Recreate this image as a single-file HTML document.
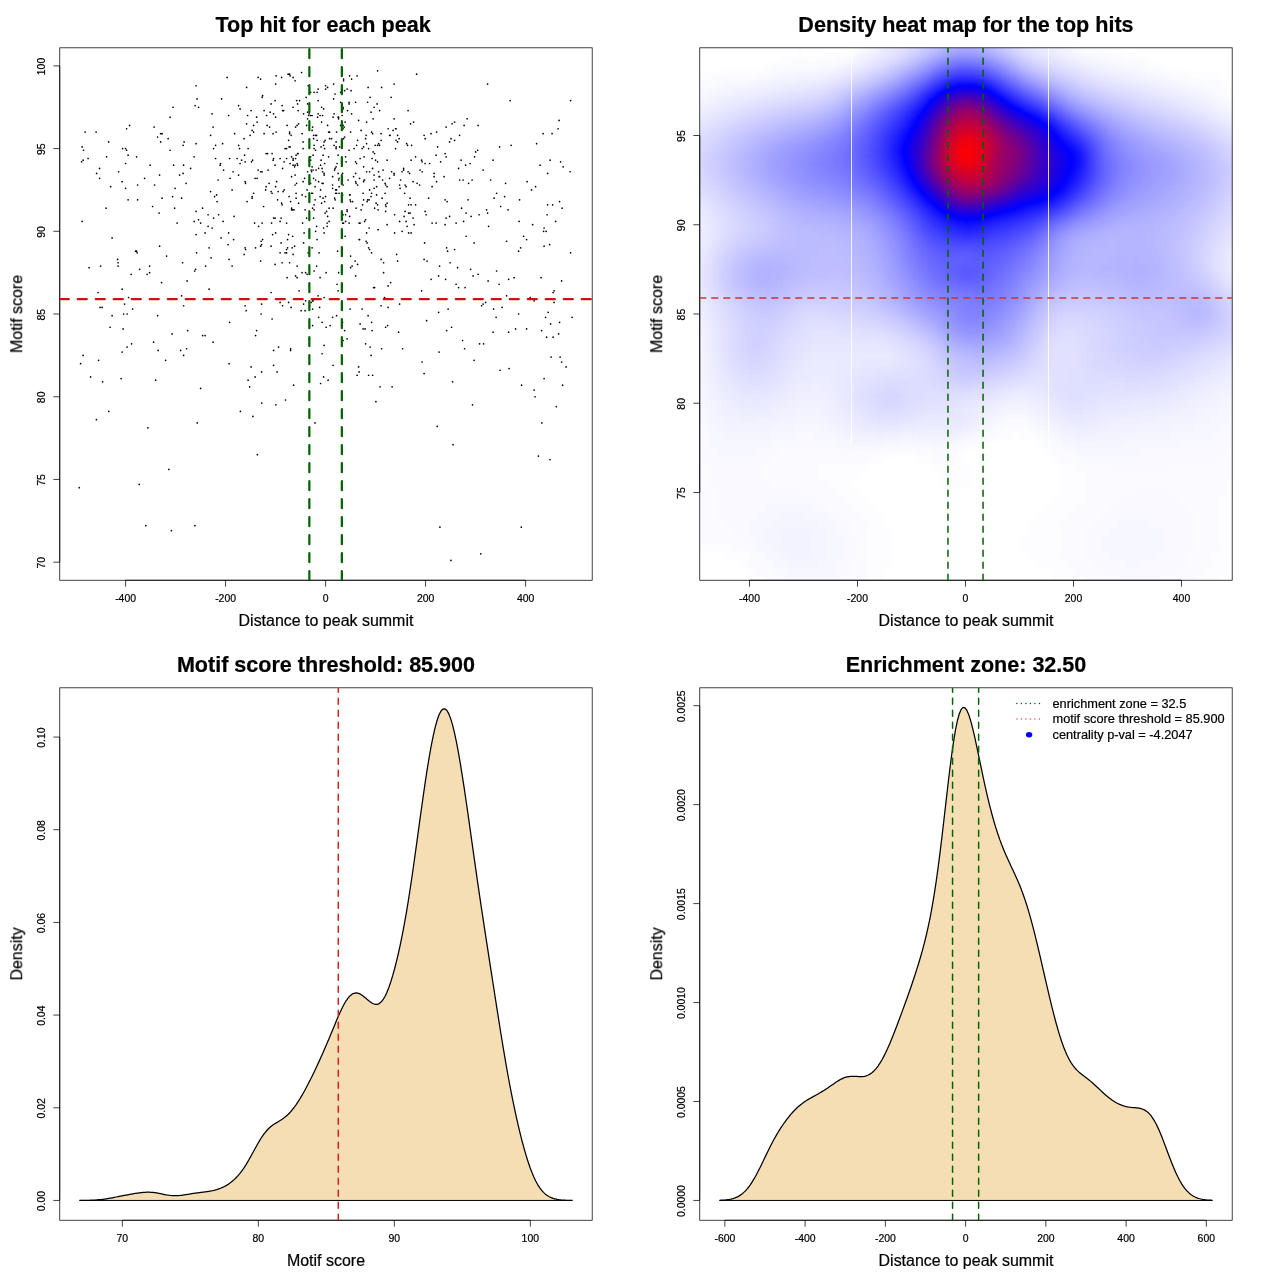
<!DOCTYPE html>
<html lang="en"><head><meta charset="utf-8"><title>Motif enrichment plots</title>
<style>
html,body{margin:0;padding:0;background:#fff;}
svg{display:block;font-family:'Liberation Sans', Arial, Helvetica, sans-serif;fill:#000;}
svg text{stroke:#000;stroke-width:0.22px;}
</style></head>
<body>
<svg width="1280" height="1280" viewBox="0 0 1280 1280">
<defs><clipPath id="c1"><rect x="59.76" y="47.81" width="532.43" height="532.43"/></clipPath><clipPath id="c2"><rect x="699.76" y="47.81" width="532.43" height="532.43"/></clipPath><clipPath id="c3"><rect x="59.76" y="687.81" width="532.43" height="532.43"/></clipPath><clipPath id="c4"><rect x="699.76" y="687.81" width="532.43" height="532.43"/></clipPath><filter id="hm" x="-5%" y="-5%" width="110%" height="110%" color-interpolation-filters="sRGB"><feGaussianBlur stdDeviation="4.8"/><feComponentTransfer><feFuncR type="table" tableValues="1 0 1"/><feFuncG type="table" tableValues="1 0 0"/><feFuncB type="table" tableValues="1 1 0"/><feFuncA type="linear" slope="0" intercept="1"/></feComponentTransfer></filter></defs>
<rect width="1280" height="1280" fill="#fff"/>
<g id="panel1" opacity="0.999">
<rect x="59.76" y="47.81" width="532.43" height="532.43" fill="none" stroke="#000" stroke-width="0.75"/>
<path d="M125.6 580.24H525.6M125.6 580.24v6.4M225.6 580.24v6.4M325.6 580.24v6.4M425.6 580.24v6.4M525.6 580.24v6.4M59.76 562.17V65.87M59.76 562.17h-6.4M59.76 479.46h-6.4M59.76 396.74h-6.4M59.76 314.02h-6.4M59.76 231.31h-6.4M59.76 148.59h-6.4M59.76 65.87h-6.4" fill="none" stroke="#000" stroke-width="0.75"/>
<text x="125.6" y="601.84" font-size="10.45" text-anchor="middle">-400</text>
<text x="225.6" y="601.84" font-size="10.45" text-anchor="middle">-200</text>
<text x="325.6" y="601.84" font-size="10.45" text-anchor="middle">0</text>
<text x="425.6" y="601.84" font-size="10.45" text-anchor="middle">200</text>
<text x="525.6" y="601.84" font-size="10.45" text-anchor="middle">400</text>
<text x="44.86" y="562.77" font-size="10.45" text-anchor="middle" transform="rotate(-90 44.86 562.77)">70</text>
<text x="44.86" y="480.06" font-size="10.45" text-anchor="middle" transform="rotate(-90 44.86 480.06)">75</text>
<text x="44.86" y="397.34" font-size="10.45" text-anchor="middle" transform="rotate(-90 44.86 397.34)">80</text>
<text x="44.86" y="314.62" font-size="10.45" text-anchor="middle" transform="rotate(-90 44.86 314.62)">85</text>
<text x="44.86" y="231.91" font-size="10.45" text-anchor="middle" transform="rotate(-90 44.86 231.91)">90</text>
<text x="44.86" y="149.19" font-size="10.45" text-anchor="middle" transform="rotate(-90 44.86 149.19)">95</text>
<text x="44.86" y="66.47" font-size="10.45" text-anchor="middle" transform="rotate(-90 44.86 66.47)">100</text>
<text x="323.1" y="31.8" font-size="21.55" text-anchor="middle" font-weight="bold">Top hit for each peak</text>
<text x="325.98" y="625.84" font-size="15.98" text-anchor="middle">Distance to peak summit</text>
<text x="22.26" y="314.02" font-size="15.98" text-anchor="middle" transform="rotate(-90 22.26 314.02)">Motif score</text>
<path d="M558.1 128.74h0M463.1 180.02h0M311.6 193.26h0M245.1 305.75h0M544.1 228h0M129.6 125.43h0M247.1 201.53h0M251.6 161.82h0M266.1 186.64h0M214.6 196.57h0M496.6 271.01h0M298.1 110.54h0M518.6 251.16h0M196.1 143.63h0M490.6 180.02h0M362.6 204.84h0M432.1 186.64h0M180.6 350.42h0M478.1 125.43h0M344.6 330.57h0M252.1 130.39h0M228.1 244.54h0M448.1 309.06h0M320.1 277.63h0M558.6 333.88h0M376.1 203.18h0M337.6 251.16h0M196.1 234.62h0M385.6 211.46h0M347.1 89.03h0M369.6 189.95h0M368.6 247.85h0M385.1 183.33h0M268.1 170.1h0M272.1 153.55h0M272.1 318.99h0M258.6 226.34h0M234.1 216.42h0M472.1 180.02h0M397.6 141.97h0M127.1 314.02h0M308.1 252.81h0M316.6 135.36h0M341.6 325.6h0M112.1 237.92h0M336.6 193.26h0M335.1 168.44h0M244.6 155.21h0M547.6 204.84h0M405.1 184.99h0M570.6 252.81h0M338.1 155.21h0M323.6 376.89h0M563.1 166.79h0M452.6 381.85h0M318.1 89.03h0M366.6 232.96h0M342.6 194.91h0M404.1 216.42h0M286.6 249.5h0M446.6 330.57h0M136.6 156.86h0M570.6 100.61h0M515.6 328.91h0M530.1 297.48h0M458.6 287.55h0M303.1 141.97h0M379.6 145.28h0M315.6 231.31h0M296.1 198.22h0M261.6 244.54h0M410.6 123.78h0M246.1 299.13h0M309.1 338.84h0M253.6 125.43h0M348.1 180.02h0M394.1 175.06h0M454.6 140.32h0M282.1 262.74h0M465.1 287.55h0M372.6 168.44h0M99.6 178.37h0M559.1 120.47h0M217.1 201.53h0M183.1 145.28h0M390.6 282.59h0M340.6 102.27h0M291.6 176.71h0M463.6 221.38h0M282.6 305.75h0M186.6 348.77h0M307.6 103.92h0M496.6 193.26h0M387.1 224.69h0M253.6 132.05h0M152.6 206.49h0M343.1 107.23h0M479.6 343.8h0M297.6 299.13h0M233.1 171.75h0M275.6 186.64h0M295.6 275.97h0M296.1 155.21h0M508.1 209.8h0M83.1 355.38h0M301.6 72.49h0M183.1 173.41h0M436.1 155.21h0M278.6 347.11h0M341.6 266.05h0M122.1 181.68h0M424.6 242.89h0M296.6 183.33h0M200.6 223.04h0M123.1 328.91h0M322.1 183.33h0M149.6 266.05h0M82.1 221.38h0M470.6 269.36h0M305.6 196.57h0M273.6 350.42h0M411.6 145.28h0M229.1 259.43h0M302.6 223.04h0M559.6 201.53h0M108.6 141.97h0M488.6 226.34h0M295.6 158.52h0M449.6 141.97h0M323.6 228h0M554.1 302.44h0M374.6 153.55h0M228.6 232.96h0M96.1 132.05h0M536.6 143.63h0M371.6 322.3h0M158.1 350.42h0M424.1 259.43h0M310.6 160.17h0M483.1 304.1h0M324.1 175.06h0M424.1 373.58h0M275.1 100.61h0M205.6 266.05h0M331.6 138.66h0M445.1 199.87h0M452.1 123.78h0M213.6 218.07h0M369.1 199.87h0M209.1 247.85h0M324.1 297.48h0M333.6 98.96h0M297.1 163.48h0M417.1 183.33h0M350.6 256.12h0M124.6 304.1h0M325.6 196.57h0M181.6 198.22h0M195.1 105.58h0M366.1 135.36h0M128.1 199.87h0M561.6 280.94h0M239.6 148.59h0M299.1 290.86h0M413.1 218.07h0M312.6 300.79h0M544.1 246.2h0M333.6 84.07h0M298.6 203.18h0M135.6 251.16h0M246.1 310.72h0M357.6 264.39h0M413.6 122.12h0M350.1 199.87h0M439.1 352.07h0M387.1 160.17h0M257.1 178.37h0M450.1 262.74h0M409.6 173.41h0M183.6 165.13h0M295.1 175.06h0M161.6 282.59h0M229.6 322.3h0M228.6 115.5h0M357.1 75.8h0M372.6 133.7h0M372.1 330.57h0M195.6 269.36h0M336.1 141.97h0M262.1 97.31h0M292.6 236.27h0M328.6 132.05h0M162.1 133.7h0M312.6 325.6h0M293.1 158.52h0M499.1 284.25h0M318.6 317.33h0M374.6 287.55h0M267.1 125.43h0M425.1 163.48h0M367.6 199.87h0M336.1 166.79h0M570.1 171.75h0M438.6 275.97h0M333.1 208.15h0M212.1 113.85h0M174.6 208.15h0M157.6 137.01h0M280.1 252.81h0M325.1 140.32h0M363.6 199.87h0M196.1 85.73h0M362.1 309.06h0M425.1 138.66h0M290.6 350.42h0M372.6 168.44h0M291.6 208.15h0M360.1 323.95h0M294.6 166.79h0M327.6 216.42h0M248.1 148.59h0M466.1 236.27h0M137.1 252.81h0M543.6 231.31h0M483.6 343.8h0M408.1 110.54h0M284.1 189.95h0M307.6 118.81h0M434.1 176.71h0M511.1 145.28h0M291.6 209.8h0M371.6 132.05h0M308.1 85.73h0M349.6 194.91h0M408.6 232.96h0M342.6 173.41h0M366.1 241.23h0M502.1 307.41h0M552.1 133.7h0M334.6 170.1h0M340.6 92.34h0M359.6 239.58h0M357.6 184.99h0M312.1 247.85h0M336.1 146.94h0M240.1 163.48h0M216.6 194.91h0M270.1 112.19h0M238.6 145.28h0M122.6 148.59h0M335.1 199.87h0M377.6 70.84h0M229.6 158.52h0M367.1 242.89h0M315.1 199.87h0M194.1 221.38h0M320.1 196.57h0M421.6 290.86h0M446.1 156.86h0M365.6 219.73h0M332.6 176.71h0M245.6 183.33h0M281.6 77.45h0M355.6 181.68h0M385.6 327.26h0M406.1 221.38h0M308.6 115.5h0M363.6 146.94h0M322.1 353.73h0M313.1 300.79h0M545.6 317.33h0M154.1 127.08h0M127.1 347.11h0M327.1 223.04h0M456.1 223.04h0M215.6 145.28h0M376.6 194.91h0M324.1 232.96h0M276.1 132.05h0M292.6 209.8h0M125.6 163.48h0M468.6 183.33h0M387.6 325.6h0M447.6 251.16h0M202.6 208.15h0M383.1 170.1h0M377.6 145.28h0M422.1 171.75h0M356.6 145.28h0M500.6 206.49h0M297.1 266.05h0M381.1 259.43h0M289.6 262.74h0M343.6 79.11h0M416.6 74.15h0M339.1 178.37h0M305.1 310.72h0M436.1 223.04h0M301.1 310.72h0M250.1 135.36h0M446.1 218.07h0M422.1 362h0M106.6 156.86h0M125.6 148.59h0M546.6 337.18h0M402.1 231.31h0M137.6 184.99h0M381.6 87.38h0M316.6 226.34h0M353.6 176.71h0M186.1 183.33h0M370.1 97.31h0M445.1 224.69h0M394.1 84.07h0M508.6 279.28h0M280.1 221.38h0M535.1 396.74h0M477.6 150.24h0M117.6 259.43h0M366.6 171.75h0M534.1 390.12h0M359.1 371.93h0M426.6 320.64h0M175.1 188.29h0M347.6 110.54h0M287.6 247.85h0M550.6 323.95h0M560.6 161.82h0M474.6 156.86h0M297.1 277.63h0M264.1 110.54h0M307.6 112.19h0M256.6 117.16h0M388.1 285.9h0M343.1 214.76h0M277.6 199.87h0M500.1 370.27h0M365.6 138.66h0M451.1 138.66h0M428.6 198.22h0M159.1 213.11h0M371.1 355.38h0M566.1 366.96h0M421.6 160.17h0M329.6 132.05h0M479.1 214.76h0M349.6 75.8h0M299.6 100.61h0M414.1 224.69h0M493.1 160.17h0M303.6 304.1h0M332.6 184.99h0M354.1 148.59h0M338.6 180.02h0M352.1 266.05h0M230.1 178.37h0M374.6 208.15h0M310.6 115.5h0M508.6 332.22h0M381.1 133.7h0M283.1 191.6h0M136.6 251.16h0M289.6 133.7h0M382.1 198.22h0M307.1 274.32h0M391.6 171.75h0M324.6 148.59h0M360.1 223.04h0M106.1 208.15h0M313.6 135.36h0M532.6 224.69h0M371.6 252.81h0M309.1 113.85h0M205.1 232.96h0M407.6 145.28h0M273.6 218.07h0M282.1 105.58h0M283.6 110.54h0M244.1 254.47h0M499.6 146.94h0M293.1 165.13h0M281.1 242.89h0M379.6 176.71h0M427.1 261.09h0M345.1 236.27h0M322.1 322.3h0M288.6 234.62h0M394.1 118.81h0M303.6 113.85h0M376.6 186.64h0M488.1 280.94h0M297.6 103.92h0M359.6 178.37h0M291.6 156.86h0M434.1 173.41h0M147.1 274.32h0M288.1 74.15h0M458.6 168.44h0M310.6 156.86h0M396.6 254.47h0M312.1 115.5h0M89.1 267.7h0M324.1 345.46h0M128.6 297.48h0M323.6 108.89h0M364.1 180.02h0M340.6 125.43h0M371.1 196.57h0M526.6 328.91h0M553.1 292.52h0M389.6 135.36h0M365.6 343.8h0M481.6 305.75h0M314.1 271.01h0M314.1 148.59h0M321.6 122.12h0M425.1 211.46h0M431.1 133.7h0M320.6 189.95h0M457.6 267.7h0M327.6 125.43h0M350.1 309.06h0M298.1 153.55h0M415.6 204.84h0M314.1 204.84h0M549.6 244.54h0M210.6 135.36h0M100.1 307.41h0M96.6 173.41h0M246.6 87.38h0M305.1 209.8h0M369.6 249.5h0M212.1 228h0M295.1 184.99h0M288.6 140.32h0M310.6 183.33h0M342.6 322.3h0M389.6 178.37h0M276.1 75.8h0M424.1 135.36h0M494.1 198.22h0M229.1 363.65h0M291.1 307.41h0M271.1 292.52h0M344.1 127.08h0M209.1 289.21h0M287.1 277.63h0M290.6 201.53h0M347.1 338.84h0M336.6 189.95h0M327.1 226.34h0M286.6 252.81h0M375.1 145.28h0M322.6 171.75h0M302.1 272.67h0M255.6 247.85h0M252.6 160.17h0M345.1 122.12h0M261.6 304.1h0M181.6 295.83h0M173.6 165.13h0M411.1 232.96h0M238.6 105.58h0M459.6 180.02h0M172.1 333.88h0M338.6 117.16h0M309.6 89.03h0M179.6 175.06h0M324.6 201.53h0M262.1 171.75h0M280.1 302.44h0M327.6 87.38h0M325.1 213.11h0M305.6 300.79h0M273.1 160.17h0M307.6 171.75h0M314.1 145.28h0M355.6 275.97h0M349.1 223.04h0M200.6 388.47h0M410.1 213.11h0M338.6 272.67h0M273.6 113.85h0M280.1 158.52h0M350.6 132.05h0M296.6 100.61h0M438.6 312.37h0M245.1 181.68h0M561.6 362h0M149.6 272.67h0M131.1 274.32h0M363.6 166.79h0M165.6 360.35h0M284.1 161.82h0M519.1 221.38h0M194.6 271.01h0M245.1 161.82h0M338.6 118.81h0M258.1 170.1h0M381.1 140.32h0M317.1 239.58h0M249.6 386.81h0M478.1 274.32h0M232.1 189.95h0M213.1 342.15h0M154.6 184.99h0M325.6 89.03h0M320.6 165.13h0M461.1 160.17h0M551.1 357.04h0M278.1 191.6h0M410.1 198.22h0M319.6 307.41h0M381.6 348.77h0M356.6 163.48h0M467.1 118.81h0M315.6 150.24h0M168.1 138.66h0M324.6 163.48h0M99.6 168.44h0M413.1 181.68h0M384.6 297.48h0M369.6 171.75h0M339.1 186.64h0M394.1 173.41h0M297.6 165.13h0M202.6 335.53h0M240.1 108.89h0M271.6 223.04h0M403.6 170.1h0M275.6 117.16h0M285.1 252.81h0M198.6 219.73h0M273.6 365.31h0M361.1 130.39h0M302.1 133.7h0M234.6 133.7h0M364.6 180.02h0M396.1 128.74h0M317.1 92.34h0M357.1 375.23h0M387.1 203.18h0M221.1 237.92h0M263.6 206.49h0M311.6 171.75h0M382.6 180.02h0M262.6 239.58h0M369.1 228h0M309.6 305.75h0M317.1 140.32h0M314.1 92.34h0M385.1 193.26h0M337.1 163.48h0M162.1 198.22h0M205.1 335.53h0M173.1 107.23h0M131.6 343.8h0M355.1 261.09h0M262.6 95.65h0M374.1 175.06h0M265.6 189.95h0M325.6 85.73h0M373.6 287.55h0M483.1 170.1h0M296.1 193.26h0M553.1 337.18h0M160.6 133.7h0M197.1 98.96h0M350.1 194.91h0M261.1 241.23h0M357.6 140.32h0M548.1 312.37h0M394.6 232.96h0M121.1 378.54h0M345.6 214.76h0M295.6 127.08h0M241.6 160.17h0M312.6 127.08h0M431.1 279.28h0M128.1 155.21h0M328.1 380.2h0M157.6 315.68h0M464.6 348.77h0M395.6 128.74h0M293.6 385.16h0M487.6 84.07h0M342.1 105.58h0M221.6 98.96h0M289.6 74.15h0M368.1 87.38h0M218.1 180.02h0M118.6 171.75h0M429.6 163.48h0M203.6 299.13h0M344.6 137.01h0M232.1 266.05h0M406.1 186.64h0M355.6 161.82h0M83.6 150.24h0M373.1 118.81h0M493.6 309.06h0M183.6 305.75h0M233.6 239.58h0M166.6 256.12h0M317.6 117.16h0M286.6 158.52h0M227.1 77.45h0M322.1 168.44h0M377.1 103.92h0M474.1 242.89h0M520.6 247.85h0M368.6 375.23h0M315.1 186.64h0M345.6 221.38h0M334.1 113.85h0M343.1 108.89h0M465.6 165.13h0M293.1 160.17h0M534.1 300.79h0M194.1 156.86h0M313.6 138.66h0M523.6 236.27h0M282.6 168.44h0M373.1 151.9h0M544.1 378.54h0M550.1 160.17h0M245.1 247.85h0M370.1 347.11h0M345.6 156.86h0M400.1 188.29h0M342.6 223.04h0M211.1 257.78h0M126.6 150.24h0M218.6 214.76h0M355.6 173.41h0M378.6 171.75h0M305.6 272.67h0M255.6 335.53h0M304.1 232.96h0M555.6 221.38h0M125.6 188.29h0M358.6 120.47h0M246.6 123.78h0M139.6 269.36h0M316.6 266.05h0M474.1 360.35h0M393.1 130.39h0M223.1 221.38h0M184.1 141.97h0M342.1 218.07h0M385.6 184.99h0M198.6 107.23h0M547.6 173.41h0M286.6 148.59h0M287.1 125.43h0M155.6 380.2h0M468.1 199.87h0M333.1 117.16h0M446.6 247.85h0M505.6 183.33h0M411.1 204.84h0M282.1 204.84h0M398.6 332.22h0M351.1 90.69h0M253.6 193.26h0M292.1 247.85h0M323.1 155.21h0M273.6 158.52h0M182.6 262.74h0M338.1 173.41h0M288.6 302.44h0M311.1 170.1h0M260.6 246.2h0M160.6 141.97h0M100.6 266.05h0M332.6 317.33h0M295.1 80.76h0M307.1 189.95h0M187.6 330.57h0M332.6 188.29h0M445.1 153.55h0M294.1 209.8h0M521.6 385.16h0M318.1 113.85h0M170.1 117.16h0M112.1 315.68h0M329.6 138.66h0M312.6 193.26h0M344.6 90.69h0M312.6 208.15h0M293.1 77.45h0M396.1 140.32h0M336.6 315.68h0M510.1 100.61h0M137.6 199.87h0M349.1 150.24h0M378.1 229.65h0M315.6 180.02h0M330.1 325.6h0M349.6 216.42h0M372.1 158.52h0M407.1 226.34h0M535.6 186.64h0M399.1 138.66h0M559.6 322.3h0M356.1 208.15h0M254.6 223.04h0M368.1 315.68h0M466.1 213.11h0M383.6 272.67h0M321.6 203.18h0M372.6 375.23h0M318.1 100.61h0M360.1 158.52h0M350.6 267.7h0M385.6 204.84h0M386.1 206.49h0M371.6 193.26h0M223.6 170.1h0M420.1 170.1h0M399.6 221.38h0M493.1 332.22h0M289.6 132.05h0M335.6 189.95h0M475.6 151.9h0M485.6 302.44h0M359.1 223.04h0M316.1 170.1h0M378.1 209.8h0M122.1 289.21h0M470.1 163.48h0M473.1 275.97h0M222.6 143.63h0M261.6 371.93h0M183.6 355.38h0M543.1 133.7h0M289.1 196.57h0M432.1 223.04h0M343.1 125.43h0M372.1 158.52h0M213.6 148.59h0M262.1 223.04h0M397.6 261.09h0M302.1 194.91h0M392.1 386.81h0M266.1 153.55h0M123.6 314.02h0M290.1 146.94h0M328.6 156.86h0M271.1 103.92h0M334.1 145.28h0M343.6 223.04h0M361.1 209.8h0M519.6 199.87h0M388.1 128.74h0M426.1 214.76h0M546.1 231.31h0M170.1 150.24h0M245.6 249.5h0M286.6 223.04h0M531.6 189.95h0M374.1 180.02h0M309.6 180.02h0M257.1 122.12h0M364.1 156.86h0M364.6 221.38h0M321.1 160.17h0M252.1 196.57h0M291.1 135.36h0M306.1 97.31h0M294.6 246.2h0M562.1 208.15h0M547.1 214.76h0M408.6 213.11h0M356.1 183.33h0M159.6 175.06h0M541.6 330.57h0M471.1 216.42h0M260.6 261.09h0M387.1 186.64h0M237.1 158.52h0M98.1 292.52h0M196.1 211.46h0M541.1 277.63h0M321.1 146.94h0M461.6 208.15h0M260.6 79.11h0M560.1 357.04h0M269.6 127.08h0M363.1 193.26h0M342.6 125.43h0M397.6 135.36h0M290.1 75.8h0M335.6 193.26h0M324.1 173.41h0M320.6 383.51h0M110.6 186.64h0M454.6 249.5h0M118.1 266.05h0M436.6 181.68h0M380.1 386.81h0M374.1 188.29h0M256.6 330.57h0M339.6 146.94h0M496.1 317.33h0M275.1 264.39h0M324.1 141.97h0M315.6 135.36h0M337.1 284.25h0M187.1 280.94h0M98.6 360.35h0M319.1 252.81h0M365.1 328.91h0M275.1 218.07h0M439.6 266.05h0M251.1 366.96h0M126.6 128.74h0M264.1 133.7h0M298.6 123.78h0M367.1 201.53h0M276.6 181.68h0M359.1 239.58h0M338.1 117.16h0M220.6 163.48h0M282.6 110.54h0M518.6 314.02h0M336.6 132.05h0M275.6 84.07h0M275.6 232.96h0M290.1 163.48h0M273.1 133.7h0M338.1 290.86h0M267.6 153.55h0M371.1 112.19h0M552.6 204.84h0M81.6 161.82h0M323.1 198.22h0M247.6 115.5h0M261.1 314.02h0M437.6 146.94h0M408.6 204.84h0M366.6 143.63h0M408.1 171.75h0M272.6 234.62h0M303.1 148.59h0M287.6 239.58h0M213.1 127.08h0M447.1 201.53h0M540.1 165.13h0M266.6 115.5h0M395.6 148.59h0M363.1 328.91h0M102.6 381.85h0M271.1 246.2h0M238.6 175.06h0M85.1 132.05h0M415.6 156.86h0M506.6 295.83h0M355.6 102.27h0M318.1 295.83h0M562.6 385.16h0M440.6 161.82h0M83.1 160.17h0M406.6 143.63h0M322.6 115.5h0M487.6 213.11h0M312.1 166.79h0M383.6 262.74h0M402.1 171.75h0M271.1 191.6h0M244.1 138.66h0M314.1 209.8h0M321.6 107.23h0M159.6 246.2h0M306.6 218.07h0M343.1 128.74h0M144.6 178.37h0M375.6 160.17h0M329.1 221.38h0M285.1 148.59h0M260.6 171.75h0M303.6 242.89h0M411.1 160.17h0M351.6 79.11h0M275.1 165.13h0M379.6 110.54h0M303.1 181.68h0M313.6 178.37h0M352.6 201.53h0M377.6 161.82h0M258.1 77.45h0M462.6 340.49h0M436.6 132.05h0M527.1 181.68h0M419.6 184.99h0M388.1 307.41h0M248.1 380.2h0M190.6 168.44h0M306.6 125.43h0M210.6 191.6h0M290.6 348.77h0M394.6 214.76h0M196.6 252.81h0M342.1 115.5h0M313.1 170.1h0M347.1 211.46h0M572.1 317.33h0M318.6 168.44h0M368.6 148.59h0M80.6 363.65h0M309.6 160.17h0M449.6 216.42h0M347.1 209.8h0M349.1 103.92h0M102.1 307.41h0M122.1 352.07h0M329.1 208.15h0M349.1 102.27h0M255.1 178.37h0M446.1 127.08h0M297.6 153.55h0M374.6 208.15h0M281.1 218.07h0M215.6 158.52h0M318.6 181.68h0M323.1 183.33h0M293.1 254.47h0M390.1 135.36h0M277.1 371.93h0M464.1 125.43h0M403.6 168.44h0M150.1 165.13h0M323.6 145.28h0M343.6 80.76h0M255.1 376.89h0M208.1 226.34h0M313.6 218.07h0M377.6 204.84h0M326.6 211.46h0M334.6 198.22h0M110.1 327.26h0M526.6 239.58h0M378.6 143.63h0M295.1 165.13h0M506.6 241.23h0M208.1 214.76h0M336.1 148.59h0M297.1 125.43h0M313.1 155.21h0M312.6 309.06h0M391.1 97.31h0M381.1 305.75h0M399.6 304.1h0M509.1 368.62h0M399.6 184.99h0M312.1 130.39h0M132.6 309.06h0M366.6 122.12h0M153.6 342.15h0M486.6 209.8h0M362.1 148.59h0M339.1 193.26h0M363.6 181.68h0M554.1 290.86h0M311.1 302.44h0M374.1 107.23h0M346.1 161.82h0M177.1 223.04h0M459.6 135.36h0M272.1 193.26h0M326.6 211.46h0M351.6 113.85h0M82.1 146.94h0M445.6 279.28h0M118.1 262.74h0M281.6 203.18h0M400.6 180.02h0M252.1 198.22h0M444.1 176.71h0M326.1 327.26h0M422.1 161.82h0M343.1 340.49h0M367.6 102.27h0M405.1 211.46h0M343.1 184.99h0M220.1 165.13h0M251.1 110.54h0M326.1 272.67h0M350.6 201.53h0M289.1 146.94h0M333.1 365.31h0M88.1 158.52h0M514.1 277.63h0M90.6 376.89h0M402.6 348.77h0M451.6 327.26h0M504.6 196.57h0M335.1 94h0M358.6 366.96h0M269.1 183.33h0M404.6 193.26h0M172.6 196.57h0M456.1 284.25h0M454.6 122.12h0M320.1 115.5h0M293.1 107.23h0M304.6 178.37h0M379.1 176.71h0M310.6 92.34h0M343.6 138.66h0M108.8 411.4h0M96.4 419.7h0M147.9 427.8h0M197.2 422.9h0M240.4 411.4h0M252.9 416.4h0M261.8 403.1h0M275.9 404.8h0M285.5 400h0M315 422.9h0M257.4 454.7h0M168.9 469.4h0M139.2 484.4h0M79.3 487.7h0M145.8 525.7h0M171.4 530.7h0M194.9 525.7h0M375.9 401.7h0M472.5 404.8h0M556.3 406.6h0M541.9 422.9h0M437.2 426.4h0M453 444.7h0M538.4 456.1h0M550 459.6h0M439.9 527.2h0M521.3 527.2h0M480.8 553.8h0M450.9 560.4h0" stroke="#000" stroke-width="1.7" stroke-linecap="round" fill="none"/>
<g clip-path="url(#c1)">
<path d="M309.35 580.24L309.35 47.81" stroke="#006400" stroke-width="2.25" stroke-dasharray="9 9" stroke-linecap="round" fill="none"/>
<path d="M341.85 580.24L341.85 47.81" stroke="#006400" stroke-width="2.25" stroke-dasharray="9 9" stroke-linecap="round" fill="none"/>
<path d="M59.76 299.13L592.19 299.13" stroke="#CD1111" stroke-width="2.25" stroke-dasharray="9 9" stroke-linecap="round" fill="none"/>
</g>
</g>
<g id="panel2" opacity="0.999">
<g clip-path="url(#c2)"><g filter="url(#hm)">
<path fill="#000000" d="M675.76 23.81h184.5v8.5h-184.5zM1091.76 23.81h168.5v8.5h-168.5zM675.76 31.81h184.5v8.5h-184.5zM1091.76 31.81h168.5v8.5h-168.5zM675.76 39.81h184.5v8.5h-184.5zM1091.76 39.81h168.5v8.5h-168.5zM675.76 47.81h120.5v8.5h-120.5zM803.76 47.81h48.5v8.5h-48.5zM1123.76 47.81h136.5v8.5h-136.5zM675.76 55.81h104.5v8.5h-104.5zM1147.76 55.81h112.5v8.5h-112.5zM675.76 63.81h88.5v8.5h-88.5zM1163.76 63.81h96.5v8.5h-96.5zM1219.76 71.81h40.5v8.5h-40.5zM1227.76 79.81h32.5v8.5h-32.5zM1011.76 431.81h8.5v8.5h-8.5zM987.76 439.81h48.5v8.5h-48.5zM963.76 447.81h80.5v8.5h-80.5zM883.76 455.81h32.5v8.5h-32.5zM963.76 455.81h88.5v8.5h-88.5zM867.76 463.81h64.5v8.5h-64.5zM971.76 463.81h88.5v8.5h-88.5zM859.76 471.81h80.5v8.5h-80.5zM971.76 471.81h88.5v8.5h-88.5zM851.76 479.81h88.5v8.5h-88.5zM971.76 479.81h88.5v8.5h-88.5zM859.76 487.81h200.5v8.5h-200.5zM867.76 495.81h184.5v8.5h-184.5zM875.76 503.81h168.5v8.5h-168.5zM883.76 511.81h152.5v8.5h-152.5zM883.76 519.81h144.5v8.5h-144.5zM891.76 527.81h136.5v8.5h-136.5zM891.76 535.81h128.5v8.5h-128.5zM891.76 543.81h128.5v8.5h-128.5zM675.76 551.81h48.5v8.5h-48.5zM891.76 551.81h136.5v8.5h-136.5zM675.76 559.81h64.5v8.5h-64.5zM891.76 559.81h144.5v8.5h-144.5zM1227.76 559.81h32.5v8.5h-32.5zM675.76 567.81h72.5v8.5h-72.5zM883.76 567.81h168.5v8.5h-168.5zM1227.76 567.81h32.5v8.5h-32.5zM675.76 575.81h72.5v8.5h-72.5zM883.76 575.81h168.5v8.5h-168.5zM1219.76 575.81h40.5v8.5h-40.5zM675.76 583.81h72.5v8.5h-72.5zM883.76 583.81h168.5v8.5h-168.5zM1219.76 583.81h40.5v8.5h-40.5zM675.76 591.81h72.5v8.5h-72.5zM883.76 591.81h168.5v8.5h-168.5zM1219.76 591.81h40.5v8.5h-40.5zM675.76 599.81h72.5v8.5h-72.5zM883.76 599.81h168.5v8.5h-168.5zM1219.76 599.81h40.5v8.5h-40.5z"/>
<path fill="#010101" d="M1083.76 23.81h8.5v8.5h-8.5zM1083.76 31.81h8.5v8.5h-8.5zM1083.76 39.81h8.5v8.5h-8.5zM795.76 47.81h8.5v8.5h-8.5zM1099.76 47.81h24.5v8.5h-24.5zM779.76 55.81h56.5v8.5h-56.5zM1131.76 55.81h16.5v8.5h-16.5zM763.76 63.81h8.5v8.5h-8.5zM1155.76 63.81h8.5v8.5h-8.5zM675.76 71.81h40.5v8.5h-40.5zM1187.76 71.81h32.5v8.5h-32.5zM1219.76 79.81h8.5v8.5h-8.5zM1227.76 87.81h32.5v8.5h-32.5zM995.76 431.81h16.5v8.5h-16.5zM1019.76 431.81h16.5v8.5h-16.5zM971.76 439.81h16.5v8.5h-16.5zM1035.76 439.81h8.5v8.5h-8.5zM891.76 447.81h24.5v8.5h-24.5zM955.76 447.81h8.5v8.5h-8.5zM1043.76 447.81h8.5v8.5h-8.5zM867.76 455.81h16.5v8.5h-16.5zM915.76 455.81h16.5v8.5h-16.5zM955.76 455.81h8.5v8.5h-8.5zM1051.76 455.81h8.5v8.5h-8.5zM819.76 463.81h48.5v8.5h-48.5zM931.76 463.81h24.5v8.5h-24.5zM963.76 463.81h8.5v8.5h-8.5zM1059.76 463.81h16.5v8.5h-16.5zM819.76 471.81h40.5v8.5h-40.5zM939.76 471.81h32.5v8.5h-32.5zM1059.76 471.81h24.5v8.5h-24.5zM827.76 479.81h24.5v8.5h-24.5zM939.76 479.81h32.5v8.5h-32.5zM1059.76 479.81h24.5v8.5h-24.5zM1227.76 479.81h32.5v8.5h-32.5zM835.76 487.81h24.5v8.5h-24.5zM1059.76 487.81h24.5v8.5h-24.5zM1227.76 487.81h32.5v8.5h-32.5zM843.76 495.81h24.5v8.5h-24.5zM1051.76 495.81h32.5v8.5h-32.5zM1219.76 495.81h40.5v8.5h-40.5zM851.76 503.81h24.5v8.5h-24.5zM1043.76 503.81h32.5v8.5h-32.5zM1219.76 503.81h40.5v8.5h-40.5zM859.76 511.81h24.5v8.5h-24.5zM1035.76 511.81h32.5v8.5h-32.5zM1219.76 511.81h40.5v8.5h-40.5zM867.76 519.81h16.5v8.5h-16.5zM1027.76 519.81h32.5v8.5h-32.5zM1219.76 519.81h40.5v8.5h-40.5zM867.76 527.81h24.5v8.5h-24.5zM1027.76 527.81h32.5v8.5h-32.5zM1219.76 527.81h40.5v8.5h-40.5zM867.76 535.81h24.5v8.5h-24.5zM1019.76 535.81h40.5v8.5h-40.5zM1219.76 535.81h40.5v8.5h-40.5zM675.76 543.81h56.5v8.5h-56.5zM867.76 543.81h24.5v8.5h-24.5zM1019.76 543.81h40.5v8.5h-40.5zM1219.76 543.81h40.5v8.5h-40.5zM723.76 551.81h24.5v8.5h-24.5zM867.76 551.81h24.5v8.5h-24.5zM1027.76 551.81h32.5v8.5h-32.5zM1211.76 551.81h48.5v8.5h-48.5zM739.76 559.81h8.5v8.5h-8.5zM867.76 559.81h24.5v8.5h-24.5zM1035.76 559.81h32.5v8.5h-32.5zM1211.76 559.81h16.5v8.5h-16.5zM747.76 567.81h8.5v8.5h-8.5zM867.76 567.81h16.5v8.5h-16.5zM1051.76 567.81h24.5v8.5h-24.5zM1203.76 567.81h24.5v8.5h-24.5zM747.76 575.81h16.5v8.5h-16.5zM867.76 575.81h16.5v8.5h-16.5zM1051.76 575.81h32.5v8.5h-32.5zM1195.76 575.81h24.5v8.5h-24.5zM747.76 583.81h16.5v8.5h-16.5zM867.76 583.81h16.5v8.5h-16.5zM1051.76 583.81h32.5v8.5h-32.5zM1195.76 583.81h24.5v8.5h-24.5zM747.76 591.81h16.5v8.5h-16.5zM867.76 591.81h16.5v8.5h-16.5zM1051.76 591.81h32.5v8.5h-32.5zM1195.76 591.81h24.5v8.5h-24.5zM747.76 599.81h16.5v8.5h-16.5zM867.76 599.81h16.5v8.5h-16.5zM1051.76 599.81h32.5v8.5h-32.5zM1195.76 599.81h24.5v8.5h-24.5z"/>
<path fill="#020202" d="M1075.76 23.81h8.5v8.5h-8.5zM1075.76 31.81h8.5v8.5h-8.5zM1075.76 39.81h8.5v8.5h-8.5zM851.76 47.81h8.5v8.5h-8.5zM1083.76 47.81h16.5v8.5h-16.5zM835.76 55.81h8.5v8.5h-8.5zM1123.76 55.81h8.5v8.5h-8.5zM771.76 63.81h16.5v8.5h-16.5zM1147.76 63.81h8.5v8.5h-8.5zM715.76 71.81h40.5v8.5h-40.5zM1171.76 71.81h16.5v8.5h-16.5zM675.76 79.81h32.5v8.5h-32.5zM1203.76 79.81h16.5v8.5h-16.5zM1219.76 87.81h8.5v8.5h-8.5zM1227.76 95.81h32.5v8.5h-32.5zM1003.76 423.81h24.5v8.5h-24.5zM987.76 431.81h8.5v8.5h-8.5zM1035.76 431.81h8.5v8.5h-8.5zM963.76 439.81h8.5v8.5h-8.5zM1043.76 439.81h8.5v8.5h-8.5zM779.76 447.81h56.5v8.5h-56.5zM875.76 447.81h16.5v8.5h-16.5zM915.76 447.81h16.5v8.5h-16.5zM947.76 447.81h8.5v8.5h-8.5zM1051.76 447.81h8.5v8.5h-8.5zM1227.76 447.81h32.5v8.5h-32.5zM675.76 455.81h24.5v8.5h-24.5zM771.76 455.81h96.5v8.5h-96.5zM931.76 455.81h24.5v8.5h-24.5zM1059.76 455.81h16.5v8.5h-16.5zM1219.76 455.81h40.5v8.5h-40.5zM675.76 463.81h32.5v8.5h-32.5zM763.76 463.81h56.5v8.5h-56.5zM955.76 463.81h8.5v8.5h-8.5zM1075.76 463.81h32.5v8.5h-32.5zM1171.76 463.81h88.5v8.5h-88.5zM675.76 471.81h32.5v8.5h-32.5zM763.76 471.81h56.5v8.5h-56.5zM1083.76 471.81h176.5v8.5h-176.5zM675.76 479.81h32.5v8.5h-32.5zM771.76 479.81h56.5v8.5h-56.5zM1083.76 479.81h144.5v8.5h-144.5zM675.76 487.81h40.5v8.5h-40.5zM803.76 487.81h32.5v8.5h-32.5zM1083.76 487.81h48.5v8.5h-48.5zM1171.76 487.81h56.5v8.5h-56.5zM675.76 495.81h40.5v8.5h-40.5zM819.76 495.81h24.5v8.5h-24.5zM1083.76 495.81h32.5v8.5h-32.5zM1179.76 495.81h40.5v8.5h-40.5zM675.76 503.81h40.5v8.5h-40.5zM827.76 503.81h24.5v8.5h-24.5zM1075.76 503.81h32.5v8.5h-32.5zM1187.76 503.81h32.5v8.5h-32.5zM675.76 511.81h40.5v8.5h-40.5zM843.76 511.81h16.5v8.5h-16.5zM1067.76 511.81h32.5v8.5h-32.5zM1195.76 511.81h24.5v8.5h-24.5zM675.76 519.81h48.5v8.5h-48.5zM851.76 519.81h16.5v8.5h-16.5zM1059.76 519.81h32.5v8.5h-32.5zM1195.76 519.81h24.5v8.5h-24.5zM675.76 527.81h56.5v8.5h-56.5zM851.76 527.81h16.5v8.5h-16.5zM1059.76 527.81h24.5v8.5h-24.5zM1195.76 527.81h24.5v8.5h-24.5zM675.76 535.81h64.5v8.5h-64.5zM859.76 535.81h8.5v8.5h-8.5zM1059.76 535.81h24.5v8.5h-24.5zM1195.76 535.81h24.5v8.5h-24.5zM731.76 543.81h16.5v8.5h-16.5zM859.76 543.81h8.5v8.5h-8.5zM1059.76 543.81h24.5v8.5h-24.5zM1195.76 543.81h24.5v8.5h-24.5zM747.76 551.81h8.5v8.5h-8.5zM859.76 551.81h8.5v8.5h-8.5zM1059.76 551.81h24.5v8.5h-24.5zM1187.76 551.81h24.5v8.5h-24.5zM747.76 559.81h16.5v8.5h-16.5zM851.76 559.81h16.5v8.5h-16.5zM1067.76 559.81h24.5v8.5h-24.5zM1187.76 559.81h24.5v8.5h-24.5zM755.76 567.81h16.5v8.5h-16.5zM851.76 567.81h16.5v8.5h-16.5zM1075.76 567.81h24.5v8.5h-24.5zM1179.76 567.81h24.5v8.5h-24.5zM763.76 575.81h16.5v8.5h-16.5zM843.76 575.81h24.5v8.5h-24.5zM1083.76 575.81h32.5v8.5h-32.5zM1163.76 575.81h32.5v8.5h-32.5zM763.76 583.81h16.5v8.5h-16.5zM843.76 583.81h24.5v8.5h-24.5zM1083.76 583.81h32.5v8.5h-32.5zM1163.76 583.81h32.5v8.5h-32.5zM763.76 591.81h16.5v8.5h-16.5zM843.76 591.81h24.5v8.5h-24.5zM1083.76 591.81h32.5v8.5h-32.5zM1163.76 591.81h32.5v8.5h-32.5zM763.76 599.81h16.5v8.5h-16.5zM843.76 599.81h24.5v8.5h-24.5zM1083.76 599.81h32.5v8.5h-32.5zM1163.76 599.81h32.5v8.5h-32.5z"/>
<path fill="#030303" d="M859.76 23.81h8.5v8.5h-8.5zM1067.76 23.81h8.5v8.5h-8.5zM859.76 31.81h8.5v8.5h-8.5zM1067.76 31.81h8.5v8.5h-8.5zM859.76 39.81h8.5v8.5h-8.5zM1067.76 39.81h8.5v8.5h-8.5zM1075.76 47.81h8.5v8.5h-8.5zM843.76 55.81h8.5v8.5h-8.5zM1107.76 55.81h16.5v8.5h-16.5zM787.76 63.81h32.5v8.5h-32.5zM1139.76 63.81h8.5v8.5h-8.5zM755.76 71.81h16.5v8.5h-16.5zM1163.76 71.81h8.5v8.5h-8.5zM707.76 79.81h16.5v8.5h-16.5zM1187.76 79.81h16.5v8.5h-16.5zM675.76 87.81h24.5v8.5h-24.5zM1211.76 87.81h8.5v8.5h-8.5zM1219.76 95.81h8.5v8.5h-8.5zM675.76 407.81h24.5v8.5h-24.5zM675.76 415.81h24.5v8.5h-24.5zM1003.76 415.81h24.5v8.5h-24.5zM1227.76 415.81h32.5v8.5h-32.5zM675.76 423.81h32.5v8.5h-32.5zM995.76 423.81h8.5v8.5h-8.5zM1027.76 423.81h8.5v8.5h-8.5zM1219.76 423.81h40.5v8.5h-40.5zM675.76 431.81h32.5v8.5h-32.5zM795.76 431.81h16.5v8.5h-16.5zM979.76 431.81h8.5v8.5h-8.5zM1043.76 431.81h8.5v8.5h-8.5zM1211.76 431.81h48.5v8.5h-48.5zM675.76 439.81h32.5v8.5h-32.5zM771.76 439.81h64.5v8.5h-64.5zM899.76 439.81h8.5v8.5h-8.5zM955.76 439.81h8.5v8.5h-8.5zM1051.76 439.81h8.5v8.5h-8.5zM1179.76 439.81h80.5v8.5h-80.5zM675.76 447.81h40.5v8.5h-40.5zM755.76 447.81h24.5v8.5h-24.5zM835.76 447.81h40.5v8.5h-40.5zM931.76 447.81h16.5v8.5h-16.5zM1059.76 447.81h16.5v8.5h-16.5zM1139.76 447.81h88.5v8.5h-88.5zM699.76 455.81h72.5v8.5h-72.5zM1075.76 455.81h144.5v8.5h-144.5zM707.76 463.81h56.5v8.5h-56.5zM1107.76 463.81h64.5v8.5h-64.5zM707.76 471.81h56.5v8.5h-56.5zM707.76 479.81h64.5v8.5h-64.5zM715.76 487.81h88.5v8.5h-88.5zM1131.76 487.81h40.5v8.5h-40.5zM715.76 495.81h104.5v8.5h-104.5zM1115.76 495.81h64.5v8.5h-64.5zM715.76 503.81h48.5v8.5h-48.5zM811.76 503.81h16.5v8.5h-16.5zM1107.76 503.81h80.5v8.5h-80.5zM715.76 511.81h40.5v8.5h-40.5zM827.76 511.81h16.5v8.5h-16.5zM1099.76 511.81h96.5v8.5h-96.5zM723.76 519.81h24.5v8.5h-24.5zM835.76 519.81h16.5v8.5h-16.5zM1091.76 519.81h24.5v8.5h-24.5zM1147.76 519.81h48.5v8.5h-48.5zM731.76 527.81h16.5v8.5h-16.5zM835.76 527.81h16.5v8.5h-16.5zM1083.76 527.81h24.5v8.5h-24.5zM1163.76 527.81h32.5v8.5h-32.5zM739.76 535.81h16.5v8.5h-16.5zM843.76 535.81h16.5v8.5h-16.5zM1083.76 535.81h16.5v8.5h-16.5zM1163.76 535.81h32.5v8.5h-32.5zM747.76 543.81h8.5v8.5h-8.5zM843.76 543.81h16.5v8.5h-16.5zM1083.76 543.81h16.5v8.5h-16.5zM1163.76 543.81h32.5v8.5h-32.5zM755.76 551.81h8.5v8.5h-8.5zM843.76 551.81h16.5v8.5h-16.5zM1083.76 551.81h24.5v8.5h-24.5zM1155.76 551.81h32.5v8.5h-32.5zM763.76 559.81h8.5v8.5h-8.5zM835.76 559.81h16.5v8.5h-16.5zM1091.76 559.81h32.5v8.5h-32.5zM1139.76 559.81h48.5v8.5h-48.5zM771.76 567.81h16.5v8.5h-16.5zM835.76 567.81h16.5v8.5h-16.5zM1099.76 567.81h80.5v8.5h-80.5zM779.76 575.81h64.5v8.5h-64.5zM1115.76 575.81h48.5v8.5h-48.5zM779.76 583.81h64.5v8.5h-64.5zM1115.76 583.81h48.5v8.5h-48.5zM779.76 591.81h64.5v8.5h-64.5zM1115.76 591.81h48.5v8.5h-48.5zM779.76 599.81h64.5v8.5h-64.5zM1115.76 599.81h48.5v8.5h-48.5z"/>
<path fill="#040404" d="M859.76 47.81h8.5v8.5h-8.5zM1091.76 55.81h16.5v8.5h-16.5zM819.76 63.81h16.5v8.5h-16.5zM1123.76 63.81h16.5v8.5h-16.5zM771.76 71.81h8.5v8.5h-8.5zM1147.76 71.81h16.5v8.5h-16.5zM723.76 79.81h24.5v8.5h-24.5zM1179.76 79.81h8.5v8.5h-8.5zM699.76 87.81h16.5v8.5h-16.5zM1203.76 87.81h8.5v8.5h-8.5zM1227.76 103.81h32.5v8.5h-32.5zM675.76 383.81h24.5v8.5h-24.5zM675.76 391.81h24.5v8.5h-24.5zM675.76 399.81h32.5v8.5h-32.5zM1227.76 399.81h32.5v8.5h-32.5zM699.76 407.81h8.5v8.5h-8.5zM1219.76 407.81h40.5v8.5h-40.5zM699.76 415.81h8.5v8.5h-8.5zM995.76 415.81h8.5v8.5h-8.5zM1027.76 415.81h8.5v8.5h-8.5zM1211.76 415.81h16.5v8.5h-16.5zM707.76 423.81h8.5v8.5h-8.5zM795.76 423.81h24.5v8.5h-24.5zM987.76 423.81h8.5v8.5h-8.5zM1035.76 423.81h8.5v8.5h-8.5zM1195.76 423.81h24.5v8.5h-24.5zM707.76 431.81h16.5v8.5h-16.5zM771.76 431.81h24.5v8.5h-24.5zM811.76 431.81h24.5v8.5h-24.5zM971.76 431.81h8.5v8.5h-8.5zM1171.76 431.81h40.5v8.5h-40.5zM707.76 439.81h64.5v8.5h-64.5zM835.76 439.81h16.5v8.5h-16.5zM883.76 439.81h16.5v8.5h-16.5zM907.76 439.81h24.5v8.5h-24.5zM939.76 439.81h16.5v8.5h-16.5zM1059.76 439.81h8.5v8.5h-8.5zM1123.76 439.81h56.5v8.5h-56.5zM715.76 447.81h40.5v8.5h-40.5zM1075.76 447.81h64.5v8.5h-64.5zM763.76 503.81h48.5v8.5h-48.5zM755.76 511.81h24.5v8.5h-24.5zM803.76 511.81h24.5v8.5h-24.5zM747.76 519.81h24.5v8.5h-24.5zM819.76 519.81h16.5v8.5h-16.5zM1115.76 519.81h32.5v8.5h-32.5zM747.76 527.81h16.5v8.5h-16.5zM827.76 527.81h8.5v8.5h-8.5zM1107.76 527.81h56.5v8.5h-56.5zM755.76 535.81h8.5v8.5h-8.5zM827.76 535.81h16.5v8.5h-16.5zM1099.76 535.81h64.5v8.5h-64.5zM755.76 543.81h16.5v8.5h-16.5zM827.76 543.81h16.5v8.5h-16.5zM1099.76 543.81h64.5v8.5h-64.5zM763.76 551.81h16.5v8.5h-16.5zM827.76 551.81h16.5v8.5h-16.5zM1107.76 551.81h48.5v8.5h-48.5zM771.76 559.81h16.5v8.5h-16.5zM819.76 559.81h16.5v8.5h-16.5zM1123.76 559.81h16.5v8.5h-16.5zM787.76 567.81h48.5v8.5h-48.5z"/>
<path fill="#050505" d="M867.76 23.81h8.5v8.5h-8.5zM1059.76 23.81h8.5v8.5h-8.5zM867.76 31.81h8.5v8.5h-8.5zM1059.76 31.81h8.5v8.5h-8.5zM867.76 39.81h8.5v8.5h-8.5zM1059.76 39.81h8.5v8.5h-8.5zM1067.76 47.81h8.5v8.5h-8.5zM851.76 55.81h8.5v8.5h-8.5zM1083.76 55.81h8.5v8.5h-8.5zM1115.76 63.81h8.5v8.5h-8.5zM779.76 71.81h16.5v8.5h-16.5zM1139.76 71.81h8.5v8.5h-8.5zM747.76 79.81h8.5v8.5h-8.5zM1171.76 79.81h8.5v8.5h-8.5zM715.76 87.81h8.5v8.5h-8.5zM1195.76 87.81h8.5v8.5h-8.5zM675.76 95.81h32.5v8.5h-32.5zM1211.76 95.81h8.5v8.5h-8.5zM1219.76 103.81h8.5v8.5h-8.5zM675.76 335.81h24.5v8.5h-24.5zM675.76 343.81h24.5v8.5h-24.5zM675.76 351.81h24.5v8.5h-24.5zM675.76 359.81h24.5v8.5h-24.5zM675.76 367.81h24.5v8.5h-24.5zM675.76 375.81h24.5v8.5h-24.5zM699.76 383.81h8.5v8.5h-8.5zM699.76 391.81h8.5v8.5h-8.5zM1227.76 391.81h32.5v8.5h-32.5zM1219.76 399.81h8.5v8.5h-8.5zM707.76 407.81h8.5v8.5h-8.5zM1003.76 407.81h24.5v8.5h-24.5zM1203.76 407.81h16.5v8.5h-16.5zM707.76 415.81h8.5v8.5h-8.5zM795.76 415.81h24.5v8.5h-24.5zM987.76 415.81h8.5v8.5h-8.5zM1195.76 415.81h16.5v8.5h-16.5zM715.76 423.81h8.5v8.5h-8.5zM771.76 423.81h24.5v8.5h-24.5zM819.76 423.81h8.5v8.5h-8.5zM979.76 423.81h8.5v8.5h-8.5zM1043.76 423.81h8.5v8.5h-8.5zM1171.76 423.81h24.5v8.5h-24.5zM723.76 431.81h48.5v8.5h-48.5zM835.76 431.81h8.5v8.5h-8.5zM963.76 431.81h8.5v8.5h-8.5zM1051.76 431.81h8.5v8.5h-8.5zM1131.76 431.81h40.5v8.5h-40.5zM851.76 439.81h32.5v8.5h-32.5zM931.76 439.81h8.5v8.5h-8.5zM1067.76 439.81h56.5v8.5h-56.5zM779.76 511.81h24.5v8.5h-24.5zM771.76 519.81h48.5v8.5h-48.5zM763.76 527.81h16.5v8.5h-16.5zM811.76 527.81h16.5v8.5h-16.5zM763.76 535.81h16.5v8.5h-16.5zM811.76 535.81h16.5v8.5h-16.5zM771.76 543.81h8.5v8.5h-8.5zM811.76 543.81h16.5v8.5h-16.5zM779.76 551.81h8.5v8.5h-8.5zM811.76 551.81h16.5v8.5h-16.5zM787.76 559.81h32.5v8.5h-32.5z"/>
<path fill="#060606" d="M835.76 63.81h8.5v8.5h-8.5zM1107.76 63.81h8.5v8.5h-8.5zM795.76 71.81h24.5v8.5h-24.5zM1131.76 71.81h8.5v8.5h-8.5zM755.76 79.81h16.5v8.5h-16.5zM1163.76 79.81h8.5v8.5h-8.5zM723.76 87.81h8.5v8.5h-8.5zM1187.76 87.81h8.5v8.5h-8.5zM707.76 95.81h8.5v8.5h-8.5zM1203.76 95.81h8.5v8.5h-8.5zM675.76 319.81h24.5v8.5h-24.5zM675.76 327.81h24.5v8.5h-24.5zM699.76 351.81h8.5v8.5h-8.5zM699.76 359.81h8.5v8.5h-8.5zM699.76 367.81h8.5v8.5h-8.5zM699.76 375.81h8.5v8.5h-8.5zM1235.76 383.81h24.5v8.5h-24.5zM1219.76 391.81h8.5v8.5h-8.5zM707.76 399.81h8.5v8.5h-8.5zM1203.76 399.81h16.5v8.5h-16.5zM795.76 407.81h24.5v8.5h-24.5zM995.76 407.81h8.5v8.5h-8.5zM1027.76 407.81h8.5v8.5h-8.5zM1195.76 407.81h8.5v8.5h-8.5zM715.76 415.81h8.5v8.5h-8.5zM779.76 415.81h16.5v8.5h-16.5zM819.76 415.81h8.5v8.5h-8.5zM1035.76 415.81h8.5v8.5h-8.5zM1171.76 415.81h24.5v8.5h-24.5zM723.76 423.81h48.5v8.5h-48.5zM827.76 423.81h8.5v8.5h-8.5zM1051.76 423.81h8.5v8.5h-8.5zM1139.76 423.81h32.5v8.5h-32.5zM843.76 431.81h8.5v8.5h-8.5zM907.76 431.81h8.5v8.5h-8.5zM955.76 431.81h8.5v8.5h-8.5zM1059.76 431.81h16.5v8.5h-16.5zM1099.76 431.81h32.5v8.5h-32.5zM779.76 527.81h32.5v8.5h-32.5zM779.76 535.81h32.5v8.5h-32.5zM779.76 543.81h32.5v8.5h-32.5zM787.76 551.81h24.5v8.5h-24.5z"/>
<path fill="#070707" d="M1051.76 23.81h8.5v8.5h-8.5zM1051.76 31.81h8.5v8.5h-8.5zM1051.76 39.81h8.5v8.5h-8.5zM867.76 47.81h8.5v8.5h-8.5zM1059.76 47.81h8.5v8.5h-8.5zM1075.76 55.81h8.5v8.5h-8.5zM843.76 63.81h8.5v8.5h-8.5zM1099.76 63.81h8.5v8.5h-8.5zM819.76 71.81h8.5v8.5h-8.5zM1123.76 71.81h8.5v8.5h-8.5zM771.76 79.81h8.5v8.5h-8.5zM1155.76 79.81h8.5v8.5h-8.5zM731.76 87.81h16.5v8.5h-16.5zM1179.76 87.81h8.5v8.5h-8.5zM1195.76 95.81h8.5v8.5h-8.5zM675.76 103.81h24.5v8.5h-24.5zM1211.76 103.81h8.5v8.5h-8.5zM1227.76 111.81h32.5v8.5h-32.5zM675.76 311.81h24.5v8.5h-24.5zM699.76 327.81h8.5v8.5h-8.5zM699.76 335.81h8.5v8.5h-8.5zM699.76 343.81h8.5v8.5h-8.5zM707.76 383.81h8.5v8.5h-8.5zM1219.76 383.81h16.5v8.5h-16.5zM707.76 391.81h8.5v8.5h-8.5zM1211.76 391.81h8.5v8.5h-8.5zM715.76 399.81h8.5v8.5h-8.5zM795.76 399.81h32.5v8.5h-32.5zM1003.76 399.81h24.5v8.5h-24.5zM1195.76 399.81h8.5v8.5h-8.5zM715.76 407.81h8.5v8.5h-8.5zM779.76 407.81h16.5v8.5h-16.5zM819.76 407.81h8.5v8.5h-8.5zM987.76 407.81h8.5v8.5h-8.5zM1035.76 407.81h8.5v8.5h-8.5zM1179.76 407.81h16.5v8.5h-16.5zM723.76 415.81h16.5v8.5h-16.5zM755.76 415.81h24.5v8.5h-24.5zM827.76 415.81h8.5v8.5h-8.5zM979.76 415.81h8.5v8.5h-8.5zM1043.76 415.81h8.5v8.5h-8.5zM1155.76 415.81h16.5v8.5h-16.5zM835.76 423.81h8.5v8.5h-8.5zM971.76 423.81h8.5v8.5h-8.5zM1107.76 423.81h32.5v8.5h-32.5zM851.76 431.81h24.5v8.5h-24.5zM883.76 431.81h24.5v8.5h-24.5zM915.76 431.81h40.5v8.5h-40.5zM1075.76 431.81h24.5v8.5h-24.5z"/>
<path fill="#080808" d="M875.76 23.81h8.5v8.5h-8.5zM1043.76 23.81h8.5v8.5h-8.5zM875.76 31.81h8.5v8.5h-8.5zM1043.76 31.81h8.5v8.5h-8.5zM875.76 39.81h8.5v8.5h-8.5zM1043.76 39.81h8.5v8.5h-8.5zM1051.76 47.81h8.5v8.5h-8.5zM859.76 55.81h8.5v8.5h-8.5zM1067.76 55.81h8.5v8.5h-8.5zM1091.76 63.81h8.5v8.5h-8.5zM1115.76 71.81h8.5v8.5h-8.5zM779.76 79.81h16.5v8.5h-16.5zM1147.76 79.81h8.5v8.5h-8.5zM747.76 87.81h8.5v8.5h-8.5zM1171.76 87.81h8.5v8.5h-8.5zM715.76 95.81h8.5v8.5h-8.5zM699.76 103.81h8.5v8.5h-8.5zM1219.76 111.81h8.5v8.5h-8.5zM675.76 223.81h24.5v8.5h-24.5zM675.76 231.81h24.5v8.5h-24.5zM675.76 303.81h24.5v8.5h-24.5zM699.76 311.81h8.5v8.5h-8.5zM699.76 319.81h8.5v8.5h-8.5zM707.76 375.81h8.5v8.5h-8.5zM1227.76 375.81h32.5v8.5h-32.5zM811.76 383.81h8.5v8.5h-8.5zM1211.76 383.81h8.5v8.5h-8.5zM715.76 391.81h8.5v8.5h-8.5zM795.76 391.81h32.5v8.5h-32.5zM1195.76 391.81h16.5v8.5h-16.5zM787.76 399.81h8.5v8.5h-8.5zM827.76 399.81h8.5v8.5h-8.5zM995.76 399.81h8.5v8.5h-8.5zM1027.76 399.81h8.5v8.5h-8.5zM1187.76 399.81h8.5v8.5h-8.5zM723.76 407.81h16.5v8.5h-16.5zM771.76 407.81h8.5v8.5h-8.5zM827.76 407.81h8.5v8.5h-8.5zM1163.76 407.81h16.5v8.5h-16.5zM739.76 415.81h16.5v8.5h-16.5zM835.76 415.81h8.5v8.5h-8.5zM1115.76 415.81h40.5v8.5h-40.5zM843.76 423.81h8.5v8.5h-8.5zM1059.76 423.81h16.5v8.5h-16.5zM1091.76 423.81h16.5v8.5h-16.5zM875.76 431.81h8.5v8.5h-8.5z"/>
<path fill="#090909" d="M883.76 23.81h8.5v8.5h-8.5zM1035.76 23.81h8.5v8.5h-8.5zM883.76 31.81h8.5v8.5h-8.5zM1035.76 31.81h8.5v8.5h-8.5zM883.76 39.81h8.5v8.5h-8.5zM1035.76 39.81h8.5v8.5h-8.5zM875.76 47.81h8.5v8.5h-8.5zM851.76 63.81h8.5v8.5h-8.5zM1083.76 63.81h8.5v8.5h-8.5zM827.76 71.81h8.5v8.5h-8.5zM1107.76 71.81h8.5v8.5h-8.5zM795.76 79.81h8.5v8.5h-8.5zM1139.76 79.81h8.5v8.5h-8.5zM755.76 87.81h8.5v8.5h-8.5zM1163.76 87.81h8.5v8.5h-8.5zM723.76 95.81h8.5v8.5h-8.5zM1187.76 95.81h8.5v8.5h-8.5zM707.76 103.81h8.5v8.5h-8.5zM1203.76 103.81h8.5v8.5h-8.5zM675.76 111.81h24.5v8.5h-24.5zM675.76 215.81h24.5v8.5h-24.5zM699.76 223.81h8.5v8.5h-8.5zM699.76 231.81h8.5v8.5h-8.5zM675.76 239.81h24.5v8.5h-24.5zM675.76 295.81h24.5v8.5h-24.5zM699.76 303.81h8.5v8.5h-8.5zM707.76 351.81h8.5v8.5h-8.5zM707.76 359.81h8.5v8.5h-8.5zM707.76 367.81h8.5v8.5h-8.5zM1227.76 367.81h32.5v8.5h-32.5zM811.76 375.81h16.5v8.5h-16.5zM1219.76 375.81h8.5v8.5h-8.5zM715.76 383.81h8.5v8.5h-8.5zM795.76 383.81h16.5v8.5h-16.5zM819.76 383.81h16.5v8.5h-16.5zM1203.76 383.81h8.5v8.5h-8.5zM787.76 391.81h8.5v8.5h-8.5zM827.76 391.81h8.5v8.5h-8.5zM1011.76 391.81h16.5v8.5h-16.5zM1187.76 391.81h8.5v8.5h-8.5zM723.76 399.81h8.5v8.5h-8.5zM771.76 399.81h16.5v8.5h-16.5zM1035.76 399.81h8.5v8.5h-8.5zM1171.76 399.81h16.5v8.5h-16.5zM739.76 407.81h32.5v8.5h-32.5zM835.76 407.81h8.5v8.5h-8.5zM979.76 407.81h8.5v8.5h-8.5zM1043.76 407.81h8.5v8.5h-8.5zM1139.76 407.81h24.5v8.5h-24.5zM843.76 415.81h8.5v8.5h-8.5zM971.76 415.81h8.5v8.5h-8.5zM1051.76 415.81h8.5v8.5h-8.5zM1099.76 415.81h16.5v8.5h-16.5zM851.76 423.81h8.5v8.5h-8.5zM915.76 423.81h32.5v8.5h-32.5zM963.76 423.81h8.5v8.5h-8.5zM1075.76 423.81h16.5v8.5h-16.5z"/>
<path fill="#0a0a0a" d="M1027.76 23.81h8.5v8.5h-8.5zM1027.76 31.81h8.5v8.5h-8.5zM1027.76 39.81h8.5v8.5h-8.5zM1043.76 47.81h8.5v8.5h-8.5zM867.76 55.81h8.5v8.5h-8.5zM835.76 71.81h8.5v8.5h-8.5zM803.76 79.81h8.5v8.5h-8.5zM1131.76 79.81h8.5v8.5h-8.5zM763.76 87.81h8.5v8.5h-8.5zM1155.76 87.81h8.5v8.5h-8.5zM731.76 95.81h8.5v8.5h-8.5zM1179.76 95.81h8.5v8.5h-8.5zM715.76 103.81h8.5v8.5h-8.5zM699.76 111.81h8.5v8.5h-8.5zM1211.76 111.81h8.5v8.5h-8.5zM1227.76 119.81h32.5v8.5h-32.5zM675.76 207.81h24.5v8.5h-24.5zM699.76 215.81h8.5v8.5h-8.5zM699.76 239.81h8.5v8.5h-8.5zM675.76 247.81h24.5v8.5h-24.5zM1227.76 247.81h32.5v8.5h-32.5zM1227.76 255.81h32.5v8.5h-32.5zM1227.76 263.81h32.5v8.5h-32.5zM675.76 287.81h24.5v8.5h-24.5zM707.76 327.81h8.5v8.5h-8.5zM707.76 335.81h8.5v8.5h-8.5zM707.76 343.81h8.5v8.5h-8.5zM811.76 359.81h24.5v8.5h-24.5zM803.76 367.81h32.5v8.5h-32.5zM715.76 375.81h8.5v8.5h-8.5zM795.76 375.81h16.5v8.5h-16.5zM827.76 375.81h8.5v8.5h-8.5zM1211.76 375.81h8.5v8.5h-8.5zM787.76 383.81h8.5v8.5h-8.5zM1195.76 383.81h8.5v8.5h-8.5zM723.76 391.81h8.5v8.5h-8.5zM779.76 391.81h8.5v8.5h-8.5zM835.76 391.81h8.5v8.5h-8.5zM1003.76 391.81h8.5v8.5h-8.5zM1027.76 391.81h8.5v8.5h-8.5zM1179.76 391.81h8.5v8.5h-8.5zM731.76 399.81h16.5v8.5h-16.5zM763.76 399.81h8.5v8.5h-8.5zM835.76 399.81h8.5v8.5h-8.5zM987.76 399.81h8.5v8.5h-8.5zM1155.76 399.81h16.5v8.5h-16.5zM971.76 407.81h8.5v8.5h-8.5zM1107.76 407.81h32.5v8.5h-32.5zM1059.76 415.81h8.5v8.5h-8.5zM1083.76 415.81h16.5v8.5h-16.5zM859.76 423.81h16.5v8.5h-16.5zM899.76 423.81h16.5v8.5h-16.5zM947.76 423.81h16.5v8.5h-16.5z"/>
<path fill="#0b0b0b" d="M891.76 23.81h8.5v8.5h-8.5zM891.76 31.81h8.5v8.5h-8.5zM891.76 39.81h8.5v8.5h-8.5zM883.76 47.81h8.5v8.5h-8.5zM1035.76 47.81h8.5v8.5h-8.5zM1059.76 55.81h8.5v8.5h-8.5zM1075.76 63.81h8.5v8.5h-8.5zM1099.76 71.81h8.5v8.5h-8.5zM811.76 79.81h8.5v8.5h-8.5zM1123.76 79.81h8.5v8.5h-8.5zM771.76 87.81h8.5v8.5h-8.5zM1147.76 87.81h8.5v8.5h-8.5zM739.76 95.81h8.5v8.5h-8.5zM1171.76 95.81h8.5v8.5h-8.5zM1195.76 103.81h8.5v8.5h-8.5zM699.76 207.81h8.5v8.5h-8.5zM699.76 247.81h8.5v8.5h-8.5zM675.76 255.81h24.5v8.5h-24.5zM675.76 263.81h24.5v8.5h-24.5zM675.76 271.81h24.5v8.5h-24.5zM1227.76 271.81h32.5v8.5h-32.5zM675.76 279.81h24.5v8.5h-24.5zM699.76 295.81h8.5v8.5h-8.5zM707.76 319.81h8.5v8.5h-8.5zM811.76 351.81h80.5v8.5h-80.5zM803.76 359.81h8.5v8.5h-8.5zM835.76 359.81h24.5v8.5h-24.5zM1227.76 359.81h32.5v8.5h-32.5zM715.76 367.81h8.5v8.5h-8.5zM795.76 367.81h8.5v8.5h-8.5zM835.76 367.81h16.5v8.5h-16.5zM1219.76 367.81h8.5v8.5h-8.5zM787.76 375.81h8.5v8.5h-8.5zM835.76 375.81h8.5v8.5h-8.5zM1203.76 375.81h8.5v8.5h-8.5zM723.76 383.81h8.5v8.5h-8.5zM779.76 383.81h8.5v8.5h-8.5zM835.76 383.81h8.5v8.5h-8.5zM1187.76 383.81h8.5v8.5h-8.5zM731.76 391.81h8.5v8.5h-8.5zM771.76 391.81h8.5v8.5h-8.5zM1035.76 391.81h8.5v8.5h-8.5zM1171.76 391.81h8.5v8.5h-8.5zM747.76 399.81h16.5v8.5h-16.5zM971.76 399.81h16.5v8.5h-16.5zM1043.76 399.81h8.5v8.5h-8.5zM1131.76 399.81h24.5v8.5h-24.5zM843.76 407.81h8.5v8.5h-8.5zM963.76 407.81h8.5v8.5h-8.5zM1051.76 407.81h8.5v8.5h-8.5zM1099.76 407.81h8.5v8.5h-8.5zM851.76 415.81h8.5v8.5h-8.5zM923.76 415.81h24.5v8.5h-24.5zM963.76 415.81h8.5v8.5h-8.5zM1067.76 415.81h16.5v8.5h-16.5zM875.76 423.81h24.5v8.5h-24.5z"/>
<path fill="#0c0c0c" d="M859.76 63.81h8.5v8.5h-8.5zM1091.76 71.81h8.5v8.5h-8.5zM819.76 79.81h8.5v8.5h-8.5zM1115.76 79.81h8.5v8.5h-8.5zM779.76 87.81h8.5v8.5h-8.5zM747.76 95.81h8.5v8.5h-8.5zM723.76 103.81h8.5v8.5h-8.5zM1187.76 103.81h8.5v8.5h-8.5zM707.76 111.81h8.5v8.5h-8.5zM1203.76 111.81h8.5v8.5h-8.5zM675.76 119.81h24.5v8.5h-24.5zM1219.76 119.81h8.5v8.5h-8.5zM675.76 199.81h24.5v8.5h-24.5zM707.76 223.81h8.5v8.5h-8.5zM707.76 231.81h8.5v8.5h-8.5zM1227.76 239.81h32.5v8.5h-32.5zM699.76 255.81h8.5v8.5h-8.5zM699.76 287.81h8.5v8.5h-8.5zM707.76 311.81h8.5v8.5h-8.5zM811.76 343.81h80.5v8.5h-80.5zM715.76 351.81h8.5v8.5h-8.5zM803.76 351.81h8.5v8.5h-8.5zM715.76 359.81h8.5v8.5h-8.5zM795.76 359.81h8.5v8.5h-8.5zM859.76 359.81h32.5v8.5h-32.5zM1219.76 359.81h8.5v8.5h-8.5zM851.76 367.81h8.5v8.5h-8.5zM1211.76 367.81h8.5v8.5h-8.5zM723.76 375.81h8.5v8.5h-8.5zM843.76 375.81h8.5v8.5h-8.5zM1195.76 375.81h8.5v8.5h-8.5zM843.76 383.81h8.5v8.5h-8.5zM1019.76 383.81h16.5v8.5h-16.5zM1179.76 383.81h8.5v8.5h-8.5zM739.76 391.81h32.5v8.5h-32.5zM843.76 391.81h8.5v8.5h-8.5zM995.76 391.81h8.5v8.5h-8.5zM1043.76 391.81h8.5v8.5h-8.5zM1155.76 391.81h16.5v8.5h-16.5zM843.76 399.81h8.5v8.5h-8.5zM963.76 399.81h8.5v8.5h-8.5zM1099.76 399.81h32.5v8.5h-32.5zM955.76 407.81h8.5v8.5h-8.5zM1059.76 407.81h8.5v8.5h-8.5zM1083.76 407.81h16.5v8.5h-16.5zM859.76 415.81h8.5v8.5h-8.5zM915.76 415.81h8.5v8.5h-8.5zM947.76 415.81h16.5v8.5h-16.5z"/>
<path fill="#0d0d0d" d="M899.76 23.81h8.5v8.5h-8.5zM1019.76 23.81h8.5v8.5h-8.5zM899.76 31.81h8.5v8.5h-8.5zM1019.76 31.81h8.5v8.5h-8.5zM899.76 39.81h8.5v8.5h-8.5zM1019.76 39.81h8.5v8.5h-8.5zM891.76 47.81h8.5v8.5h-8.5zM1027.76 47.81h8.5v8.5h-8.5zM875.76 55.81h8.5v8.5h-8.5zM1051.76 55.81h8.5v8.5h-8.5zM1067.76 63.81h8.5v8.5h-8.5zM843.76 71.81h8.5v8.5h-8.5zM787.76 87.81h16.5v8.5h-16.5zM1139.76 87.81h8.5v8.5h-8.5zM755.76 95.81h8.5v8.5h-8.5zM1163.76 95.81h8.5v8.5h-8.5zM731.76 103.81h8.5v8.5h-8.5zM699.76 119.81h8.5v8.5h-8.5zM1227.76 127.81h32.5v8.5h-32.5zM699.76 199.81h8.5v8.5h-8.5zM707.76 215.81h8.5v8.5h-8.5zM1227.76 231.81h32.5v8.5h-32.5zM707.76 239.81h8.5v8.5h-8.5zM1219.76 247.81h8.5v8.5h-8.5zM1219.76 255.81h8.5v8.5h-8.5zM699.76 263.81h8.5v8.5h-8.5zM1219.76 263.81h8.5v8.5h-8.5zM699.76 271.81h8.5v8.5h-8.5zM699.76 279.81h8.5v8.5h-8.5zM1227.76 279.81h32.5v8.5h-32.5zM707.76 303.81h8.5v8.5h-8.5zM715.76 327.81h8.5v8.5h-8.5zM715.76 335.81h8.5v8.5h-8.5zM811.76 335.81h64.5v8.5h-64.5zM715.76 343.81h8.5v8.5h-8.5zM803.76 343.81h8.5v8.5h-8.5zM795.76 351.81h8.5v8.5h-8.5zM891.76 351.81h8.5v8.5h-8.5zM1227.76 351.81h32.5v8.5h-32.5zM787.76 359.81h8.5v8.5h-8.5zM891.76 359.81h8.5v8.5h-8.5zM723.76 367.81h8.5v8.5h-8.5zM787.76 367.81h8.5v8.5h-8.5zM859.76 367.81h16.5v8.5h-16.5zM1203.76 367.81h8.5v8.5h-8.5zM779.76 375.81h8.5v8.5h-8.5zM851.76 375.81h8.5v8.5h-8.5zM1187.76 375.81h8.5v8.5h-8.5zM731.76 383.81h8.5v8.5h-8.5zM771.76 383.81h8.5v8.5h-8.5zM1011.76 383.81h8.5v8.5h-8.5zM1035.76 383.81h8.5v8.5h-8.5zM1171.76 383.81h8.5v8.5h-8.5zM987.76 391.81h8.5v8.5h-8.5zM1115.76 391.81h40.5v8.5h-40.5zM955.76 399.81h8.5v8.5h-8.5zM1051.76 399.81h8.5v8.5h-8.5zM1091.76 399.81h8.5v8.5h-8.5zM851.76 407.81h8.5v8.5h-8.5zM923.76 407.81h32.5v8.5h-32.5zM1067.76 407.81h16.5v8.5h-16.5zM867.76 415.81h8.5v8.5h-8.5zM899.76 415.81h16.5v8.5h-16.5z"/>
<path fill="#0e0e0e" d="M1043.76 55.81h8.5v8.5h-8.5zM1083.76 71.81h8.5v8.5h-8.5zM827.76 79.81h8.5v8.5h-8.5zM1107.76 79.81h8.5v8.5h-8.5zM803.76 87.81h8.5v8.5h-8.5zM1131.76 87.81h8.5v8.5h-8.5zM763.76 95.81h8.5v8.5h-8.5zM1155.76 95.81h8.5v8.5h-8.5zM1179.76 103.81h8.5v8.5h-8.5zM715.76 111.81h8.5v8.5h-8.5zM1195.76 111.81h8.5v8.5h-8.5zM1211.76 119.81h8.5v8.5h-8.5zM675.76 191.81h24.5v8.5h-24.5zM707.76 207.81h8.5v8.5h-8.5zM1219.76 239.81h8.5v8.5h-8.5zM1219.76 271.81h8.5v8.5h-8.5zM707.76 295.81h8.5v8.5h-8.5zM715.76 319.81h8.5v8.5h-8.5zM811.76 327.81h24.5v8.5h-24.5zM803.76 335.81h8.5v8.5h-8.5zM875.76 335.81h8.5v8.5h-8.5zM795.76 343.81h8.5v8.5h-8.5zM891.76 343.81h8.5v8.5h-8.5zM787.76 351.81h8.5v8.5h-8.5zM899.76 351.81h8.5v8.5h-8.5zM899.76 359.81h8.5v8.5h-8.5zM1211.76 359.81h8.5v8.5h-8.5zM779.76 367.81h8.5v8.5h-8.5zM875.76 367.81h16.5v8.5h-16.5zM1195.76 367.81h8.5v8.5h-8.5zM731.76 375.81h8.5v8.5h-8.5zM771.76 375.81h8.5v8.5h-8.5zM859.76 375.81h8.5v8.5h-8.5zM1035.76 375.81h16.5v8.5h-16.5zM1179.76 375.81h8.5v8.5h-8.5zM739.76 383.81h32.5v8.5h-32.5zM851.76 383.81h8.5v8.5h-8.5zM1003.76 383.81h8.5v8.5h-8.5zM1043.76 383.81h8.5v8.5h-8.5zM1163.76 383.81h8.5v8.5h-8.5zM851.76 391.81h8.5v8.5h-8.5zM971.76 391.81h16.5v8.5h-16.5zM1051.76 391.81h8.5v8.5h-8.5zM1099.76 391.81h16.5v8.5h-16.5zM851.76 399.81h8.5v8.5h-8.5zM939.76 399.81h16.5v8.5h-16.5zM1059.76 399.81h8.5v8.5h-8.5zM1083.76 399.81h8.5v8.5h-8.5zM859.76 407.81h8.5v8.5h-8.5zM915.76 407.81h8.5v8.5h-8.5zM875.76 415.81h24.5v8.5h-24.5z"/>
<path fill="#0f0f0f" d="M883.76 55.81h8.5v8.5h-8.5zM867.76 63.81h8.5v8.5h-8.5zM1059.76 63.81h8.5v8.5h-8.5zM1099.76 79.81h8.5v8.5h-8.5zM811.76 87.81h8.5v8.5h-8.5zM771.76 95.81h8.5v8.5h-8.5zM739.76 103.81h8.5v8.5h-8.5zM723.76 111.81h8.5v8.5h-8.5zM707.76 119.81h8.5v8.5h-8.5zM675.76 127.81h24.5v8.5h-24.5zM715.76 215.81h8.5v8.5h-8.5zM715.76 223.81h8.5v8.5h-8.5zM1227.76 223.81h32.5v8.5h-32.5zM715.76 231.81h8.5v8.5h-8.5zM707.76 247.81h8.5v8.5h-8.5zM715.76 311.81h8.5v8.5h-8.5zM803.76 327.81h8.5v8.5h-8.5zM835.76 327.81h24.5v8.5h-24.5zM795.76 335.81h8.5v8.5h-8.5zM883.76 335.81h8.5v8.5h-8.5zM787.76 343.81h8.5v8.5h-8.5zM1051.76 343.81h24.5v8.5h-24.5zM1227.76 343.81h32.5v8.5h-32.5zM723.76 351.81h8.5v8.5h-8.5zM1051.76 351.81h24.5v8.5h-24.5zM1219.76 351.81h8.5v8.5h-8.5zM723.76 359.81h8.5v8.5h-8.5zM779.76 359.81h8.5v8.5h-8.5zM907.76 359.81h8.5v8.5h-8.5zM1051.76 359.81h24.5v8.5h-24.5zM1203.76 359.81h8.5v8.5h-8.5zM891.76 367.81h16.5v8.5h-16.5zM1043.76 367.81h24.5v8.5h-24.5zM1187.76 367.81h8.5v8.5h-8.5zM739.76 375.81h8.5v8.5h-8.5zM763.76 375.81h8.5v8.5h-8.5zM867.76 375.81h8.5v8.5h-8.5zM1027.76 375.81h8.5v8.5h-8.5zM1051.76 375.81h16.5v8.5h-16.5zM1171.76 375.81h8.5v8.5h-8.5zM859.76 383.81h8.5v8.5h-8.5zM995.76 383.81h8.5v8.5h-8.5zM1051.76 383.81h8.5v8.5h-8.5zM1107.76 383.81h16.5v8.5h-16.5zM1139.76 383.81h24.5v8.5h-24.5zM963.76 391.81h8.5v8.5h-8.5zM1059.76 391.81h8.5v8.5h-8.5zM1083.76 391.81h16.5v8.5h-16.5zM923.76 399.81h16.5v8.5h-16.5zM1067.76 399.81h16.5v8.5h-16.5zM907.76 407.81h8.5v8.5h-8.5z"/>
<path fill="#101010" d="M907.76 23.81h8.5v8.5h-8.5zM1011.76 23.81h8.5v8.5h-8.5zM907.76 31.81h8.5v8.5h-8.5zM1011.76 31.81h8.5v8.5h-8.5zM907.76 39.81h8.5v8.5h-8.5zM1011.76 39.81h8.5v8.5h-8.5zM899.76 47.81h8.5v8.5h-8.5zM1019.76 47.81h8.5v8.5h-8.5zM1035.76 55.81h8.5v8.5h-8.5zM851.76 71.81h8.5v8.5h-8.5zM1075.76 71.81h8.5v8.5h-8.5zM835.76 79.81h8.5v8.5h-8.5zM1123.76 87.81h8.5v8.5h-8.5zM779.76 95.81h8.5v8.5h-8.5zM1147.76 95.81h8.5v8.5h-8.5zM747.76 103.81h8.5v8.5h-8.5zM1171.76 103.81h8.5v8.5h-8.5zM1187.76 111.81h8.5v8.5h-8.5zM1203.76 119.81h8.5v8.5h-8.5zM699.76 127.81h8.5v8.5h-8.5zM1219.76 127.81h8.5v8.5h-8.5zM675.76 183.81h24.5v8.5h-24.5zM699.76 191.81h8.5v8.5h-8.5zM707.76 199.81h8.5v8.5h-8.5zM1219.76 231.81h8.5v8.5h-8.5zM1211.76 247.81h8.5v8.5h-8.5zM707.76 255.81h8.5v8.5h-8.5zM1211.76 255.81h8.5v8.5h-8.5zM1211.76 263.81h8.5v8.5h-8.5zM707.76 287.81h8.5v8.5h-8.5zM1227.76 287.81h32.5v8.5h-32.5zM715.76 303.81h8.5v8.5h-8.5zM803.76 319.81h32.5v8.5h-32.5zM723.76 327.81h8.5v8.5h-8.5zM795.76 327.81h8.5v8.5h-8.5zM859.76 327.81h16.5v8.5h-16.5zM723.76 335.81h8.5v8.5h-8.5zM787.76 335.81h8.5v8.5h-8.5zM1059.76 335.81h16.5v8.5h-16.5zM723.76 343.81h8.5v8.5h-8.5zM899.76 343.81h8.5v8.5h-8.5zM779.76 351.81h8.5v8.5h-8.5zM907.76 351.81h8.5v8.5h-8.5zM1043.76 351.81h8.5v8.5h-8.5zM1075.76 351.81h8.5v8.5h-8.5zM1211.76 351.81h8.5v8.5h-8.5zM1043.76 359.81h8.5v8.5h-8.5zM1075.76 359.81h8.5v8.5h-8.5zM1195.76 359.81h8.5v8.5h-8.5zM731.76 367.81h8.5v8.5h-8.5zM771.76 367.81h8.5v8.5h-8.5zM907.76 367.81h8.5v8.5h-8.5zM1035.76 367.81h8.5v8.5h-8.5zM1067.76 367.81h16.5v8.5h-16.5zM1179.76 367.81h8.5v8.5h-8.5zM747.76 375.81h16.5v8.5h-16.5zM875.76 375.81h8.5v8.5h-8.5zM1019.76 375.81h8.5v8.5h-8.5zM1067.76 375.81h16.5v8.5h-16.5zM1163.76 375.81h8.5v8.5h-8.5zM1059.76 383.81h48.5v8.5h-48.5zM1123.76 383.81h16.5v8.5h-16.5zM859.76 391.81h8.5v8.5h-8.5zM923.76 391.81h40.5v8.5h-40.5zM1067.76 391.81h16.5v8.5h-16.5zM859.76 399.81h8.5v8.5h-8.5zM915.76 399.81h8.5v8.5h-8.5zM867.76 407.81h8.5v8.5h-8.5zM899.76 407.81h8.5v8.5h-8.5z"/>
<path fill="#111111" d="M1091.76 79.81h8.5v8.5h-8.5zM819.76 87.81h8.5v8.5h-8.5zM1115.76 87.81h8.5v8.5h-8.5zM787.76 95.81h8.5v8.5h-8.5zM1139.76 95.81h8.5v8.5h-8.5zM1163.76 103.81h8.5v8.5h-8.5zM731.76 111.81h8.5v8.5h-8.5zM715.76 119.81h8.5v8.5h-8.5zM675.76 135.81h24.5v8.5h-24.5zM1227.76 135.81h32.5v8.5h-32.5zM715.76 207.81h8.5v8.5h-8.5zM1227.76 215.81h32.5v8.5h-32.5zM715.76 239.81h8.5v8.5h-8.5zM1211.76 239.81h8.5v8.5h-8.5zM707.76 263.81h8.5v8.5h-8.5zM707.76 279.81h8.5v8.5h-8.5zM1219.76 279.81h8.5v8.5h-8.5zM723.76 319.81h8.5v8.5h-8.5zM835.76 319.81h8.5v8.5h-8.5zM875.76 327.81h8.5v8.5h-8.5zM1059.76 327.81h16.5v8.5h-16.5zM891.76 335.81h8.5v8.5h-8.5zM1051.76 335.81h8.5v8.5h-8.5zM1075.76 335.81h8.5v8.5h-8.5zM779.76 343.81h8.5v8.5h-8.5zM1043.76 343.81h8.5v8.5h-8.5zM1075.76 343.81h8.5v8.5h-8.5zM1219.76 343.81h8.5v8.5h-8.5zM1203.76 351.81h8.5v8.5h-8.5zM731.76 359.81h8.5v8.5h-8.5zM771.76 359.81h8.5v8.5h-8.5zM915.76 359.81h8.5v8.5h-8.5zM1187.76 359.81h8.5v8.5h-8.5zM739.76 367.81h8.5v8.5h-8.5zM763.76 367.81h8.5v8.5h-8.5zM915.76 367.81h8.5v8.5h-8.5zM1027.76 367.81h8.5v8.5h-8.5zM1083.76 367.81h8.5v8.5h-8.5zM1171.76 367.81h8.5v8.5h-8.5zM883.76 375.81h40.5v8.5h-40.5zM1011.76 375.81h8.5v8.5h-8.5zM1083.76 375.81h40.5v8.5h-40.5zM1147.76 375.81h16.5v8.5h-16.5zM867.76 383.81h8.5v8.5h-8.5zM907.76 383.81h24.5v8.5h-24.5zM987.76 383.81h8.5v8.5h-8.5zM915.76 391.81h8.5v8.5h-8.5zM867.76 399.81h8.5v8.5h-8.5zM907.76 399.81h8.5v8.5h-8.5zM875.76 407.81h8.5v8.5h-8.5zM891.76 407.81h8.5v8.5h-8.5z"/>
<path fill="#121212" d="M875.76 63.81h8.5v8.5h-8.5zM1051.76 63.81h8.5v8.5h-8.5zM795.76 95.81h8.5v8.5h-8.5zM755.76 103.81h8.5v8.5h-8.5zM1179.76 111.81h8.5v8.5h-8.5zM707.76 127.81h8.5v8.5h-8.5zM1211.76 127.81h8.5v8.5h-8.5zM699.76 135.81h8.5v8.5h-8.5zM675.76 175.81h24.5v8.5h-24.5zM699.76 183.81h8.5v8.5h-8.5zM707.76 191.81h8.5v8.5h-8.5zM723.76 215.81h8.5v8.5h-8.5zM723.76 223.81h8.5v8.5h-8.5zM1219.76 223.81h8.5v8.5h-8.5zM723.76 231.81h8.5v8.5h-8.5zM707.76 271.81h8.5v8.5h-8.5zM1211.76 271.81h8.5v8.5h-8.5zM715.76 295.81h8.5v8.5h-8.5zM723.76 311.81h8.5v8.5h-8.5zM803.76 311.81h24.5v8.5h-24.5zM795.76 319.81h8.5v8.5h-8.5zM843.76 319.81h16.5v8.5h-16.5zM787.76 327.81h8.5v8.5h-8.5zM1075.76 327.81h8.5v8.5h-8.5zM779.76 335.81h8.5v8.5h-8.5zM1083.76 335.81h8.5v8.5h-8.5zM1227.76 335.81h32.5v8.5h-32.5zM907.76 343.81h8.5v8.5h-8.5zM1083.76 343.81h8.5v8.5h-8.5zM731.76 351.81h8.5v8.5h-8.5zM771.76 351.81h8.5v8.5h-8.5zM915.76 351.81h8.5v8.5h-8.5zM1083.76 351.81h8.5v8.5h-8.5zM1195.76 351.81h8.5v8.5h-8.5zM1035.76 359.81h8.5v8.5h-8.5zM1083.76 359.81h8.5v8.5h-8.5zM747.76 367.81h16.5v8.5h-16.5zM923.76 367.81h8.5v8.5h-8.5zM1091.76 367.81h16.5v8.5h-16.5zM1163.76 367.81h8.5v8.5h-8.5zM923.76 375.81h8.5v8.5h-8.5zM1003.76 375.81h8.5v8.5h-8.5zM1123.76 375.81h24.5v8.5h-24.5zM875.76 383.81h8.5v8.5h-8.5zM899.76 383.81h8.5v8.5h-8.5zM931.76 383.81h8.5v8.5h-8.5zM979.76 383.81h8.5v8.5h-8.5zM867.76 391.81h8.5v8.5h-8.5zM907.76 391.81h8.5v8.5h-8.5zM899.76 399.81h8.5v8.5h-8.5zM883.76 407.81h8.5v8.5h-8.5z"/>
<path fill="#131313" d="M891.76 55.81h8.5v8.5h-8.5zM1027.76 55.81h8.5v8.5h-8.5zM859.76 71.81h8.5v8.5h-8.5zM1067.76 71.81h8.5v8.5h-8.5zM1083.76 79.81h8.5v8.5h-8.5zM1107.76 87.81h8.5v8.5h-8.5zM1131.76 95.81h8.5v8.5h-8.5zM763.76 103.81h8.5v8.5h-8.5zM1155.76 103.81h8.5v8.5h-8.5zM739.76 111.81h8.5v8.5h-8.5zM723.76 119.81h8.5v8.5h-8.5zM1195.76 119.81h8.5v8.5h-8.5zM1219.76 135.81h8.5v8.5h-8.5zM675.76 143.81h24.5v8.5h-24.5zM715.76 199.81h8.5v8.5h-8.5zM723.76 207.81h8.5v8.5h-8.5zM1227.76 207.81h32.5v8.5h-32.5zM1219.76 215.81h8.5v8.5h-8.5zM1211.76 231.81h8.5v8.5h-8.5zM715.76 247.81h8.5v8.5h-8.5zM1203.76 255.81h8.5v8.5h-8.5zM1227.76 295.81h32.5v8.5h-32.5zM723.76 303.81h8.5v8.5h-8.5zM795.76 311.81h8.5v8.5h-8.5zM827.76 311.81h8.5v8.5h-8.5zM731.76 319.81h8.5v8.5h-8.5zM787.76 319.81h8.5v8.5h-8.5zM859.76 319.81h8.5v8.5h-8.5zM1059.76 319.81h24.5v8.5h-24.5zM731.76 327.81h8.5v8.5h-8.5zM883.76 327.81h8.5v8.5h-8.5zM1051.76 327.81h8.5v8.5h-8.5zM1083.76 327.81h8.5v8.5h-8.5zM731.76 335.81h8.5v8.5h-8.5zM899.76 335.81h8.5v8.5h-8.5zM1043.76 335.81h8.5v8.5h-8.5zM731.76 343.81h8.5v8.5h-8.5zM771.76 343.81h8.5v8.5h-8.5zM1211.76 343.81h8.5v8.5h-8.5zM1035.76 351.81h8.5v8.5h-8.5zM1091.76 351.81h8.5v8.5h-8.5zM739.76 359.81h8.5v8.5h-8.5zM763.76 359.81h8.5v8.5h-8.5zM923.76 359.81h8.5v8.5h-8.5zM1091.76 359.81h8.5v8.5h-8.5zM1179.76 359.81h8.5v8.5h-8.5zM1019.76 367.81h8.5v8.5h-8.5zM1107.76 367.81h16.5v8.5h-16.5zM1155.76 367.81h8.5v8.5h-8.5zM931.76 375.81h8.5v8.5h-8.5zM883.76 383.81h16.5v8.5h-16.5zM939.76 383.81h8.5v8.5h-8.5zM971.76 383.81h8.5v8.5h-8.5zM875.76 391.81h8.5v8.5h-8.5zM899.76 391.81h8.5v8.5h-8.5zM875.76 399.81h8.5v8.5h-8.5z"/>
<path fill="#141414" d="M915.76 23.81h8.5v8.5h-8.5zM915.76 31.81h8.5v8.5h-8.5zM915.76 39.81h8.5v8.5h-8.5zM907.76 47.81h8.5v8.5h-8.5zM1011.76 47.81h8.5v8.5h-8.5zM843.76 79.81h8.5v8.5h-8.5zM827.76 87.81h8.5v8.5h-8.5zM803.76 95.81h8.5v8.5h-8.5zM771.76 103.81h8.5v8.5h-8.5zM1147.76 103.81h8.5v8.5h-8.5zM1171.76 111.81h8.5v8.5h-8.5zM715.76 127.81h8.5v8.5h-8.5zM699.76 143.81h8.5v8.5h-8.5zM1227.76 143.81h32.5v8.5h-32.5zM675.76 151.81h24.5v8.5h-24.5zM675.76 159.81h24.5v8.5h-24.5zM675.76 167.81h24.5v8.5h-24.5zM699.76 175.81h8.5v8.5h-8.5zM707.76 183.81h8.5v8.5h-8.5zM1227.76 199.81h32.5v8.5h-32.5zM731.76 215.81h8.5v8.5h-8.5zM731.76 223.81h8.5v8.5h-8.5zM1211.76 223.81h8.5v8.5h-8.5zM723.76 239.81h8.5v8.5h-8.5zM1203.76 239.81h8.5v8.5h-8.5zM1203.76 247.81h8.5v8.5h-8.5zM1203.76 263.81h8.5v8.5h-8.5zM715.76 287.81h8.5v8.5h-8.5zM1219.76 287.81h8.5v8.5h-8.5zM731.76 311.81h8.5v8.5h-8.5zM835.76 311.81h16.5v8.5h-16.5zM867.76 319.81h8.5v8.5h-8.5zM1083.76 319.81h8.5v8.5h-8.5zM779.76 327.81h8.5v8.5h-8.5zM1091.76 327.81h8.5v8.5h-8.5zM1227.76 327.81h32.5v8.5h-32.5zM771.76 335.81h8.5v8.5h-8.5zM1091.76 335.81h8.5v8.5h-8.5zM1219.76 335.81h8.5v8.5h-8.5zM915.76 343.81h8.5v8.5h-8.5zM1091.76 343.81h8.5v8.5h-8.5zM1203.76 343.81h8.5v8.5h-8.5zM739.76 351.81h8.5v8.5h-8.5zM763.76 351.81h8.5v8.5h-8.5zM923.76 351.81h8.5v8.5h-8.5zM1099.76 351.81h8.5v8.5h-8.5zM1187.76 351.81h8.5v8.5h-8.5zM747.76 359.81h16.5v8.5h-16.5zM1027.76 359.81h8.5v8.5h-8.5zM1099.76 359.81h16.5v8.5h-16.5zM1171.76 359.81h8.5v8.5h-8.5zM931.76 367.81h8.5v8.5h-8.5zM1123.76 367.81h32.5v8.5h-32.5zM995.76 375.81h8.5v8.5h-8.5zM947.76 383.81h24.5v8.5h-24.5zM883.76 391.81h16.5v8.5h-16.5zM883.76 399.81h16.5v8.5h-16.5z"/>
<path fill="#151515" d="M1003.76 23.81h8.5v8.5h-8.5zM1003.76 31.81h8.5v8.5h-8.5zM1003.76 39.81h8.5v8.5h-8.5zM1043.76 63.81h8.5v8.5h-8.5zM1099.76 87.81h8.5v8.5h-8.5zM811.76 95.81h8.5v8.5h-8.5zM1123.76 95.81h8.5v8.5h-8.5zM747.76 111.81h8.5v8.5h-8.5zM731.76 119.81h8.5v8.5h-8.5zM1187.76 119.81h8.5v8.5h-8.5zM1203.76 127.81h8.5v8.5h-8.5zM707.76 135.81h8.5v8.5h-8.5zM699.76 151.81h8.5v8.5h-8.5zM699.76 167.81h8.5v8.5h-8.5zM715.76 191.81h8.5v8.5h-8.5zM723.76 199.81h8.5v8.5h-8.5zM1219.76 207.81h8.5v8.5h-8.5zM731.76 231.81h8.5v8.5h-8.5zM715.76 255.81h8.5v8.5h-8.5zM1211.76 279.81h8.5v8.5h-8.5zM723.76 295.81h8.5v8.5h-8.5zM803.76 303.81h24.5v8.5h-24.5zM1227.76 303.81h32.5v8.5h-32.5zM787.76 311.81h8.5v8.5h-8.5zM851.76 311.81h8.5v8.5h-8.5zM1059.76 311.81h24.5v8.5h-24.5zM779.76 319.81h8.5v8.5h-8.5zM875.76 319.81h8.5v8.5h-8.5zM1051.76 319.81h8.5v8.5h-8.5zM1091.76 319.81h8.5v8.5h-8.5zM1227.76 319.81h32.5v8.5h-32.5zM739.76 327.81h8.5v8.5h-8.5zM891.76 327.81h8.5v8.5h-8.5zM1043.76 327.81h8.5v8.5h-8.5zM1099.76 327.81h8.5v8.5h-8.5zM739.76 335.81h8.5v8.5h-8.5zM1099.76 335.81h8.5v8.5h-8.5zM739.76 343.81h8.5v8.5h-8.5zM763.76 343.81h8.5v8.5h-8.5zM1035.76 343.81h8.5v8.5h-8.5zM1099.76 343.81h8.5v8.5h-8.5zM1195.76 343.81h8.5v8.5h-8.5zM1107.76 351.81h8.5v8.5h-8.5zM1179.76 351.81h8.5v8.5h-8.5zM1115.76 359.81h16.5v8.5h-16.5zM1163.76 359.81h8.5v8.5h-8.5zM1011.76 367.81h8.5v8.5h-8.5zM939.76 375.81h8.5v8.5h-8.5zM987.76 375.81h8.5v8.5h-8.5z"/>
<path fill="#161616" d="M883.76 63.81h8.5v8.5h-8.5zM1059.76 71.81h8.5v8.5h-8.5zM1075.76 79.81h8.5v8.5h-8.5zM779.76 103.81h8.5v8.5h-8.5zM1139.76 103.81h8.5v8.5h-8.5zM755.76 111.81h8.5v8.5h-8.5zM1163.76 111.81h8.5v8.5h-8.5zM1211.76 135.81h8.5v8.5h-8.5zM1227.76 151.81h32.5v8.5h-32.5zM699.76 159.81h8.5v8.5h-8.5zM707.76 175.81h8.5v8.5h-8.5zM1227.76 191.81h32.5v8.5h-32.5zM731.76 207.81h8.5v8.5h-8.5zM739.76 215.81h8.5v8.5h-8.5zM1211.76 215.81h8.5v8.5h-8.5zM739.76 223.81h8.5v8.5h-8.5zM1203.76 231.81h8.5v8.5h-8.5zM723.76 247.81h8.5v8.5h-8.5zM715.76 263.81h8.5v8.5h-8.5zM715.76 271.81h8.5v8.5h-8.5zM1203.76 271.81h8.5v8.5h-8.5zM715.76 279.81h8.5v8.5h-8.5zM731.76 303.81h8.5v8.5h-8.5zM795.76 303.81h8.5v8.5h-8.5zM827.76 303.81h16.5v8.5h-16.5zM739.76 311.81h8.5v8.5h-8.5zM859.76 311.81h8.5v8.5h-8.5zM1083.76 311.81h16.5v8.5h-16.5zM1227.76 311.81h32.5v8.5h-32.5zM739.76 319.81h8.5v8.5h-8.5zM1099.76 319.81h8.5v8.5h-8.5zM771.76 327.81h8.5v8.5h-8.5zM1107.76 327.81h8.5v8.5h-8.5zM763.76 335.81h8.5v8.5h-8.5zM907.76 335.81h8.5v8.5h-8.5zM1107.76 335.81h8.5v8.5h-8.5zM1211.76 335.81h8.5v8.5h-8.5zM1107.76 343.81h8.5v8.5h-8.5zM747.76 351.81h16.5v8.5h-16.5zM1027.76 351.81h8.5v8.5h-8.5zM1115.76 351.81h8.5v8.5h-8.5zM1171.76 351.81h8.5v8.5h-8.5zM931.76 359.81h8.5v8.5h-8.5zM1131.76 359.81h32.5v8.5h-32.5z"/>
<path fill="#171717" d="M899.76 55.81h8.5v8.5h-8.5zM1035.76 63.81h8.5v8.5h-8.5zM867.76 71.81h8.5v8.5h-8.5zM851.76 79.81h8.5v8.5h-8.5zM835.76 87.81h8.5v8.5h-8.5zM1091.76 87.81h8.5v8.5h-8.5zM819.76 95.81h8.5v8.5h-8.5zM1115.76 95.81h8.5v8.5h-8.5zM787.76 103.81h8.5v8.5h-8.5zM739.76 119.81h8.5v8.5h-8.5zM1179.76 119.81h8.5v8.5h-8.5zM723.76 127.81h8.5v8.5h-8.5zM1195.76 127.81h8.5v8.5h-8.5zM715.76 135.81h8.5v8.5h-8.5zM707.76 143.81h8.5v8.5h-8.5zM1219.76 143.81h8.5v8.5h-8.5zM715.76 183.81h8.5v8.5h-8.5zM1227.76 183.81h32.5v8.5h-32.5zM1219.76 199.81h8.5v8.5h-8.5zM1203.76 223.81h8.5v8.5h-8.5zM739.76 231.81h8.5v8.5h-8.5zM731.76 239.81h8.5v8.5h-8.5zM1195.76 247.81h8.5v8.5h-8.5zM1195.76 255.81h8.5v8.5h-8.5zM1219.76 295.81h8.5v8.5h-8.5zM843.76 303.81h8.5v8.5h-8.5zM779.76 311.81h8.5v8.5h-8.5zM867.76 311.81h8.5v8.5h-8.5zM1051.76 311.81h8.5v8.5h-8.5zM1099.76 311.81h8.5v8.5h-8.5zM747.76 319.81h8.5v8.5h-8.5zM771.76 319.81h8.5v8.5h-8.5zM883.76 319.81h8.5v8.5h-8.5zM1107.76 319.81h8.5v8.5h-8.5zM747.76 327.81h8.5v8.5h-8.5zM763.76 327.81h8.5v8.5h-8.5zM899.76 327.81h8.5v8.5h-8.5zM1219.76 327.81h8.5v8.5h-8.5zM747.76 335.81h16.5v8.5h-16.5zM1035.76 335.81h8.5v8.5h-8.5zM1115.76 335.81h8.5v8.5h-8.5zM747.76 343.81h16.5v8.5h-16.5zM923.76 343.81h8.5v8.5h-8.5zM1115.76 343.81h8.5v8.5h-8.5zM1187.76 343.81h8.5v8.5h-8.5zM1123.76 351.81h16.5v8.5h-16.5zM1163.76 351.81h8.5v8.5h-8.5zM1019.76 359.81h8.5v8.5h-8.5zM939.76 367.81h8.5v8.5h-8.5zM1003.76 367.81h8.5v8.5h-8.5zM947.76 375.81h8.5v8.5h-8.5zM979.76 375.81h8.5v8.5h-8.5z"/>
<path fill="#181818" d="M923.76 23.81h8.5v8.5h-8.5zM923.76 31.81h8.5v8.5h-8.5zM923.76 39.81h8.5v8.5h-8.5zM915.76 47.81h8.5v8.5h-8.5zM1019.76 55.81h8.5v8.5h-8.5zM795.76 103.81h8.5v8.5h-8.5zM1131.76 103.81h8.5v8.5h-8.5zM763.76 111.81h8.5v8.5h-8.5zM1155.76 111.81h8.5v8.5h-8.5zM707.76 151.81h8.5v8.5h-8.5zM707.76 159.81h8.5v8.5h-8.5zM1227.76 159.81h32.5v8.5h-32.5zM707.76 167.81h8.5v8.5h-8.5zM1227.76 167.81h32.5v8.5h-32.5zM1227.76 175.81h32.5v8.5h-32.5zM723.76 191.81h8.5v8.5h-8.5zM731.76 199.81h8.5v8.5h-8.5zM739.76 207.81h8.5v8.5h-8.5zM1211.76 207.81h8.5v8.5h-8.5zM747.76 215.81h8.5v8.5h-8.5zM747.76 223.81h8.5v8.5h-8.5zM1195.76 239.81h8.5v8.5h-8.5zM1195.76 263.81h8.5v8.5h-8.5zM723.76 287.81h8.5v8.5h-8.5zM1211.76 287.81h8.5v8.5h-8.5zM731.76 295.81h8.5v8.5h-8.5zM803.76 295.81h32.5v8.5h-32.5zM739.76 303.81h8.5v8.5h-8.5zM787.76 303.81h8.5v8.5h-8.5zM851.76 303.81h8.5v8.5h-8.5zM1059.76 303.81h32.5v8.5h-32.5zM747.76 311.81h8.5v8.5h-8.5zM1107.76 311.81h8.5v8.5h-8.5zM755.76 319.81h16.5v8.5h-16.5zM1043.76 319.81h8.5v8.5h-8.5zM1115.76 319.81h8.5v8.5h-8.5zM755.76 327.81h8.5v8.5h-8.5zM1115.76 327.81h8.5v8.5h-8.5zM915.76 335.81h8.5v8.5h-8.5zM1123.76 335.81h8.5v8.5h-8.5zM1203.76 335.81h8.5v8.5h-8.5zM1123.76 343.81h8.5v8.5h-8.5zM1171.76 343.81h16.5v8.5h-16.5zM931.76 351.81h8.5v8.5h-8.5zM1139.76 351.81h24.5v8.5h-24.5zM971.76 375.81h8.5v8.5h-8.5z"/>
<path fill="#191919" d="M1051.76 71.81h8.5v8.5h-8.5zM1107.76 95.81h8.5v8.5h-8.5zM803.76 103.81h8.5v8.5h-8.5zM747.76 119.81h8.5v8.5h-8.5zM1171.76 119.81h8.5v8.5h-8.5zM731.76 127.81h8.5v8.5h-8.5zM1203.76 135.81h8.5v8.5h-8.5zM715.76 143.81h8.5v8.5h-8.5zM1219.76 151.81h8.5v8.5h-8.5zM715.76 175.81h8.5v8.5h-8.5zM1219.76 191.81h8.5v8.5h-8.5zM1203.76 215.81h8.5v8.5h-8.5zM755.76 223.81h8.5v8.5h-8.5zM747.76 231.81h8.5v8.5h-8.5zM1195.76 231.81h8.5v8.5h-8.5zM739.76 239.81h8.5v8.5h-8.5zM723.76 255.81h8.5v8.5h-8.5zM1195.76 271.81h8.5v8.5h-8.5zM1203.76 279.81h8.5v8.5h-8.5zM795.76 295.81h8.5v8.5h-8.5zM835.76 295.81h8.5v8.5h-8.5zM859.76 303.81h8.5v8.5h-8.5zM1091.76 303.81h16.5v8.5h-16.5zM1219.76 303.81h8.5v8.5h-8.5zM771.76 311.81h8.5v8.5h-8.5zM875.76 311.81h8.5v8.5h-8.5zM1115.76 311.81h8.5v8.5h-8.5zM891.76 319.81h8.5v8.5h-8.5zM1123.76 319.81h8.5v8.5h-8.5zM1219.76 319.81h8.5v8.5h-8.5zM1035.76 327.81h8.5v8.5h-8.5zM1123.76 327.81h8.5v8.5h-8.5zM1211.76 327.81h8.5v8.5h-8.5zM1131.76 335.81h8.5v8.5h-8.5zM1195.76 335.81h8.5v8.5h-8.5zM1027.76 343.81h8.5v8.5h-8.5zM1131.76 343.81h16.5v8.5h-16.5zM1163.76 343.81h8.5v8.5h-8.5zM939.76 359.81h8.5v8.5h-8.5zM1011.76 359.81h8.5v8.5h-8.5zM947.76 367.81h8.5v8.5h-8.5zM995.76 367.81h8.5v8.5h-8.5zM955.76 375.81h16.5v8.5h-16.5z"/>
<path fill="#1a1a1a" d="M995.76 23.81h8.5v8.5h-8.5zM995.76 31.81h8.5v8.5h-8.5zM995.76 39.81h8.5v8.5h-8.5zM1003.76 47.81h8.5v8.5h-8.5zM1067.76 79.81h8.5v8.5h-8.5zM1083.76 87.81h8.5v8.5h-8.5zM827.76 95.81h8.5v8.5h-8.5zM771.76 111.81h8.5v8.5h-8.5zM1147.76 111.81h8.5v8.5h-8.5zM1187.76 127.81h8.5v8.5h-8.5zM723.76 135.81h8.5v8.5h-8.5zM1211.76 143.81h8.5v8.5h-8.5zM723.76 183.81h8.5v8.5h-8.5zM1219.76 183.81h8.5v8.5h-8.5zM731.76 191.81h8.5v8.5h-8.5zM739.76 199.81h8.5v8.5h-8.5zM1211.76 199.81h8.5v8.5h-8.5zM747.76 207.81h8.5v8.5h-8.5zM755.76 215.81h8.5v8.5h-8.5zM1195.76 223.81h8.5v8.5h-8.5zM755.76 231.81h8.5v8.5h-8.5zM1187.76 239.81h8.5v8.5h-8.5zM731.76 247.81h8.5v8.5h-8.5zM1187.76 247.81h8.5v8.5h-8.5zM1187.76 255.81h8.5v8.5h-8.5zM723.76 263.81h8.5v8.5h-8.5zM723.76 279.81h8.5v8.5h-8.5zM843.76 295.81h8.5v8.5h-8.5zM747.76 303.81h8.5v8.5h-8.5zM779.76 303.81h8.5v8.5h-8.5zM1051.76 303.81h8.5v8.5h-8.5zM1107.76 303.81h8.5v8.5h-8.5zM755.76 311.81h16.5v8.5h-16.5zM1043.76 311.81h8.5v8.5h-8.5zM1123.76 311.81h8.5v8.5h-8.5zM1219.76 311.81h8.5v8.5h-8.5zM1131.76 319.81h8.5v8.5h-8.5zM907.76 327.81h8.5v8.5h-8.5zM1131.76 327.81h8.5v8.5h-8.5zM1139.76 335.81h8.5v8.5h-8.5zM1179.76 335.81h16.5v8.5h-16.5zM1147.76 343.81h16.5v8.5h-16.5zM1019.76 351.81h8.5v8.5h-8.5zM987.76 367.81h8.5v8.5h-8.5z"/>
<path fill="#1b1b1b" d="M891.76 63.81h8.5v8.5h-8.5zM1027.76 63.81h8.5v8.5h-8.5zM875.76 71.81h8.5v8.5h-8.5zM859.76 79.81h8.5v8.5h-8.5zM843.76 87.81h8.5v8.5h-8.5zM811.76 103.81h8.5v8.5h-8.5zM1123.76 103.81h8.5v8.5h-8.5zM779.76 111.81h8.5v8.5h-8.5zM755.76 119.81h8.5v8.5h-8.5zM1163.76 119.81h8.5v8.5h-8.5zM739.76 127.81h8.5v8.5h-8.5zM715.76 151.81h8.5v8.5h-8.5zM715.76 159.81h8.5v8.5h-8.5zM1219.76 159.81h8.5v8.5h-8.5zM715.76 167.81h8.5v8.5h-8.5zM1219.76 175.81h8.5v8.5h-8.5zM1203.76 207.81h8.5v8.5h-8.5zM763.76 223.81h8.5v8.5h-8.5zM1187.76 231.81h8.5v8.5h-8.5zM747.76 239.81h8.5v8.5h-8.5zM1187.76 263.81h8.5v8.5h-8.5zM723.76 271.81h8.5v8.5h-8.5zM731.76 287.81h8.5v8.5h-8.5zM811.76 287.81h24.5v8.5h-24.5zM739.76 295.81h8.5v8.5h-8.5zM787.76 295.81h8.5v8.5h-8.5zM851.76 295.81h8.5v8.5h-8.5zM1067.76 295.81h32.5v8.5h-32.5zM1211.76 295.81h8.5v8.5h-8.5zM771.76 303.81h8.5v8.5h-8.5zM867.76 303.81h8.5v8.5h-8.5zM1115.76 303.81h8.5v8.5h-8.5zM883.76 311.81h8.5v8.5h-8.5zM1139.76 319.81h8.5v8.5h-8.5zM1139.76 327.81h16.5v8.5h-16.5zM1203.76 327.81h8.5v8.5h-8.5zM1147.76 335.81h32.5v8.5h-32.5zM931.76 343.81h8.5v8.5h-8.5zM979.76 367.81h8.5v8.5h-8.5z"/>
<path fill="#1c1c1c" d="M907.76 55.81h8.5v8.5h-8.5zM1099.76 95.81h8.5v8.5h-8.5zM1139.76 111.81h8.5v8.5h-8.5zM1179.76 127.81h8.5v8.5h-8.5zM731.76 135.81h8.5v8.5h-8.5zM1195.76 135.81h8.5v8.5h-8.5zM723.76 143.81h8.5v8.5h-8.5zM1219.76 167.81h8.5v8.5h-8.5zM723.76 175.81h8.5v8.5h-8.5zM1211.76 191.81h8.5v8.5h-8.5zM755.76 207.81h8.5v8.5h-8.5zM763.76 215.81h8.5v8.5h-8.5zM1195.76 215.81h8.5v8.5h-8.5zM763.76 231.81h8.5v8.5h-8.5zM739.76 247.81h8.5v8.5h-8.5zM731.76 255.81h8.5v8.5h-8.5zM1187.76 271.81h8.5v8.5h-8.5zM1195.76 279.81h8.5v8.5h-8.5zM803.76 287.81h8.5v8.5h-8.5zM835.76 287.81h16.5v8.5h-16.5zM1203.76 287.81h8.5v8.5h-8.5zM859.76 295.81h8.5v8.5h-8.5zM1059.76 295.81h8.5v8.5h-8.5zM1099.76 295.81h8.5v8.5h-8.5zM755.76 303.81h16.5v8.5h-16.5zM1123.76 303.81h8.5v8.5h-8.5zM1131.76 311.81h8.5v8.5h-8.5zM899.76 319.81h8.5v8.5h-8.5zM1035.76 319.81h8.5v8.5h-8.5zM1147.76 319.81h8.5v8.5h-8.5zM1211.76 319.81h8.5v8.5h-8.5zM1155.76 327.81h16.5v8.5h-16.5zM923.76 335.81h8.5v8.5h-8.5zM1027.76 335.81h8.5v8.5h-8.5zM939.76 351.81h8.5v8.5h-8.5zM947.76 359.81h8.5v8.5h-8.5zM1003.76 359.81h8.5v8.5h-8.5zM955.76 367.81h8.5v8.5h-8.5zM971.76 367.81h8.5v8.5h-8.5z"/>
<path fill="#1d1d1d" d="M931.76 23.81h8.5v8.5h-8.5zM931.76 31.81h8.5v8.5h-8.5zM931.76 39.81h8.5v8.5h-8.5zM923.76 47.81h8.5v8.5h-8.5zM1043.76 71.81h8.5v8.5h-8.5zM1115.76 103.81h8.5v8.5h-8.5zM787.76 111.81h8.5v8.5h-8.5zM763.76 119.81h8.5v8.5h-8.5zM1155.76 119.81h8.5v8.5h-8.5zM1203.76 143.81h8.5v8.5h-8.5zM1211.76 151.81h8.5v8.5h-8.5zM731.76 183.81h8.5v8.5h-8.5zM739.76 191.81h8.5v8.5h-8.5zM747.76 199.81h8.5v8.5h-8.5zM1203.76 199.81h8.5v8.5h-8.5zM1187.76 223.81h8.5v8.5h-8.5zM755.76 239.81h8.5v8.5h-8.5zM1179.76 239.81h8.5v8.5h-8.5zM1179.76 247.81h8.5v8.5h-8.5zM1179.76 255.81h8.5v8.5h-8.5zM795.76 287.81h8.5v8.5h-8.5zM851.76 287.81h8.5v8.5h-8.5zM747.76 295.81h8.5v8.5h-8.5zM779.76 295.81h8.5v8.5h-8.5zM1107.76 295.81h16.5v8.5h-16.5zM875.76 303.81h8.5v8.5h-8.5zM1043.76 303.81h8.5v8.5h-8.5zM1131.76 303.81h8.5v8.5h-8.5zM1211.76 303.81h8.5v8.5h-8.5zM1139.76 311.81h24.5v8.5h-24.5zM1155.76 319.81h16.5v8.5h-16.5zM1171.76 327.81h32.5v8.5h-32.5zM1019.76 343.81h8.5v8.5h-8.5zM1011.76 351.81h8.5v8.5h-8.5zM995.76 359.81h8.5v8.5h-8.5zM963.76 367.81h8.5v8.5h-8.5z"/>
<path fill="#1e1e1e" d="M987.76 23.81h8.5v8.5h-8.5zM987.76 31.81h8.5v8.5h-8.5zM987.76 39.81h8.5v8.5h-8.5zM1011.76 55.81h8.5v8.5h-8.5zM1059.76 79.81h8.5v8.5h-8.5zM1075.76 87.81h8.5v8.5h-8.5zM835.76 95.81h8.5v8.5h-8.5zM819.76 103.81h8.5v8.5h-8.5zM795.76 111.81h8.5v8.5h-8.5zM1131.76 111.81h8.5v8.5h-8.5zM747.76 127.81h8.5v8.5h-8.5zM1171.76 127.81h8.5v8.5h-8.5zM1187.76 135.81h8.5v8.5h-8.5zM723.76 151.81h8.5v8.5h-8.5zM723.76 159.81h8.5v8.5h-8.5zM1211.76 159.81h8.5v8.5h-8.5zM723.76 167.81h8.5v8.5h-8.5zM1211.76 183.81h8.5v8.5h-8.5zM763.76 207.81h8.5v8.5h-8.5zM1195.76 207.81h8.5v8.5h-8.5zM1187.76 215.81h8.5v8.5h-8.5zM771.76 223.81h8.5v8.5h-8.5zM771.76 231.81h8.5v8.5h-8.5zM1179.76 231.81h8.5v8.5h-8.5zM763.76 239.81h8.5v8.5h-8.5zM731.76 263.81h8.5v8.5h-8.5zM1179.76 263.81h8.5v8.5h-8.5zM731.76 279.81h8.5v8.5h-8.5zM803.76 279.81h48.5v8.5h-48.5zM1187.76 279.81h8.5v8.5h-8.5zM739.76 287.81h8.5v8.5h-8.5zM787.76 287.81h8.5v8.5h-8.5zM1075.76 287.81h24.5v8.5h-24.5zM867.76 295.81h8.5v8.5h-8.5zM1051.76 295.81h8.5v8.5h-8.5zM1139.76 303.81h16.5v8.5h-16.5zM891.76 311.81h8.5v8.5h-8.5zM1163.76 311.81h8.5v8.5h-8.5zM1211.76 311.81h8.5v8.5h-8.5zM1171.76 319.81h8.5v8.5h-8.5zM915.76 327.81h8.5v8.5h-8.5zM1027.76 327.81h8.5v8.5h-8.5zM955.76 359.81h8.5v8.5h-8.5z"/>
<path fill="#1f1f1f" d="M995.76 47.81h8.5v8.5h-8.5zM883.76 71.81h8.5v8.5h-8.5zM1091.76 95.81h8.5v8.5h-8.5zM771.76 119.81h8.5v8.5h-8.5zM1147.76 119.81h8.5v8.5h-8.5zM739.76 135.81h8.5v8.5h-8.5zM731.76 143.81h8.5v8.5h-8.5zM1211.76 167.81h8.5v8.5h-8.5zM731.76 175.81h8.5v8.5h-8.5zM1211.76 175.81h8.5v8.5h-8.5zM747.76 191.81h8.5v8.5h-8.5zM1203.76 191.81h8.5v8.5h-8.5zM755.76 199.81h8.5v8.5h-8.5zM771.76 215.81h8.5v8.5h-8.5zM1179.76 223.81h8.5v8.5h-8.5zM1171.76 239.81h8.5v8.5h-8.5zM747.76 247.81h8.5v8.5h-8.5zM1171.76 247.81h8.5v8.5h-8.5zM739.76 255.81h8.5v8.5h-8.5zM731.76 271.81h8.5v8.5h-8.5zM827.76 271.81h16.5v8.5h-16.5zM1179.76 271.81h8.5v8.5h-8.5zM851.76 279.81h8.5v8.5h-8.5zM859.76 287.81h8.5v8.5h-8.5zM1067.76 287.81h8.5v8.5h-8.5zM1099.76 287.81h8.5v8.5h-8.5zM1195.76 287.81h8.5v8.5h-8.5zM755.76 295.81h24.5v8.5h-24.5zM1123.76 295.81h8.5v8.5h-8.5zM1203.76 295.81h8.5v8.5h-8.5zM1155.76 303.81h16.5v8.5h-16.5zM1035.76 311.81h8.5v8.5h-8.5zM1171.76 311.81h8.5v8.5h-8.5zM1179.76 319.81h8.5v8.5h-8.5zM1203.76 319.81h8.5v8.5h-8.5zM947.76 351.81h8.5v8.5h-8.5zM963.76 359.81h8.5v8.5h-8.5zM987.76 359.81h8.5v8.5h-8.5z"/>
<path fill="#202020" d="M899.76 63.81h8.5v8.5h-8.5zM867.76 79.81h8.5v8.5h-8.5zM851.76 87.81h8.5v8.5h-8.5zM1107.76 103.81h8.5v8.5h-8.5zM803.76 111.81h8.5v8.5h-8.5zM755.76 127.81h8.5v8.5h-8.5zM1163.76 127.81h8.5v8.5h-8.5zM1179.76 135.81h8.5v8.5h-8.5zM1195.76 143.81h8.5v8.5h-8.5zM1203.76 151.81h8.5v8.5h-8.5zM739.76 183.81h8.5v8.5h-8.5zM1195.76 199.81h8.5v8.5h-8.5zM1187.76 207.81h8.5v8.5h-8.5zM1179.76 215.81h8.5v8.5h-8.5zM779.76 223.81h8.5v8.5h-8.5zM779.76 231.81h8.5v8.5h-8.5zM1171.76 231.81h8.5v8.5h-8.5zM771.76 239.81h8.5v8.5h-8.5zM755.76 247.81h8.5v8.5h-8.5zM1171.76 255.81h8.5v8.5h-8.5zM1171.76 263.81h8.5v8.5h-8.5zM803.76 271.81h24.5v8.5h-24.5zM843.76 271.81h8.5v8.5h-8.5zM795.76 279.81h8.5v8.5h-8.5zM1179.76 279.81h8.5v8.5h-8.5zM779.76 287.81h8.5v8.5h-8.5zM1059.76 287.81h8.5v8.5h-8.5zM1107.76 287.81h8.5v8.5h-8.5zM1187.76 287.81h8.5v8.5h-8.5zM1131.76 295.81h40.5v8.5h-40.5zM883.76 303.81h8.5v8.5h-8.5zM1171.76 303.81h8.5v8.5h-8.5zM907.76 319.81h8.5v8.5h-8.5zM1187.76 319.81h16.5v8.5h-16.5zM931.76 335.81h8.5v8.5h-8.5zM1019.76 335.81h8.5v8.5h-8.5zM939.76 343.81h8.5v8.5h-8.5zM1003.76 351.81h8.5v8.5h-8.5zM971.76 359.81h16.5v8.5h-16.5z"/>
<path fill="#212121" d="M939.76 23.81h8.5v8.5h-8.5zM939.76 31.81h8.5v8.5h-8.5zM939.76 39.81h8.5v8.5h-8.5zM827.76 103.81h8.5v8.5h-8.5zM1123.76 111.81h8.5v8.5h-8.5zM779.76 119.81h8.5v8.5h-8.5zM1139.76 119.81h8.5v8.5h-8.5zM747.76 135.81h8.5v8.5h-8.5zM731.76 151.81h8.5v8.5h-8.5zM731.76 159.81h8.5v8.5h-8.5zM1203.76 159.81h8.5v8.5h-8.5zM731.76 167.81h8.5v8.5h-8.5zM1203.76 183.81h8.5v8.5h-8.5zM763.76 199.81h8.5v8.5h-8.5zM771.76 207.81h8.5v8.5h-8.5zM779.76 215.81h8.5v8.5h-8.5zM787.76 223.81h8.5v8.5h-8.5zM1171.76 223.81h8.5v8.5h-8.5zM787.76 231.81h8.5v8.5h-8.5zM779.76 239.81h16.5v8.5h-16.5zM1163.76 239.81h8.5v8.5h-8.5zM763.76 247.81h8.5v8.5h-8.5zM819.76 247.81h16.5v8.5h-16.5zM1163.76 247.81h8.5v8.5h-8.5zM811.76 255.81h32.5v8.5h-32.5zM739.76 263.81h8.5v8.5h-8.5zM811.76 263.81h40.5v8.5h-40.5zM851.76 271.81h8.5v8.5h-8.5zM1171.76 271.81h8.5v8.5h-8.5zM739.76 279.81h8.5v8.5h-8.5zM787.76 279.81h8.5v8.5h-8.5zM859.76 279.81h8.5v8.5h-8.5zM1075.76 279.81h24.5v8.5h-24.5zM1171.76 279.81h8.5v8.5h-8.5zM747.76 287.81h8.5v8.5h-8.5zM867.76 287.81h8.5v8.5h-8.5zM1115.76 287.81h8.5v8.5h-8.5zM1163.76 287.81h24.5v8.5h-24.5zM875.76 295.81h8.5v8.5h-8.5zM1171.76 295.81h8.5v8.5h-8.5zM1203.76 303.81h8.5v8.5h-8.5zM1179.76 311.81h8.5v8.5h-8.5zM1203.76 311.81h8.5v8.5h-8.5zM1027.76 319.81h8.5v8.5h-8.5zM923.76 327.81h8.5v8.5h-8.5zM1011.76 343.81h8.5v8.5h-8.5zM955.76 351.81h8.5v8.5h-8.5z"/>
<path fill="#222222" d="M979.76 23.81h8.5v8.5h-8.5zM979.76 31.81h8.5v8.5h-8.5zM979.76 39.81h8.5v8.5h-8.5zM931.76 47.81h8.5v8.5h-8.5zM915.76 55.81h8.5v8.5h-8.5zM1019.76 63.81h8.5v8.5h-8.5zM1035.76 71.81h8.5v8.5h-8.5zM1067.76 87.81h8.5v8.5h-8.5zM1083.76 95.81h8.5v8.5h-8.5zM811.76 111.81h8.5v8.5h-8.5zM763.76 127.81h8.5v8.5h-8.5zM1155.76 127.81h8.5v8.5h-8.5zM739.76 143.81h8.5v8.5h-8.5zM1187.76 143.81h8.5v8.5h-8.5zM1203.76 167.81h8.5v8.5h-8.5zM739.76 175.81h8.5v8.5h-8.5zM1203.76 175.81h8.5v8.5h-8.5zM747.76 183.81h8.5v8.5h-8.5zM755.76 191.81h8.5v8.5h-8.5zM1195.76 191.81h8.5v8.5h-8.5zM1187.76 199.81h8.5v8.5h-8.5zM1179.76 207.81h8.5v8.5h-8.5zM1171.76 215.81h8.5v8.5h-8.5zM1163.76 223.81h8.5v8.5h-8.5zM795.76 231.81h24.5v8.5h-24.5zM1163.76 231.81h8.5v8.5h-8.5zM795.76 239.81h48.5v8.5h-48.5zM771.76 247.81h48.5v8.5h-48.5zM835.76 247.81h16.5v8.5h-16.5zM747.76 255.81h8.5v8.5h-8.5zM795.76 255.81h16.5v8.5h-16.5zM843.76 255.81h8.5v8.5h-8.5zM1163.76 255.81h8.5v8.5h-8.5zM795.76 263.81h16.5v8.5h-16.5zM851.76 263.81h8.5v8.5h-8.5zM1163.76 263.81h8.5v8.5h-8.5zM739.76 271.81h8.5v8.5h-8.5zM795.76 271.81h8.5v8.5h-8.5zM1163.76 271.81h8.5v8.5h-8.5zM1067.76 279.81h8.5v8.5h-8.5zM1099.76 279.81h16.5v8.5h-16.5zM1163.76 279.81h8.5v8.5h-8.5zM755.76 287.81h8.5v8.5h-8.5zM771.76 287.81h8.5v8.5h-8.5zM1123.76 287.81h8.5v8.5h-8.5zM1155.76 287.81h8.5v8.5h-8.5zM1043.76 295.81h8.5v8.5h-8.5zM1179.76 295.81h24.5v8.5h-24.5zM1035.76 303.81h8.5v8.5h-8.5zM1179.76 303.81h8.5v8.5h-8.5zM899.76 311.81h8.5v8.5h-8.5zM995.76 351.81h8.5v8.5h-8.5z"/>
<path fill="#232323" d="M1051.76 79.81h8.5v8.5h-8.5zM843.76 95.81h8.5v8.5h-8.5zM1099.76 103.81h8.5v8.5h-8.5zM787.76 119.81h8.5v8.5h-8.5zM1171.76 135.81h8.5v8.5h-8.5zM1195.76 151.81h8.5v8.5h-8.5zM1195.76 183.81h8.5v8.5h-8.5zM779.76 207.81h8.5v8.5h-8.5zM787.76 215.81h8.5v8.5h-8.5zM795.76 223.81h16.5v8.5h-16.5zM819.76 231.81h16.5v8.5h-16.5zM1155.76 231.81h8.5v8.5h-8.5zM843.76 239.81h8.5v8.5h-8.5zM1155.76 239.81h8.5v8.5h-8.5zM1155.76 247.81h8.5v8.5h-8.5zM787.76 255.81h8.5v8.5h-8.5zM851.76 255.81h8.5v8.5h-8.5zM787.76 271.81h8.5v8.5h-8.5zM859.76 271.81h8.5v8.5h-8.5zM1075.76 271.81h16.5v8.5h-16.5zM779.76 279.81h8.5v8.5h-8.5zM867.76 279.81h8.5v8.5h-8.5zM1115.76 279.81h8.5v8.5h-8.5zM1155.76 279.81h8.5v8.5h-8.5zM763.76 287.81h8.5v8.5h-8.5zM1051.76 287.81h8.5v8.5h-8.5zM1131.76 287.81h24.5v8.5h-24.5zM891.76 303.81h8.5v8.5h-8.5zM1187.76 303.81h8.5v8.5h-8.5zM1187.76 311.81h16.5v8.5h-16.5zM915.76 319.81h8.5v8.5h-8.5zM1019.76 327.81h8.5v8.5h-8.5zM963.76 351.81h8.5v8.5h-8.5z"/>
<path fill="#242424" d="M947.76 23.81h8.5v8.5h-8.5zM947.76 31.81h8.5v8.5h-8.5zM947.76 39.81h8.5v8.5h-8.5zM987.76 47.81h8.5v8.5h-8.5zM1115.76 111.81h8.5v8.5h-8.5zM795.76 119.81h8.5v8.5h-8.5zM1131.76 119.81h8.5v8.5h-8.5zM771.76 127.81h8.5v8.5h-8.5zM1147.76 127.81h8.5v8.5h-8.5zM755.76 135.81h8.5v8.5h-8.5zM1179.76 143.81h8.5v8.5h-8.5zM739.76 151.81h8.5v8.5h-8.5zM739.76 159.81h8.5v8.5h-8.5zM1195.76 159.81h8.5v8.5h-8.5zM739.76 167.81h8.5v8.5h-8.5zM1195.76 175.81h8.5v8.5h-8.5zM1187.76 191.81h8.5v8.5h-8.5zM771.76 199.81h8.5v8.5h-8.5zM1179.76 199.81h8.5v8.5h-8.5zM1171.76 207.81h8.5v8.5h-8.5zM795.76 215.81h8.5v8.5h-8.5zM1163.76 215.81h8.5v8.5h-8.5zM811.76 223.81h16.5v8.5h-16.5zM1155.76 223.81h8.5v8.5h-8.5zM835.76 231.81h8.5v8.5h-8.5zM1147.76 231.81h8.5v8.5h-8.5zM1107.76 239.81h8.5v8.5h-8.5zM1147.76 239.81h8.5v8.5h-8.5zM851.76 247.81h8.5v8.5h-8.5zM1091.76 247.81h24.5v8.5h-24.5zM755.76 255.81h32.5v8.5h-32.5zM1083.76 255.81h24.5v8.5h-24.5zM1155.76 255.81h8.5v8.5h-8.5zM747.76 263.81h8.5v8.5h-8.5zM787.76 263.81h8.5v8.5h-8.5zM859.76 263.81h8.5v8.5h-8.5zM1083.76 263.81h16.5v8.5h-16.5zM1155.76 263.81h8.5v8.5h-8.5zM779.76 271.81h8.5v8.5h-8.5zM1067.76 271.81h8.5v8.5h-8.5zM1091.76 271.81h24.5v8.5h-24.5zM1155.76 271.81h8.5v8.5h-8.5zM747.76 279.81h8.5v8.5h-8.5zM1059.76 279.81h8.5v8.5h-8.5zM1147.76 279.81h8.5v8.5h-8.5zM875.76 287.81h8.5v8.5h-8.5zM883.76 295.81h8.5v8.5h-8.5zM1195.76 303.81h8.5v8.5h-8.5zM1027.76 311.81h8.5v8.5h-8.5zM947.76 343.81h8.5v8.5h-8.5zM971.76 351.81h24.5v8.5h-24.5z"/>
<path fill="#252525" d="M971.76 23.81h8.5v8.5h-8.5zM971.76 31.81h8.5v8.5h-8.5zM971.76 39.81h8.5v8.5h-8.5zM1003.76 55.81h8.5v8.5h-8.5zM891.76 71.81h8.5v8.5h-8.5zM875.76 79.81h8.5v8.5h-8.5zM859.76 87.81h8.5v8.5h-8.5zM819.76 111.81h8.5v8.5h-8.5zM1163.76 135.81h8.5v8.5h-8.5zM747.76 143.81h8.5v8.5h-8.5zM1187.76 151.81h8.5v8.5h-8.5zM1195.76 167.81h8.5v8.5h-8.5zM747.76 175.81h8.5v8.5h-8.5zM755.76 183.81h8.5v8.5h-8.5zM763.76 191.81h8.5v8.5h-8.5zM787.76 207.81h8.5v8.5h-8.5zM1155.76 215.81h8.5v8.5h-8.5zM827.76 223.81h8.5v8.5h-8.5zM1147.76 223.81h8.5v8.5h-8.5zM843.76 231.81h8.5v8.5h-8.5zM1107.76 231.81h40.5v8.5h-40.5zM851.76 239.81h8.5v8.5h-8.5zM1091.76 239.81h16.5v8.5h-16.5zM1115.76 239.81h32.5v8.5h-32.5zM1083.76 247.81h8.5v8.5h-8.5zM1115.76 247.81h16.5v8.5h-16.5zM1139.76 247.81h16.5v8.5h-16.5zM859.76 255.81h8.5v8.5h-8.5zM1075.76 255.81h8.5v8.5h-8.5zM1107.76 255.81h8.5v8.5h-8.5zM1147.76 255.81h8.5v8.5h-8.5zM779.76 263.81h8.5v8.5h-8.5zM1075.76 263.81h8.5v8.5h-8.5zM1099.76 263.81h16.5v8.5h-16.5zM747.76 271.81h8.5v8.5h-8.5zM867.76 271.81h8.5v8.5h-8.5zM1115.76 271.81h8.5v8.5h-8.5zM755.76 279.81h8.5v8.5h-8.5zM771.76 279.81h8.5v8.5h-8.5zM1123.76 279.81h24.5v8.5h-24.5zM907.76 311.81h8.5v8.5h-8.5zM939.76 335.81h8.5v8.5h-8.5zM1011.76 335.81h8.5v8.5h-8.5zM1003.76 343.81h8.5v8.5h-8.5z"/>
<path fill="#262626" d="M955.76 23.81h16.5v8.5h-16.5zM955.76 31.81h16.5v8.5h-16.5zM955.76 39.81h16.5v8.5h-16.5zM907.76 63.81h8.5v8.5h-8.5zM1075.76 95.81h8.5v8.5h-8.5zM835.76 103.81h8.5v8.5h-8.5zM803.76 119.81h8.5v8.5h-8.5zM779.76 127.81h8.5v8.5h-8.5zM1187.76 183.81h8.5v8.5h-8.5zM1179.76 191.81h8.5v8.5h-8.5zM779.76 199.81h8.5v8.5h-8.5zM1171.76 199.81h8.5v8.5h-8.5zM1163.76 207.81h8.5v8.5h-8.5zM803.76 215.81h16.5v8.5h-16.5zM1147.76 215.81h8.5v8.5h-8.5zM835.76 223.81h8.5v8.5h-8.5zM1123.76 223.81h24.5v8.5h-24.5zM851.76 231.81h8.5v8.5h-8.5zM1099.76 231.81h8.5v8.5h-8.5zM1083.76 239.81h8.5v8.5h-8.5zM859.76 247.81h8.5v8.5h-8.5zM1075.76 247.81h8.5v8.5h-8.5zM1131.76 247.81h8.5v8.5h-8.5zM1115.76 255.81h16.5v8.5h-16.5zM1139.76 255.81h8.5v8.5h-8.5zM755.76 263.81h8.5v8.5h-8.5zM771.76 263.81h8.5v8.5h-8.5zM867.76 263.81h8.5v8.5h-8.5zM1067.76 263.81h8.5v8.5h-8.5zM1115.76 263.81h8.5v8.5h-8.5zM1147.76 263.81h8.5v8.5h-8.5zM771.76 271.81h8.5v8.5h-8.5zM1123.76 271.81h8.5v8.5h-8.5zM1147.76 271.81h8.5v8.5h-8.5zM763.76 279.81h8.5v8.5h-8.5zM875.76 279.81h8.5v8.5h-8.5zM1043.76 287.81h8.5v8.5h-8.5zM1035.76 295.81h8.5v8.5h-8.5zM1019.76 319.81h8.5v8.5h-8.5zM931.76 327.81h8.5v8.5h-8.5z"/>
<path fill="#272727" d="M939.76 47.81h8.5v8.5h-8.5zM1027.76 71.81h8.5v8.5h-8.5zM1091.76 103.81h8.5v8.5h-8.5zM1107.76 111.81h8.5v8.5h-8.5zM1123.76 119.81h8.5v8.5h-8.5zM1139.76 127.81h8.5v8.5h-8.5zM763.76 135.81h8.5v8.5h-8.5zM1155.76 135.81h8.5v8.5h-8.5zM755.76 143.81h8.5v8.5h-8.5zM1171.76 143.81h8.5v8.5h-8.5zM747.76 151.81h8.5v8.5h-8.5zM747.76 159.81h8.5v8.5h-8.5zM1187.76 159.81h8.5v8.5h-8.5zM747.76 167.81h8.5v8.5h-8.5zM1187.76 175.81h8.5v8.5h-8.5zM771.76 191.81h8.5v8.5h-8.5zM795.76 207.81h8.5v8.5h-8.5zM1155.76 207.81h8.5v8.5h-8.5zM819.76 215.81h8.5v8.5h-8.5zM1139.76 215.81h8.5v8.5h-8.5zM843.76 223.81h8.5v8.5h-8.5zM1115.76 223.81h8.5v8.5h-8.5zM1091.76 231.81h8.5v8.5h-8.5zM859.76 239.81h8.5v8.5h-8.5zM1075.76 239.81h8.5v8.5h-8.5zM867.76 255.81h8.5v8.5h-8.5zM1067.76 255.81h8.5v8.5h-8.5zM1131.76 255.81h8.5v8.5h-8.5zM763.76 263.81h8.5v8.5h-8.5zM1123.76 263.81h8.5v8.5h-8.5zM1139.76 263.81h8.5v8.5h-8.5zM755.76 271.81h16.5v8.5h-16.5zM1059.76 271.81h8.5v8.5h-8.5zM1131.76 271.81h16.5v8.5h-16.5zM1051.76 279.81h8.5v8.5h-8.5zM883.76 287.81h8.5v8.5h-8.5zM891.76 295.81h8.5v8.5h-8.5zM899.76 303.81h8.5v8.5h-8.5zM1027.76 303.81h8.5v8.5h-8.5zM923.76 319.81h8.5v8.5h-8.5zM955.76 343.81h8.5v8.5h-8.5zM995.76 343.81h8.5v8.5h-8.5z"/>
<path fill="#282828" d="M923.76 55.81h8.5v8.5h-8.5zM1043.76 79.81h8.5v8.5h-8.5zM1059.76 87.81h8.5v8.5h-8.5zM827.76 111.81h8.5v8.5h-8.5zM787.76 127.81h8.5v8.5h-8.5zM1179.76 151.81h8.5v8.5h-8.5zM1187.76 167.81h8.5v8.5h-8.5zM755.76 175.81h8.5v8.5h-8.5zM763.76 183.81h8.5v8.5h-8.5zM1179.76 183.81h8.5v8.5h-8.5zM1171.76 191.81h8.5v8.5h-8.5zM1163.76 199.81h8.5v8.5h-8.5zM827.76 215.81h8.5v8.5h-8.5zM1131.76 215.81h8.5v8.5h-8.5zM1107.76 223.81h8.5v8.5h-8.5zM859.76 231.81h8.5v8.5h-8.5zM1067.76 247.81h8.5v8.5h-8.5zM1131.76 263.81h8.5v8.5h-8.5zM875.76 271.81h8.5v8.5h-8.5zM1011.76 327.81h8.5v8.5h-8.5zM963.76 343.81h8.5v8.5h-8.5z"/>
<path fill="#292929" d="M979.76 47.81h8.5v8.5h-8.5zM1011.76 63.81h8.5v8.5h-8.5zM851.76 95.81h8.5v8.5h-8.5zM811.76 119.81h8.5v8.5h-8.5zM771.76 135.81h8.5v8.5h-8.5zM1147.76 135.81h8.5v8.5h-8.5zM1163.76 143.81h8.5v8.5h-8.5zM1179.76 159.81h8.5v8.5h-8.5zM1179.76 175.81h8.5v8.5h-8.5zM787.76 199.81h8.5v8.5h-8.5zM803.76 207.81h8.5v8.5h-8.5zM1147.76 207.81h8.5v8.5h-8.5zM835.76 215.81h8.5v8.5h-8.5zM1123.76 215.81h8.5v8.5h-8.5zM851.76 223.81h8.5v8.5h-8.5zM1083.76 231.81h8.5v8.5h-8.5zM867.76 247.81h8.5v8.5h-8.5zM1059.76 263.81h8.5v8.5h-8.5zM915.76 311.81h8.5v8.5h-8.5zM1003.76 335.81h8.5v8.5h-8.5zM987.76 343.81h8.5v8.5h-8.5z"/>
<path fill="#2a2a2a" d="M883.76 79.81h8.5v8.5h-8.5zM867.76 87.81h8.5v8.5h-8.5zM795.76 127.81h8.5v8.5h-8.5zM1131.76 127.81h8.5v8.5h-8.5zM763.76 143.81h8.5v8.5h-8.5zM755.76 151.81h8.5v8.5h-8.5zM1171.76 151.81h8.5v8.5h-8.5zM755.76 159.81h8.5v8.5h-8.5zM755.76 167.81h8.5v8.5h-8.5zM1179.76 167.81h8.5v8.5h-8.5zM1171.76 183.81h8.5v8.5h-8.5zM779.76 191.81h8.5v8.5h-8.5zM1163.76 191.81h8.5v8.5h-8.5zM1155.76 199.81h8.5v8.5h-8.5zM811.76 207.81h8.5v8.5h-8.5zM1139.76 207.81h8.5v8.5h-8.5zM1115.76 215.81h8.5v8.5h-8.5zM1099.76 223.81h8.5v8.5h-8.5zM1075.76 231.81h8.5v8.5h-8.5zM867.76 239.81h8.5v8.5h-8.5zM1067.76 239.81h8.5v8.5h-8.5zM1059.76 255.81h8.5v8.5h-8.5zM875.76 263.81h8.5v8.5h-8.5zM1051.76 271.81h8.5v8.5h-8.5zM883.76 279.81h8.5v8.5h-8.5zM1043.76 279.81h8.5v8.5h-8.5zM1035.76 287.81h8.5v8.5h-8.5zM1019.76 311.81h8.5v8.5h-8.5zM947.76 335.81h8.5v8.5h-8.5zM971.76 343.81h16.5v8.5h-16.5z"/>
<path fill="#2b2b2b" d="M947.76 47.81h8.5v8.5h-8.5zM843.76 103.81h8.5v8.5h-8.5zM1115.76 119.81h8.5v8.5h-8.5zM779.76 135.81h8.5v8.5h-8.5zM1155.76 143.81h8.5v8.5h-8.5zM763.76 175.81h8.5v8.5h-8.5zM771.76 183.81h8.5v8.5h-8.5zM795.76 199.81h8.5v8.5h-8.5zM1147.76 199.81h8.5v8.5h-8.5zM819.76 207.81h8.5v8.5h-8.5zM1131.76 207.81h8.5v8.5h-8.5zM843.76 215.81h8.5v8.5h-8.5zM859.76 223.81h8.5v8.5h-8.5zM875.76 255.81h8.5v8.5h-8.5zM891.76 287.81h8.5v8.5h-8.5zM899.76 295.81h8.5v8.5h-8.5zM1027.76 295.81h8.5v8.5h-8.5zM907.76 303.81h8.5v8.5h-8.5zM931.76 319.81h8.5v8.5h-8.5zM1011.76 319.81h8.5v8.5h-8.5zM939.76 327.81h8.5v8.5h-8.5z"/>
<path fill="#2c2c2c" d="M971.76 47.81h8.5v8.5h-8.5zM995.76 55.81h8.5v8.5h-8.5zM899.76 71.81h8.5v8.5h-8.5zM1067.76 95.81h8.5v8.5h-8.5zM1083.76 103.81h8.5v8.5h-8.5zM1099.76 111.81h8.5v8.5h-8.5zM819.76 119.81h8.5v8.5h-8.5zM1139.76 135.81h8.5v8.5h-8.5zM1163.76 151.81h8.5v8.5h-8.5zM1171.76 159.81h8.5v8.5h-8.5zM1171.76 167.81h8.5v8.5h-8.5zM1171.76 175.81h8.5v8.5h-8.5zM1163.76 183.81h8.5v8.5h-8.5zM787.76 191.81h8.5v8.5h-8.5zM1155.76 191.81h8.5v8.5h-8.5zM803.76 199.81h8.5v8.5h-8.5zM827.76 207.81h8.5v8.5h-8.5zM1107.76 215.81h8.5v8.5h-8.5zM1091.76 223.81h8.5v8.5h-8.5zM867.76 231.81h8.5v8.5h-8.5zM875.76 247.81h8.5v8.5h-8.5zM1059.76 247.81h8.5v8.5h-8.5zM883.76 271.81h8.5v8.5h-8.5zM1003.76 327.81h8.5v8.5h-8.5zM995.76 335.81h8.5v8.5h-8.5z"/>
<path fill="#2d2d2d" d="M955.76 47.81h8.5v8.5h-8.5zM915.76 63.81h8.5v8.5h-8.5zM835.76 111.81h8.5v8.5h-8.5zM803.76 127.81h8.5v8.5h-8.5zM1123.76 127.81h8.5v8.5h-8.5zM771.76 143.81h8.5v8.5h-8.5zM763.76 151.81h8.5v8.5h-8.5zM763.76 159.81h8.5v8.5h-8.5zM763.76 167.81h8.5v8.5h-8.5zM779.76 183.81h8.5v8.5h-8.5zM1139.76 199.81h8.5v8.5h-8.5zM835.76 207.81h8.5v8.5h-8.5zM1123.76 207.81h8.5v8.5h-8.5zM851.76 215.81h8.5v8.5h-8.5zM1051.76 263.81h8.5v8.5h-8.5zM1019.76 303.81h8.5v8.5h-8.5zM923.76 311.81h8.5v8.5h-8.5z"/>
<path fill="#2e2e2e" d="M963.76 47.81h8.5v8.5h-8.5zM1019.76 71.81h8.5v8.5h-8.5zM1035.76 79.81h8.5v8.5h-8.5zM1051.76 87.81h8.5v8.5h-8.5zM859.76 95.81h8.5v8.5h-8.5zM787.76 135.81h8.5v8.5h-8.5zM1147.76 143.81h8.5v8.5h-8.5zM1163.76 159.81h8.5v8.5h-8.5zM771.76 175.81h8.5v8.5h-8.5zM1163.76 175.81h8.5v8.5h-8.5zM1155.76 183.81h8.5v8.5h-8.5zM795.76 191.81h8.5v8.5h-8.5zM1147.76 191.81h8.5v8.5h-8.5zM811.76 199.81h8.5v8.5h-8.5zM1131.76 199.81h8.5v8.5h-8.5zM867.76 223.81h8.5v8.5h-8.5zM1083.76 223.81h8.5v8.5h-8.5zM1067.76 231.81h8.5v8.5h-8.5zM875.76 239.81h8.5v8.5h-8.5zM1059.76 239.81h8.5v8.5h-8.5zM1051.76 255.81h8.5v8.5h-8.5zM883.76 263.81h8.5v8.5h-8.5zM1043.76 271.81h8.5v8.5h-8.5zM891.76 279.81h8.5v8.5h-8.5zM1035.76 279.81h8.5v8.5h-8.5zM915.76 303.81h8.5v8.5h-8.5zM955.76 335.81h8.5v8.5h-8.5zM987.76 335.81h8.5v8.5h-8.5z"/>
<path fill="#2f2f2f" d="M931.76 55.81h8.5v8.5h-8.5zM827.76 119.81h8.5v8.5h-8.5zM1107.76 119.81h8.5v8.5h-8.5zM811.76 127.81h8.5v8.5h-8.5zM1131.76 135.81h8.5v8.5h-8.5zM1155.76 151.81h8.5v8.5h-8.5zM1163.76 167.81h8.5v8.5h-8.5zM1139.76 191.81h8.5v8.5h-8.5zM819.76 199.81h8.5v8.5h-8.5zM843.76 207.81h8.5v8.5h-8.5zM1115.76 207.81h8.5v8.5h-8.5zM859.76 215.81h8.5v8.5h-8.5zM1099.76 215.81h8.5v8.5h-8.5zM883.76 255.81h8.5v8.5h-8.5zM899.76 287.81h8.5v8.5h-8.5zM1027.76 287.81h8.5v8.5h-8.5zM907.76 295.81h8.5v8.5h-8.5zM1011.76 311.81h8.5v8.5h-8.5zM979.76 335.81h8.5v8.5h-8.5z"/>
<path fill="#303030" d="M875.76 87.81h8.5v8.5h-8.5zM795.76 135.81h8.5v8.5h-8.5zM779.76 143.81h8.5v8.5h-8.5zM1139.76 143.81h8.5v8.5h-8.5zM771.76 151.81h8.5v8.5h-8.5zM771.76 167.81h8.5v8.5h-8.5zM779.76 175.81h8.5v8.5h-8.5zM1155.76 175.81h8.5v8.5h-8.5zM787.76 183.81h8.5v8.5h-8.5zM1147.76 183.81h8.5v8.5h-8.5zM803.76 191.81h8.5v8.5h-8.5zM827.76 199.81h8.5v8.5h-8.5zM1123.76 199.81h8.5v8.5h-8.5zM875.76 231.81h8.5v8.5h-8.5zM1051.76 247.81h8.5v8.5h-8.5zM891.76 271.81h8.5v8.5h-8.5zM931.76 311.81h8.5v8.5h-8.5zM939.76 319.81h8.5v8.5h-8.5zM1003.76 319.81h8.5v8.5h-8.5zM947.76 327.81h8.5v8.5h-8.5zM995.76 327.81h8.5v8.5h-8.5zM963.76 335.81h16.5v8.5h-16.5z"/>
<path fill="#313131" d="M891.76 79.81h8.5v8.5h-8.5zM851.76 103.81h8.5v8.5h-8.5zM1075.76 103.81h8.5v8.5h-8.5zM1091.76 111.81h8.5v8.5h-8.5zM1115.76 127.81h8.5v8.5h-8.5zM1147.76 151.81h8.5v8.5h-8.5zM771.76 159.81h8.5v8.5h-8.5zM1155.76 159.81h8.5v8.5h-8.5zM1155.76 167.81h8.5v8.5h-8.5zM851.76 207.81h8.5v8.5h-8.5zM1107.76 207.81h8.5v8.5h-8.5zM1075.76 223.81h8.5v8.5h-8.5zM883.76 247.81h8.5v8.5h-8.5zM1043.76 263.81h8.5v8.5h-8.5zM1019.76 295.81h8.5v8.5h-8.5z"/>
<path fill="#323232" d="M987.76 55.81h8.5v8.5h-8.5zM1003.76 63.81h8.5v8.5h-8.5zM819.76 127.81h8.5v8.5h-8.5zM803.76 135.81h8.5v8.5h-8.5zM1123.76 135.81h8.5v8.5h-8.5zM787.76 143.81h8.5v8.5h-8.5zM779.76 151.81h8.5v8.5h-8.5zM779.76 167.81h8.5v8.5h-8.5zM1147.76 175.81h8.5v8.5h-8.5zM795.76 183.81h8.5v8.5h-8.5zM1139.76 183.81h8.5v8.5h-8.5zM811.76 191.81h8.5v8.5h-8.5zM1131.76 191.81h8.5v8.5h-8.5zM835.76 199.81h8.5v8.5h-8.5zM1091.76 215.81h8.5v8.5h-8.5zM1059.76 231.81h8.5v8.5h-8.5zM891.76 263.81h8.5v8.5h-8.5zM1035.76 271.81h8.5v8.5h-8.5zM899.76 279.81h8.5v8.5h-8.5zM923.76 303.81h8.5v8.5h-8.5zM1011.76 303.81h8.5v8.5h-8.5z"/>
<path fill="#333333" d="M907.76 71.81h8.5v8.5h-8.5zM1059.76 95.81h8.5v8.5h-8.5zM843.76 111.81h8.5v8.5h-8.5zM1131.76 143.81h8.5v8.5h-8.5zM1139.76 151.81h8.5v8.5h-8.5zM779.76 159.81h8.5v8.5h-8.5zM1147.76 159.81h8.5v8.5h-8.5zM1147.76 167.81h8.5v8.5h-8.5zM787.76 175.81h8.5v8.5h-8.5zM819.76 191.81h8.5v8.5h-8.5zM1115.76 199.81h8.5v8.5h-8.5zM867.76 215.81h8.5v8.5h-8.5zM875.76 223.81h8.5v8.5h-8.5zM883.76 239.81h8.5v8.5h-8.5zM1051.76 239.81h8.5v8.5h-8.5zM1043.76 255.81h8.5v8.5h-8.5zM1027.76 279.81h8.5v8.5h-8.5zM907.76 287.81h8.5v8.5h-8.5zM915.76 295.81h8.5v8.5h-8.5zM1003.76 311.81h8.5v8.5h-8.5zM987.76 327.81h8.5v8.5h-8.5z"/>
<path fill="#343434" d="M835.76 119.81h8.5v8.5h-8.5zM795.76 143.81h8.5v8.5h-8.5zM1139.76 175.81h8.5v8.5h-8.5zM803.76 183.81h8.5v8.5h-8.5zM1131.76 183.81h8.5v8.5h-8.5zM1123.76 191.81h8.5v8.5h-8.5zM843.76 199.81h8.5v8.5h-8.5zM859.76 207.81h8.5v8.5h-8.5zM891.76 255.81h8.5v8.5h-8.5zM1019.76 287.81h8.5v8.5h-8.5zM939.76 311.81h8.5v8.5h-8.5zM947.76 319.81h8.5v8.5h-8.5zM995.76 319.81h8.5v8.5h-8.5zM955.76 327.81h8.5v8.5h-8.5z"/>
<path fill="#353535" d="M939.76 55.81h8.5v8.5h-8.5zM923.76 63.81h8.5v8.5h-8.5zM1027.76 79.81h8.5v8.5h-8.5zM1043.76 87.81h8.5v8.5h-8.5zM867.76 95.81h8.5v8.5h-8.5zM1099.76 119.81h8.5v8.5h-8.5zM811.76 135.81h8.5v8.5h-8.5zM787.76 151.81h8.5v8.5h-8.5zM1139.76 159.81h8.5v8.5h-8.5zM787.76 167.81h8.5v8.5h-8.5zM1139.76 167.81h8.5v8.5h-8.5zM795.76 175.81h8.5v8.5h-8.5zM827.76 191.81h8.5v8.5h-8.5zM1099.76 207.81h8.5v8.5h-8.5zM1067.76 223.81h8.5v8.5h-8.5zM883.76 231.81h8.5v8.5h-8.5zM1035.76 263.81h8.5v8.5h-8.5zM899.76 271.81h8.5v8.5h-8.5zM931.76 303.81h8.5v8.5h-8.5zM979.76 327.81h8.5v8.5h-8.5z"/>
<path fill="#363636" d="M883.76 87.81h8.5v8.5h-8.5zM827.76 127.81h8.5v8.5h-8.5zM1107.76 127.81h8.5v8.5h-8.5zM803.76 143.81h8.5v8.5h-8.5zM1123.76 143.81h8.5v8.5h-8.5zM1131.76 151.81h8.5v8.5h-8.5zM787.76 159.81h8.5v8.5h-8.5zM811.76 183.81h8.5v8.5h-8.5zM851.76 199.81h8.5v8.5h-8.5zM1083.76 215.81h8.5v8.5h-8.5zM891.76 247.81h8.5v8.5h-8.5zM1043.76 247.81h8.5v8.5h-8.5zM1011.76 295.81h8.5v8.5h-8.5zM963.76 327.81h16.5v8.5h-16.5z"/>
<path fill="#373737" d="M1011.76 71.81h8.5v8.5h-8.5zM859.76 103.81h8.5v8.5h-8.5zM1083.76 111.81h8.5v8.5h-8.5zM1115.76 135.81h8.5v8.5h-8.5zM795.76 151.81h8.5v8.5h-8.5zM795.76 167.81h8.5v8.5h-8.5zM803.76 175.81h8.5v8.5h-8.5zM1131.76 175.81h8.5v8.5h-8.5zM819.76 183.81h8.5v8.5h-8.5zM1123.76 183.81h8.5v8.5h-8.5zM835.76 191.81h8.5v8.5h-8.5zM1107.76 199.81h8.5v8.5h-8.5zM875.76 215.81h8.5v8.5h-8.5zM1027.76 271.81h8.5v8.5h-8.5zM907.76 279.81h8.5v8.5h-8.5zM923.76 295.81h8.5v8.5h-8.5zM1003.76 303.81h8.5v8.5h-8.5zM995.76 311.81h8.5v8.5h-8.5zM987.76 319.81h8.5v8.5h-8.5z"/>
<path fill="#383838" d="M979.76 55.81h8.5v8.5h-8.5zM899.76 79.81h8.5v8.5h-8.5zM1067.76 103.81h8.5v8.5h-8.5zM819.76 135.81h8.5v8.5h-8.5zM795.76 159.81h8.5v8.5h-8.5zM1131.76 159.81h8.5v8.5h-8.5zM1131.76 167.81h8.5v8.5h-8.5zM1115.76 191.81h8.5v8.5h-8.5zM867.76 207.81h8.5v8.5h-8.5zM883.76 223.81h8.5v8.5h-8.5zM1051.76 231.81h8.5v8.5h-8.5zM891.76 239.81h8.5v8.5h-8.5zM1035.76 255.81h8.5v8.5h-8.5zM899.76 263.81h8.5v8.5h-8.5zM1019.76 279.81h8.5v8.5h-8.5zM915.76 287.81h8.5v8.5h-8.5zM939.76 303.81h8.5v8.5h-8.5zM947.76 311.81h8.5v8.5h-8.5zM955.76 319.81h8.5v8.5h-8.5z"/>
<path fill="#393939" d="M851.76 111.81h8.5v8.5h-8.5zM843.76 119.81h8.5v8.5h-8.5zM811.76 143.81h8.5v8.5h-8.5zM803.76 151.81h8.5v8.5h-8.5zM803.76 167.81h8.5v8.5h-8.5zM811.76 175.81h8.5v8.5h-8.5zM827.76 183.81h8.5v8.5h-8.5zM843.76 191.81h8.5v8.5h-8.5zM1011.76 287.81h8.5v8.5h-8.5zM979.76 319.81h8.5v8.5h-8.5z"/>
<path fill="#3a3a3a" d="M947.76 55.81h8.5v8.5h-8.5zM995.76 63.81h8.5v8.5h-8.5zM835.76 127.81h8.5v8.5h-8.5zM1123.76 151.81h8.5v8.5h-8.5zM803.76 159.81h8.5v8.5h-8.5zM1123.76 175.81h8.5v8.5h-8.5zM859.76 199.81h8.5v8.5h-8.5zM1091.76 207.81h8.5v8.5h-8.5zM1075.76 215.81h8.5v8.5h-8.5zM1043.76 239.81h8.5v8.5h-8.5zM899.76 255.81h8.5v8.5h-8.5zM1027.76 263.81h8.5v8.5h-8.5zM907.76 271.81h8.5v8.5h-8.5zM931.76 295.81h8.5v8.5h-8.5zM1003.76 295.81h8.5v8.5h-8.5z"/>
<path fill="#3b3b3b" d="M915.76 71.81h8.5v8.5h-8.5zM875.76 95.81h8.5v8.5h-8.5zM1051.76 95.81h8.5v8.5h-8.5zM1091.76 119.81h8.5v8.5h-8.5zM827.76 135.81h8.5v8.5h-8.5zM1115.76 143.81h8.5v8.5h-8.5zM1123.76 159.81h8.5v8.5h-8.5zM1123.76 167.81h8.5v8.5h-8.5zM819.76 175.81h8.5v8.5h-8.5zM835.76 183.81h8.5v8.5h-8.5zM1059.76 223.81h8.5v8.5h-8.5zM891.76 231.81h8.5v8.5h-8.5zM1019.76 271.81h8.5v8.5h-8.5zM923.76 287.81h8.5v8.5h-8.5zM947.76 303.81h8.5v8.5h-8.5zM995.76 303.81h8.5v8.5h-8.5zM987.76 311.81h8.5v8.5h-8.5zM963.76 319.81h16.5v8.5h-16.5z"/>
<path fill="#3c3c3c" d="M971.76 55.81h8.5v8.5h-8.5zM1107.76 135.81h8.5v8.5h-8.5zM819.76 143.81h8.5v8.5h-8.5zM811.76 151.81h8.5v8.5h-8.5zM811.76 167.81h8.5v8.5h-8.5zM1115.76 183.81h8.5v8.5h-8.5zM851.76 191.81h8.5v8.5h-8.5zM1107.76 191.81h8.5v8.5h-8.5zM1099.76 199.81h8.5v8.5h-8.5zM899.76 247.81h8.5v8.5h-8.5zM1035.76 247.81h8.5v8.5h-8.5zM915.76 279.81h8.5v8.5h-8.5zM955.76 311.81h8.5v8.5h-8.5z"/>
<path fill="#3d3d3d" d="M931.76 63.81h8.5v8.5h-8.5zM1019.76 79.81h8.5v8.5h-8.5zM891.76 87.81h8.5v8.5h-8.5zM1035.76 87.81h8.5v8.5h-8.5zM1075.76 111.81h8.5v8.5h-8.5zM1099.76 127.81h8.5v8.5h-8.5zM811.76 159.81h8.5v8.5h-8.5zM827.76 175.81h8.5v8.5h-8.5zM875.76 207.81h8.5v8.5h-8.5zM883.76 215.81h8.5v8.5h-8.5zM907.76 263.81h8.5v8.5h-8.5zM1011.76 279.81h8.5v8.5h-8.5zM939.76 295.81h8.5v8.5h-8.5zM979.76 311.81h8.5v8.5h-8.5z"/>
<path fill="#3e3e3e" d="M955.76 55.81h16.5v8.5h-16.5zM867.76 103.81h8.5v8.5h-8.5zM1115.76 151.81h8.5v8.5h-8.5zM819.76 167.81h8.5v8.5h-8.5zM1115.76 175.81h8.5v8.5h-8.5zM843.76 183.81h8.5v8.5h-8.5zM867.76 199.81h8.5v8.5h-8.5zM891.76 223.81h8.5v8.5h-8.5zM899.76 239.81h8.5v8.5h-8.5zM1027.76 255.81h8.5v8.5h-8.5zM1003.76 287.81h8.5v8.5h-8.5zM947.76 295.81h8.5v8.5h-8.5zM995.76 295.81h8.5v8.5h-8.5zM955.76 303.81h8.5v8.5h-8.5zM987.76 303.81h8.5v8.5h-8.5zM963.76 311.81h16.5v8.5h-16.5z"/>
<path fill="#3f3f3f" d="M859.76 111.81h8.5v8.5h-8.5zM851.76 119.81h8.5v8.5h-8.5zM843.76 127.81h8.5v8.5h-8.5zM835.76 135.81h8.5v8.5h-8.5zM827.76 143.81h8.5v8.5h-8.5zM819.76 151.81h8.5v8.5h-8.5zM819.76 159.81h8.5v8.5h-8.5zM835.76 175.81h8.5v8.5h-8.5zM859.76 191.81h8.5v8.5h-8.5zM1083.76 207.81h8.5v8.5h-8.5zM907.76 255.81h8.5v8.5h-8.5zM1019.76 263.81h8.5v8.5h-8.5zM915.76 271.81h8.5v8.5h-8.5zM931.76 287.81h8.5v8.5h-8.5zM955.76 295.81h8.5v8.5h-8.5z"/>
<path fill="#404040" d="M1003.76 71.81h8.5v8.5h-8.5zM1115.76 159.81h8.5v8.5h-8.5zM827.76 167.81h8.5v8.5h-8.5zM1115.76 167.81h8.5v8.5h-8.5zM1067.76 215.81h8.5v8.5h-8.5zM1043.76 231.81h8.5v8.5h-8.5zM1011.76 271.81h8.5v8.5h-8.5zM923.76 279.81h8.5v8.5h-8.5zM963.76 295.81h8.5v8.5h-8.5zM963.76 303.81h24.5v8.5h-24.5z"/>
<path fill="#414141" d="M907.76 79.81h8.5v8.5h-8.5zM1059.76 103.81h8.5v8.5h-8.5zM1107.76 143.81h8.5v8.5h-8.5zM827.76 151.81h8.5v8.5h-8.5zM851.76 183.81h8.5v8.5h-8.5zM1107.76 183.81h8.5v8.5h-8.5zM1051.76 223.81h8.5v8.5h-8.5zM899.76 231.81h8.5v8.5h-8.5zM1035.76 239.81h8.5v8.5h-8.5zM1003.76 279.81h8.5v8.5h-8.5zM939.76 287.81h8.5v8.5h-8.5zM995.76 287.81h8.5v8.5h-8.5zM987.76 295.81h8.5v8.5h-8.5z"/>
<path fill="#424242" d="M987.76 63.81h8.5v8.5h-8.5zM883.76 95.81h8.5v8.5h-8.5zM835.76 143.81h8.5v8.5h-8.5zM827.76 159.81h8.5v8.5h-8.5zM835.76 167.81h8.5v8.5h-8.5zM843.76 175.81h8.5v8.5h-8.5zM1099.76 191.81h8.5v8.5h-8.5zM1091.76 199.81h8.5v8.5h-8.5zM883.76 207.81h8.5v8.5h-8.5zM907.76 247.81h8.5v8.5h-8.5zM1027.76 247.81h8.5v8.5h-8.5zM915.76 263.81h8.5v8.5h-8.5zM971.76 295.81h16.5v8.5h-16.5z"/>
<path fill="#434343" d="M1083.76 119.81h8.5v8.5h-8.5zM867.76 191.81h8.5v8.5h-8.5zM875.76 199.81h8.5v8.5h-8.5zM891.76 215.81h8.5v8.5h-8.5zM1019.76 255.81h8.5v8.5h-8.5zM1011.76 263.81h8.5v8.5h-8.5zM947.76 287.81h8.5v8.5h-8.5z"/>
<path fill="#444444" d="M923.76 71.81h8.5v8.5h-8.5zM1043.76 95.81h8.5v8.5h-8.5zM843.76 135.81h8.5v8.5h-8.5zM1099.76 135.81h8.5v8.5h-8.5zM835.76 151.81h8.5v8.5h-8.5zM1107.76 151.81h8.5v8.5h-8.5zM835.76 159.81h8.5v8.5h-8.5zM1107.76 175.81h8.5v8.5h-8.5zM923.76 271.81h8.5v8.5h-8.5zM1003.76 271.81h8.5v8.5h-8.5zM931.76 279.81h8.5v8.5h-8.5zM955.76 287.81h8.5v8.5h-8.5zM987.76 287.81h8.5v8.5h-8.5z"/>
<path fill="#454545" d="M939.76 63.81h8.5v8.5h-8.5zM899.76 87.81h8.5v8.5h-8.5zM1027.76 87.81h8.5v8.5h-8.5zM851.76 127.81h8.5v8.5h-8.5zM1091.76 127.81h8.5v8.5h-8.5zM1107.76 159.81h8.5v8.5h-8.5zM843.76 167.81h8.5v8.5h-8.5zM1107.76 167.81h8.5v8.5h-8.5zM851.76 175.81h8.5v8.5h-8.5zM859.76 183.81h8.5v8.5h-8.5zM1075.76 207.81h8.5v8.5h-8.5zM899.76 223.81h8.5v8.5h-8.5zM907.76 239.81h8.5v8.5h-8.5zM915.76 255.81h8.5v8.5h-8.5zM995.76 279.81h8.5v8.5h-8.5zM963.76 287.81h8.5v8.5h-8.5z"/>
<path fill="#464646" d="M875.76 103.81h8.5v8.5h-8.5zM1067.76 111.81h8.5v8.5h-8.5zM859.76 119.81h8.5v8.5h-8.5zM971.76 287.81h16.5v8.5h-16.5z"/>
<path fill="#474747" d="M1011.76 79.81h8.5v8.5h-8.5zM867.76 111.81h8.5v8.5h-8.5zM843.76 143.81h8.5v8.5h-8.5zM843.76 159.81h8.5v8.5h-8.5zM1059.76 215.81h8.5v8.5h-8.5zM1027.76 239.81h8.5v8.5h-8.5zM1019.76 247.81h8.5v8.5h-8.5zM1011.76 255.81h8.5v8.5h-8.5zM923.76 263.81h8.5v8.5h-8.5zM1003.76 263.81h8.5v8.5h-8.5zM939.76 279.81h8.5v8.5h-8.5z"/>
<path fill="#484848" d="M843.76 151.81h8.5v8.5h-8.5zM1099.76 183.81h8.5v8.5h-8.5zM907.76 231.81h8.5v8.5h-8.5zM1035.76 231.81h8.5v8.5h-8.5zM915.76 247.81h8.5v8.5h-8.5zM931.76 271.81h8.5v8.5h-8.5zM995.76 271.81h8.5v8.5h-8.5zM987.76 279.81h8.5v8.5h-8.5z"/>
<path fill="#494949" d="M979.76 63.81h8.5v8.5h-8.5zM851.76 135.81h8.5v8.5h-8.5zM1099.76 143.81h8.5v8.5h-8.5zM851.76 167.81h8.5v8.5h-8.5zM867.76 183.81h8.5v8.5h-8.5zM875.76 191.81h8.5v8.5h-8.5zM883.76 199.81h8.5v8.5h-8.5zM1083.76 199.81h8.5v8.5h-8.5zM891.76 207.81h8.5v8.5h-8.5zM1043.76 223.81h8.5v8.5h-8.5zM923.76 255.81h8.5v8.5h-8.5zM947.76 279.81h8.5v8.5h-8.5z"/>
<path fill="#4a4a4a" d="M995.76 71.81h8.5v8.5h-8.5zM915.76 79.81h8.5v8.5h-8.5zM891.76 95.81h8.5v8.5h-8.5zM1051.76 103.81h8.5v8.5h-8.5zM859.76 175.81h8.5v8.5h-8.5zM1091.76 191.81h8.5v8.5h-8.5zM899.76 215.81h8.5v8.5h-8.5z"/>
<path fill="#4b4b4b" d="M1075.76 119.81h8.5v8.5h-8.5zM859.76 127.81h8.5v8.5h-8.5zM1099.76 151.81h8.5v8.5h-8.5zM851.76 159.81h8.5v8.5h-8.5zM915.76 239.81h8.5v8.5h-8.5zM1011.76 247.81h8.5v8.5h-8.5zM1003.76 255.81h8.5v8.5h-8.5zM931.76 263.81h8.5v8.5h-8.5zM995.76 263.81h8.5v8.5h-8.5zM939.76 271.81h8.5v8.5h-8.5zM987.76 271.81h8.5v8.5h-8.5zM955.76 279.81h8.5v8.5h-8.5zM979.76 279.81h8.5v8.5h-8.5z"/>
<path fill="#4c4c4c" d="M947.76 63.81h8.5v8.5h-8.5zM851.76 143.81h8.5v8.5h-8.5zM851.76 151.81h8.5v8.5h-8.5zM1099.76 175.81h8.5v8.5h-8.5zM907.76 223.81h8.5v8.5h-8.5zM1019.76 239.81h8.5v8.5h-8.5z"/>
<path fill="#4d4d4d" d="M883.76 103.81h8.5v8.5h-8.5zM867.76 119.81h8.5v8.5h-8.5zM1099.76 159.81h8.5v8.5h-8.5zM1099.76 167.81h8.5v8.5h-8.5zM1067.76 207.81h8.5v8.5h-8.5zM923.76 247.81h8.5v8.5h-8.5zM931.76 255.81h8.5v8.5h-8.5zM939.76 263.81h8.5v8.5h-8.5zM963.76 279.81h16.5v8.5h-16.5z"/>
<path fill="#4e4e4e" d="M971.76 63.81h8.5v8.5h-8.5zM931.76 71.81h8.5v8.5h-8.5zM1019.76 87.81h8.5v8.5h-8.5zM1035.76 95.81h8.5v8.5h-8.5zM875.76 111.81h8.5v8.5h-8.5zM1083.76 127.81h8.5v8.5h-8.5zM1091.76 135.81h8.5v8.5h-8.5zM859.76 167.81h8.5v8.5h-8.5zM1051.76 215.81h8.5v8.5h-8.5zM995.76 255.81h8.5v8.5h-8.5zM987.76 263.81h8.5v8.5h-8.5zM947.76 271.81h8.5v8.5h-8.5z"/>
<path fill="#4f4f4f" d="M907.76 87.81h8.5v8.5h-8.5zM859.76 135.81h8.5v8.5h-8.5zM867.76 175.81h8.5v8.5h-8.5zM875.76 183.81h8.5v8.5h-8.5zM883.76 191.81h8.5v8.5h-8.5zM1027.76 231.81h8.5v8.5h-8.5zM1003.76 247.81h8.5v8.5h-8.5zM939.76 255.81h8.5v8.5h-8.5zM955.76 255.81h8.5v8.5h-8.5zM947.76 263.81h8.5v8.5h-8.5zM979.76 271.81h8.5v8.5h-8.5z"/>
<path fill="#505050" d="M955.76 63.81h8.5v8.5h-8.5zM1059.76 111.81h8.5v8.5h-8.5zM1091.76 183.81h8.5v8.5h-8.5zM891.76 199.81h8.5v8.5h-8.5zM899.76 207.81h8.5v8.5h-8.5zM915.76 231.81h8.5v8.5h-8.5zM947.76 255.81h8.5v8.5h-8.5zM963.76 255.81h8.5v8.5h-8.5zM987.76 255.81h8.5v8.5h-8.5zM979.76 263.81h8.5v8.5h-8.5z"/>
<path fill="#515151" d="M963.76 63.81h8.5v8.5h-8.5zM1003.76 79.81h8.5v8.5h-8.5zM859.76 143.81h8.5v8.5h-8.5zM859.76 159.81h8.5v8.5h-8.5zM1075.76 199.81h8.5v8.5h-8.5zM1035.76 223.81h8.5v8.5h-8.5zM923.76 239.81h8.5v8.5h-8.5zM1011.76 239.81h8.5v8.5h-8.5zM931.76 247.81h8.5v8.5h-8.5zM971.76 255.81h16.5v8.5h-16.5zM955.76 263.81h8.5v8.5h-8.5zM955.76 271.81h8.5v8.5h-8.5z"/>
<path fill="#525252" d="M899.76 95.81h8.5v8.5h-8.5zM859.76 151.81h8.5v8.5h-8.5zM1083.76 191.81h8.5v8.5h-8.5zM907.76 215.81h8.5v8.5h-8.5zM955.76 247.81h16.5v8.5h-16.5zM995.76 247.81h8.5v8.5h-8.5zM971.76 263.81h8.5v8.5h-8.5zM971.76 271.81h8.5v8.5h-8.5z"/>
<path fill="#535353" d="M867.76 127.81h8.5v8.5h-8.5zM867.76 167.81h8.5v8.5h-8.5zM939.76 247.81h16.5v8.5h-16.5zM963.76 263.81h8.5v8.5h-8.5z"/>
<path fill="#545454" d="M987.76 71.81h8.5v8.5h-8.5zM1091.76 143.81h8.5v8.5h-8.5zM1019.76 231.81h8.5v8.5h-8.5zM1003.76 239.81h8.5v8.5h-8.5zM971.76 247.81h24.5v8.5h-24.5zM963.76 271.81h8.5v8.5h-8.5z"/>
<path fill="#555555" d="M923.76 79.81h8.5v8.5h-8.5zM891.76 103.81h8.5v8.5h-8.5zM1043.76 103.81h8.5v8.5h-8.5zM875.76 119.81h8.5v8.5h-8.5zM1067.76 119.81h8.5v8.5h-8.5zM875.76 175.81h8.5v8.5h-8.5zM1091.76 175.81h8.5v8.5h-8.5zM1059.76 207.81h8.5v8.5h-8.5zM1043.76 215.81h8.5v8.5h-8.5zM915.76 223.81h8.5v8.5h-8.5z"/>
<path fill="#565656" d="M883.76 111.81h8.5v8.5h-8.5zM867.76 135.81h8.5v8.5h-8.5zM883.76 183.81h8.5v8.5h-8.5zM931.76 239.81h8.5v8.5h-8.5z"/>
<path fill="#575757" d="M1027.76 95.81h8.5v8.5h-8.5zM1091.76 151.81h8.5v8.5h-8.5zM867.76 159.81h8.5v8.5h-8.5zM891.76 191.81h8.5v8.5h-8.5zM923.76 231.81h8.5v8.5h-8.5zM1011.76 231.81h8.5v8.5h-8.5zM995.76 239.81h8.5v8.5h-8.5z"/>
<path fill="#585858" d="M939.76 71.81h8.5v8.5h-8.5zM1011.76 87.81h8.5v8.5h-8.5zM1075.76 127.81h8.5v8.5h-8.5zM867.76 143.81h8.5v8.5h-8.5zM867.76 151.81h8.5v8.5h-8.5zM1091.76 159.81h8.5v8.5h-8.5zM1091.76 167.81h8.5v8.5h-8.5zM899.76 199.81h8.5v8.5h-8.5zM1027.76 223.81h8.5v8.5h-8.5zM939.76 239.81h8.5v8.5h-8.5z"/>
<path fill="#595959" d="M915.76 87.81h8.5v8.5h-8.5zM1083.76 135.81h8.5v8.5h-8.5zM907.76 207.81h8.5v8.5h-8.5zM987.76 239.81h8.5v8.5h-8.5z"/>
<path fill="#5a5a5a" d="M875.76 127.81h8.5v8.5h-8.5zM875.76 167.81h8.5v8.5h-8.5zM1083.76 183.81h8.5v8.5h-8.5zM1067.76 199.81h8.5v8.5h-8.5zM947.76 239.81h8.5v8.5h-8.5z"/>
<path fill="#5b5b5b" d="M1051.76 111.81h8.5v8.5h-8.5zM915.76 215.81h8.5v8.5h-8.5zM1003.76 231.81h8.5v8.5h-8.5zM955.76 239.81h32.5v8.5h-32.5z"/>
<path fill="#5c5c5c" d="M979.76 71.81h8.5v8.5h-8.5zM995.76 79.81h8.5v8.5h-8.5zM907.76 95.81h8.5v8.5h-8.5zM883.76 175.81h8.5v8.5h-8.5zM1075.76 191.81h8.5v8.5h-8.5zM1035.76 215.81h8.5v8.5h-8.5zM1019.76 223.81h8.5v8.5h-8.5zM931.76 231.81h8.5v8.5h-8.5z"/>
<path fill="#5d5d5d" d="M883.76 119.81h8.5v8.5h-8.5zM1051.76 207.81h8.5v8.5h-8.5zM923.76 223.81h8.5v8.5h-8.5z"/>
<path fill="#5e5e5e" d="M899.76 103.81h8.5v8.5h-8.5zM891.76 111.81h8.5v8.5h-8.5zM875.76 135.81h8.5v8.5h-8.5zM875.76 159.81h8.5v8.5h-8.5zM891.76 183.81h8.5v8.5h-8.5zM995.76 231.81h8.5v8.5h-8.5z"/>
<path fill="#5f5f5f" d="M947.76 71.81h8.5v8.5h-8.5zM1059.76 119.81h8.5v8.5h-8.5zM899.76 191.81h8.5v8.5h-8.5z"/>
<path fill="#606060" d="M1019.76 95.81h8.5v8.5h-8.5zM1035.76 103.81h8.5v8.5h-8.5zM875.76 143.81h8.5v8.5h-8.5zM875.76 151.81h8.5v8.5h-8.5zM1011.76 223.81h8.5v8.5h-8.5zM939.76 231.81h8.5v8.5h-8.5zM987.76 231.81h8.5v8.5h-8.5z"/>
<path fill="#616161" d="M931.76 79.81h8.5v8.5h-8.5zM883.76 167.81h8.5v8.5h-8.5zM1083.76 175.81h8.5v8.5h-8.5zM907.76 199.81h8.5v8.5h-8.5z"/>
<path fill="#626262" d="M971.76 71.81h8.5v8.5h-8.5zM1083.76 143.81h8.5v8.5h-8.5zM915.76 207.81h8.5v8.5h-8.5zM1027.76 215.81h8.5v8.5h-8.5z"/>
<path fill="#636363" d="M955.76 71.81h8.5v8.5h-8.5zM1003.76 87.81h8.5v8.5h-8.5zM883.76 127.81h8.5v8.5h-8.5zM1067.76 127.81h8.5v8.5h-8.5zM1059.76 199.81h8.5v8.5h-8.5zM923.76 215.81h8.5v8.5h-8.5zM931.76 223.81h8.5v8.5h-8.5zM1003.76 223.81h8.5v8.5h-8.5zM947.76 231.81h8.5v8.5h-8.5zM979.76 231.81h8.5v8.5h-8.5z"/>
<path fill="#646464" d="M963.76 71.81h8.5v8.5h-8.5zM1043.76 207.81h8.5v8.5h-8.5z"/>
<path fill="#656565" d="M891.76 119.81h8.5v8.5h-8.5zM1075.76 135.81h8.5v8.5h-8.5zM1083.76 167.81h8.5v8.5h-8.5zM891.76 175.81h8.5v8.5h-8.5zM1075.76 183.81h8.5v8.5h-8.5z"/>
<path fill="#666666" d="M923.76 87.81h8.5v8.5h-8.5zM883.76 159.81h8.5v8.5h-8.5zM1067.76 191.81h8.5v8.5h-8.5zM1019.76 215.81h8.5v8.5h-8.5zM995.76 223.81h8.5v8.5h-8.5zM955.76 231.81h8.5v8.5h-8.5zM971.76 231.81h8.5v8.5h-8.5z"/>
<path fill="#676767" d="M987.76 79.81h8.5v8.5h-8.5zM915.76 95.81h8.5v8.5h-8.5zM899.76 111.81h8.5v8.5h-8.5zM883.76 135.81h8.5v8.5h-8.5zM1083.76 151.81h8.5v8.5h-8.5z"/>
<path fill="#686868" d="M907.76 103.81h8.5v8.5h-8.5zM1043.76 111.81h8.5v8.5h-8.5zM1083.76 159.81h8.5v8.5h-8.5zM899.76 183.81h8.5v8.5h-8.5zM939.76 223.81h8.5v8.5h-8.5zM963.76 231.81h8.5v8.5h-8.5z"/>
<path fill="#696969" d="M1027.76 103.81h8.5v8.5h-8.5zM883.76 143.81h8.5v8.5h-8.5zM883.76 151.81h8.5v8.5h-8.5zM987.76 223.81h8.5v8.5h-8.5z"/>
<path fill="#6a6a6a" d="M1011.76 95.81h8.5v8.5h-8.5zM907.76 191.81h8.5v8.5h-8.5zM1035.76 207.81h8.5v8.5h-8.5zM1011.76 215.81h8.5v8.5h-8.5z"/>
<path fill="#6b6b6b" d="M939.76 79.81h8.5v8.5h-8.5zM891.76 127.81h8.5v8.5h-8.5zM891.76 167.81h8.5v8.5h-8.5zM915.76 199.81h8.5v8.5h-8.5zM923.76 207.81h8.5v8.5h-8.5zM931.76 215.81h8.5v8.5h-8.5z"/>
<path fill="#6c6c6c" d="M1051.76 119.81h8.5v8.5h-8.5zM947.76 223.81h8.5v8.5h-8.5zM979.76 223.81h8.5v8.5h-8.5z"/>
<path fill="#6d6d6d" d="M1059.76 127.81h8.5v8.5h-8.5zM1075.76 175.81h8.5v8.5h-8.5zM1051.76 199.81h8.5v8.5h-8.5z"/>
<path fill="#6e6e6e" d="M899.76 119.81h8.5v8.5h-8.5zM1027.76 207.81h8.5v8.5h-8.5zM1003.76 215.81h8.5v8.5h-8.5z"/>
<path fill="#6f6f6f" d="M995.76 87.81h8.5v8.5h-8.5zM1067.76 135.81h8.5v8.5h-8.5zM1075.76 143.81h8.5v8.5h-8.5zM891.76 159.81h8.5v8.5h-8.5zM899.76 175.81h8.5v8.5h-8.5z"/>
<path fill="#707070" d="M1067.76 183.81h8.5v8.5h-8.5zM1059.76 191.81h8.5v8.5h-8.5zM955.76 223.81h8.5v8.5h-8.5zM971.76 223.81h8.5v8.5h-8.5z"/>
<path fill="#717171" d="M979.76 79.81h8.5v8.5h-8.5zM907.76 111.81h8.5v8.5h-8.5zM891.76 135.81h8.5v8.5h-8.5zM995.76 215.81h8.5v8.5h-8.5z"/>
<path fill="#727272" d="M1019.76 103.81h8.5v8.5h-8.5zM1075.76 167.81h8.5v8.5h-8.5zM1019.76 207.81h8.5v8.5h-8.5zM939.76 215.81h8.5v8.5h-8.5z"/>
<path fill="#737373" d="M931.76 87.81h8.5v8.5h-8.5zM915.76 103.81h8.5v8.5h-8.5zM1035.76 111.81h8.5v8.5h-8.5zM891.76 151.81h8.5v8.5h-8.5zM907.76 183.81h8.5v8.5h-8.5zM963.76 223.81h8.5v8.5h-8.5z"/>
<path fill="#747474" d="M947.76 79.81h8.5v8.5h-8.5zM891.76 143.81h8.5v8.5h-8.5zM1043.76 199.81h8.5v8.5h-8.5zM931.76 207.81h8.5v8.5h-8.5zM987.76 215.81h8.5v8.5h-8.5z"/>
<path fill="#757575" d="M923.76 95.81h8.5v8.5h-8.5zM1003.76 95.81h8.5v8.5h-8.5zM899.76 127.81h8.5v8.5h-8.5zM915.76 191.81h8.5v8.5h-8.5z"/>
<path fill="#767676" d="M899.76 167.81h8.5v8.5h-8.5zM923.76 199.81h8.5v8.5h-8.5z"/>
<path fill="#777777" d="M971.76 79.81h8.5v8.5h-8.5zM1075.76 151.81h8.5v8.5h-8.5zM1075.76 159.81h8.5v8.5h-8.5zM1067.76 175.81h8.5v8.5h-8.5zM1011.76 207.81h8.5v8.5h-8.5zM947.76 215.81h8.5v8.5h-8.5z"/>
<path fill="#787878" d="M955.76 79.81h8.5v8.5h-8.5zM1059.76 135.81h8.5v8.5h-8.5zM979.76 215.81h8.5v8.5h-8.5z"/>
<path fill="#797979" d="M963.76 79.81h8.5v8.5h-8.5zM907.76 119.81h8.5v8.5h-8.5zM1043.76 119.81h8.5v8.5h-8.5zM1051.76 127.81h8.5v8.5h-8.5zM1035.76 199.81h8.5v8.5h-8.5z"/>
<path fill="#7a7a7a" d="M1067.76 143.81h8.5v8.5h-8.5zM899.76 159.81h8.5v8.5h-8.5zM1059.76 183.81h8.5v8.5h-8.5zM1051.76 191.81h8.5v8.5h-8.5z"/>
<path fill="#7b7b7b" d="M899.76 135.81h8.5v8.5h-8.5zM955.76 215.81h8.5v8.5h-8.5z"/>
<path fill="#7c7c7c" d="M987.76 87.81h8.5v8.5h-8.5zM1011.76 103.81h8.5v8.5h-8.5zM1067.76 167.81h8.5v8.5h-8.5zM907.76 175.81h8.5v8.5h-8.5zM1027.76 199.81h8.5v8.5h-8.5zM1003.76 207.81h8.5v8.5h-8.5zM963.76 215.81h16.5v8.5h-16.5z"/>
<path fill="#7d7d7d" d="M1027.76 111.81h8.5v8.5h-8.5z"/>
<path fill="#7e7e7e" d="M915.76 111.81h8.5v8.5h-8.5zM899.76 151.81h8.5v8.5h-8.5zM939.76 207.81h8.5v8.5h-8.5z"/>
<path fill="#7f7f7f" d="M899.76 143.81h8.5v8.5h-8.5zM1067.76 159.81h8.5v8.5h-8.5zM1019.76 199.81h8.5v8.5h-8.5z"/>
<path fill="#808080" d="M939.76 87.81h8.5v8.5h-8.5zM907.76 127.81h8.5v8.5h-8.5zM1067.76 151.81h8.5v8.5h-8.5zM995.76 207.81h8.5v8.5h-8.5z"/>
<path fill="#818181" d="M1059.76 143.81h8.5v8.5h-8.5zM1059.76 175.81h8.5v8.5h-8.5zM915.76 183.81h8.5v8.5h-8.5zM931.76 199.81h8.5v8.5h-8.5z"/>
<path fill="#828282" d="M995.76 95.81h8.5v8.5h-8.5zM923.76 103.81h8.5v8.5h-8.5zM1043.76 191.81h8.5v8.5h-8.5z"/>
<path fill="#838383" d="M1051.76 135.81h8.5v8.5h-8.5zM923.76 191.81h8.5v8.5h-8.5z"/>
<path fill="#848484" d="M907.76 167.81h8.5v8.5h-8.5zM1051.76 183.81h8.5v8.5h-8.5zM987.76 207.81h8.5v8.5h-8.5z"/>
<path fill="#858585" d="M931.76 95.81h8.5v8.5h-8.5zM1019.76 111.81h8.5v8.5h-8.5zM1035.76 119.81h8.5v8.5h-8.5zM1059.76 167.81h8.5v8.5h-8.5z"/>
<path fill="#868686" d="M1043.76 127.81h8.5v8.5h-8.5zM1011.76 199.81h8.5v8.5h-8.5z"/>
<path fill="#878787" d="M979.76 87.81h8.5v8.5h-8.5zM915.76 119.81h8.5v8.5h-8.5zM907.76 135.81h8.5v8.5h-8.5zM1059.76 151.81h8.5v8.5h-8.5zM1059.76 159.81h8.5v8.5h-8.5zM1035.76 191.81h8.5v8.5h-8.5zM947.76 207.81h8.5v8.5h-8.5z"/>
<path fill="#888888" d="M1003.76 103.81h8.5v8.5h-8.5z"/>
<path fill="#898989" d="M907.76 159.81h8.5v8.5h-8.5z"/>
<path fill="#8a8a8a" d="M947.76 87.81h8.5v8.5h-8.5zM1051.76 143.81h8.5v8.5h-8.5zM1051.76 175.81h8.5v8.5h-8.5zM979.76 207.81h8.5v8.5h-8.5z"/>
<path fill="#8b8b8b" d="M907.76 143.81h8.5v8.5h-8.5zM907.76 151.81h8.5v8.5h-8.5zM1027.76 191.81h8.5v8.5h-8.5z"/>
<path fill="#8c8c8c" d="M915.76 175.81h8.5v8.5h-8.5zM1043.76 183.81h8.5v8.5h-8.5z"/>
<path fill="#8d8d8d" d="M1003.76 199.81h8.5v8.5h-8.5zM955.76 207.81h8.5v8.5h-8.5z"/>
<path fill="#8e8e8e" d="M923.76 111.81h8.5v8.5h-8.5zM1027.76 119.81h8.5v8.5h-8.5zM1043.76 135.81h8.5v8.5h-8.5zM1051.76 167.81h8.5v8.5h-8.5zM939.76 199.81h8.5v8.5h-8.5z"/>
<path fill="#8f8f8f" d="M971.76 87.81h8.5v8.5h-8.5zM1011.76 111.81h8.5v8.5h-8.5zM915.76 127.81h8.5v8.5h-8.5zM1051.76 151.81h8.5v8.5h-8.5zM971.76 207.81h8.5v8.5h-8.5z"/>
<path fill="#909090" d="M987.76 95.81h8.5v8.5h-8.5zM1051.76 159.81h8.5v8.5h-8.5zM1019.76 191.81h8.5v8.5h-8.5zM963.76 207.81h8.5v8.5h-8.5z"/>
<path fill="#919191" d="M955.76 87.81h8.5v8.5h-8.5zM1035.76 127.81h8.5v8.5h-8.5zM923.76 183.81h8.5v8.5h-8.5z"/>
<path fill="#929292" d="M963.76 87.81h8.5v8.5h-8.5zM1043.76 175.81h8.5v8.5h-8.5zM1035.76 183.81h8.5v8.5h-8.5zM931.76 191.81h8.5v8.5h-8.5z"/>
<path fill="#949494" d="M939.76 95.81h8.5v8.5h-8.5zM931.76 103.81h8.5v8.5h-8.5zM1043.76 143.81h8.5v8.5h-8.5zM995.76 199.81h8.5v8.5h-8.5z"/>
<path fill="#959595" d="M995.76 103.81h8.5v8.5h-8.5zM915.76 135.81h8.5v8.5h-8.5zM915.76 167.81h8.5v8.5h-8.5z"/>
<path fill="#969696" d="M1019.76 119.81h8.5v8.5h-8.5zM1043.76 167.81h8.5v8.5h-8.5z"/>
<path fill="#979797" d="M1043.76 151.81h8.5v8.5h-8.5zM1027.76 183.81h8.5v8.5h-8.5zM1011.76 191.81h8.5v8.5h-8.5z"/>
<path fill="#989898" d="M1043.76 159.81h8.5v8.5h-8.5z"/>
<path fill="#999999" d="M923.76 119.81h8.5v8.5h-8.5zM1035.76 135.81h8.5v8.5h-8.5zM1035.76 175.81h8.5v8.5h-8.5z"/>
<path fill="#9a9a9a" d="M1003.76 111.81h8.5v8.5h-8.5zM915.76 143.81h8.5v8.5h-8.5zM987.76 199.81h8.5v8.5h-8.5z"/>
<path fill="#9b9b9b" d="M1027.76 127.81h8.5v8.5h-8.5zM915.76 159.81h8.5v8.5h-8.5z"/>
<path fill="#9c9c9c" d="M915.76 151.81h8.5v8.5h-8.5zM947.76 199.81h8.5v8.5h-8.5z"/>
<path fill="#9e9e9e" d="M979.76 95.81h8.5v8.5h-8.5zM1035.76 143.81h8.5v8.5h-8.5zM1035.76 167.81h8.5v8.5h-8.5zM923.76 175.81h8.5v8.5h-8.5zM1019.76 183.81h8.5v8.5h-8.5z"/>
<path fill="#a0a0a0" d="M1011.76 119.81h8.5v8.5h-8.5zM1035.76 151.81h8.5v8.5h-8.5zM1035.76 159.81h8.5v8.5h-8.5z"/>
<path fill="#a1a1a1" d="M947.76 95.81h8.5v8.5h-8.5zM923.76 127.81h8.5v8.5h-8.5zM1027.76 175.81h8.5v8.5h-8.5zM939.76 191.81h8.5v8.5h-8.5zM1003.76 191.81h8.5v8.5h-8.5zM979.76 199.81h8.5v8.5h-8.5z"/>
<path fill="#a2a2a2" d="M931.76 111.81h8.5v8.5h-8.5zM931.76 183.81h8.5v8.5h-8.5z"/>
<path fill="#a4a4a4" d="M987.76 103.81h8.5v8.5h-8.5zM1027.76 135.81h8.5v8.5h-8.5z"/>
<path fill="#a5a5a5" d="M1019.76 127.81h8.5v8.5h-8.5z"/>
<path fill="#a6a6a6" d="M939.76 103.81h8.5v8.5h-8.5z"/>
<path fill="#a7a7a7" d="M995.76 111.81h8.5v8.5h-8.5zM923.76 135.81h8.5v8.5h-8.5zM1027.76 167.81h8.5v8.5h-8.5zM1011.76 183.81h8.5v8.5h-8.5zM955.76 199.81h8.5v8.5h-8.5z"/>
<path fill="#a8a8a8" d="M971.76 199.81h8.5v8.5h-8.5z"/>
<path fill="#a9a9a9" d="M971.76 95.81h8.5v8.5h-8.5zM923.76 167.81h8.5v8.5h-8.5z"/>
<path fill="#aaaaaa" d="M955.76 95.81h8.5v8.5h-8.5zM1027.76 143.81h8.5v8.5h-8.5zM1027.76 159.81h8.5v8.5h-8.5zM1019.76 175.81h8.5v8.5h-8.5zM995.76 191.81h8.5v8.5h-8.5z"/>
<path fill="#ababab" d="M1003.76 119.81h8.5v8.5h-8.5zM923.76 143.81h8.5v8.5h-8.5zM1027.76 151.81h8.5v8.5h-8.5zM963.76 199.81h8.5v8.5h-8.5z"/>
<path fill="#adadad" d="M963.76 95.81h8.5v8.5h-8.5z"/>
<path fill="#aeaeae" d="M931.76 119.81h8.5v8.5h-8.5zM1011.76 127.81h8.5v8.5h-8.5z"/>
<path fill="#afafaf" d="M1019.76 135.81h8.5v8.5h-8.5zM923.76 151.81h8.5v8.5h-8.5z"/>
<path fill="#b0b0b0" d="M923.76 159.81h8.5v8.5h-8.5z"/>
<path fill="#b1b1b1" d="M1019.76 167.81h8.5v8.5h-8.5zM931.76 175.81h8.5v8.5h-8.5zM947.76 191.81h8.5v8.5h-8.5zM987.76 191.81h8.5v8.5h-8.5z"/>
<path fill="#b2b2b2" d="M1003.76 183.81h8.5v8.5h-8.5z"/>
<path fill="#b3b3b3" d="M979.76 103.81h8.5v8.5h-8.5zM1011.76 175.81h8.5v8.5h-8.5zM939.76 183.81h8.5v8.5h-8.5z"/>
<path fill="#b5b5b5" d="M947.76 103.81h8.5v8.5h-8.5zM939.76 111.81h8.5v8.5h-8.5z"/>
<path fill="#b6b6b6" d="M987.76 111.81h8.5v8.5h-8.5zM1019.76 143.81h8.5v8.5h-8.5z"/>
<path fill="#b7b7b7" d="M995.76 119.81h8.5v8.5h-8.5zM931.76 127.81h8.5v8.5h-8.5zM1019.76 159.81h8.5v8.5h-8.5z"/>
<path fill="#b8b8b8" d="M1003.76 127.81h8.5v8.5h-8.5z"/>
<path fill="#b9b9b9" d="M1011.76 135.81h8.5v8.5h-8.5zM1019.76 151.81h8.5v8.5h-8.5zM979.76 191.81h8.5v8.5h-8.5z"/>
<path fill="#bbbbbb" d="M1011.76 167.81h8.5v8.5h-8.5z"/>
<path fill="#bcbcbc" d="M995.76 183.81h8.5v8.5h-8.5z"/>
<path fill="#bdbdbd" d="M931.76 135.81h8.5v8.5h-8.5zM931.76 167.81h8.5v8.5h-8.5zM1003.76 175.81h8.5v8.5h-8.5z"/>
<path fill="#bebebe" d="M955.76 191.81h8.5v8.5h-8.5z"/>
<path fill="#bfbfbf" d="M971.76 191.81h8.5v8.5h-8.5z"/>
<path fill="#c0c0c0" d="M971.76 103.81h8.5v8.5h-8.5zM931.76 143.81h8.5v8.5h-8.5zM1011.76 143.81h8.5v8.5h-8.5zM1011.76 159.81h8.5v8.5h-8.5z"/>
<path fill="#c1c1c1" d="M955.76 103.81h8.5v8.5h-8.5z"/>
<path fill="#c2c2c2" d="M939.76 119.81h8.5v8.5h-8.5zM1003.76 135.81h8.5v8.5h-8.5z"/>
<path fill="#c3c3c3" d="M1011.76 151.81h8.5v8.5h-8.5zM1003.76 167.81h8.5v8.5h-8.5zM939.76 175.81h8.5v8.5h-8.5zM947.76 183.81h8.5v8.5h-8.5zM963.76 191.81h8.5v8.5h-8.5z"/>
<path fill="#c4c4c4" d="M995.76 127.81h8.5v8.5h-8.5zM987.76 183.81h8.5v8.5h-8.5z"/>
<path fill="#c5c5c5" d="M947.76 111.81h8.5v8.5h-8.5zM979.76 111.81h8.5v8.5h-8.5zM987.76 119.81h8.5v8.5h-8.5zM931.76 151.81h8.5v8.5h-8.5zM931.76 159.81h8.5v8.5h-8.5z"/>
<path fill="#c6c6c6" d="M963.76 103.81h8.5v8.5h-8.5zM1003.76 159.81h8.5v8.5h-8.5z"/>
<path fill="#c7c7c7" d="M1003.76 143.81h8.5v8.5h-8.5zM995.76 175.81h8.5v8.5h-8.5z"/>
<path fill="#c8c8c8" d="M1003.76 151.81h8.5v8.5h-8.5z"/>
<path fill="#cbcbcb" d="M995.76 167.81h8.5v8.5h-8.5zM979.76 183.81h8.5v8.5h-8.5z"/>
<path fill="#cccccc" d="M939.76 127.81h8.5v8.5h-8.5zM995.76 159.81h8.5v8.5h-8.5z"/>
<path fill="#cdcdcd" d="M995.76 135.81h8.5v8.5h-8.5z"/>
<path fill="#cecece" d="M995.76 151.81h8.5v8.5h-8.5z"/>
<path fill="#cfcfcf" d="M955.76 183.81h8.5v8.5h-8.5z"/>
<path fill="#d0d0d0" d="M971.76 111.81h8.5v8.5h-8.5zM939.76 167.81h8.5v8.5h-8.5zM987.76 175.81h8.5v8.5h-8.5z"/>
<path fill="#d1d1d1" d="M955.76 111.81h8.5v8.5h-8.5zM995.76 143.81h8.5v8.5h-8.5z"/>
<path fill="#d2d2d2" d="M947.76 119.81h8.5v8.5h-8.5zM987.76 127.81h8.5v8.5h-8.5zM947.76 175.81h8.5v8.5h-8.5zM971.76 183.81h8.5v8.5h-8.5z"/>
<path fill="#d3d3d3" d="M979.76 119.81h8.5v8.5h-8.5z"/>
<path fill="#d4d4d4" d="M939.76 135.81h8.5v8.5h-8.5zM963.76 183.81h8.5v8.5h-8.5z"/>
<path fill="#d5d5d5" d="M963.76 111.81h8.5v8.5h-8.5zM987.76 167.81h8.5v8.5h-8.5z"/>
<path fill="#d8d8d8" d="M987.76 159.81h8.5v8.5h-8.5zM979.76 175.81h8.5v8.5h-8.5z"/>
<path fill="#d9d9d9" d="M939.76 159.81h8.5v8.5h-8.5z"/>
<path fill="#dadada" d="M939.76 143.81h8.5v8.5h-8.5z"/>
<path fill="#dbdbdb" d="M987.76 135.81h8.5v8.5h-8.5z"/>
<path fill="#dcdcdc" d="M987.76 151.81h8.5v8.5h-8.5z"/>
<path fill="#dddddd" d="M955.76 119.81h8.5v8.5h-8.5zM971.76 119.81h8.5v8.5h-8.5zM939.76 151.81h8.5v8.5h-8.5zM955.76 175.81h8.5v8.5h-8.5z"/>
<path fill="#dedede" d="M947.76 127.81h8.5v8.5h-8.5z"/>
<path fill="#dfdfdf" d="M979.76 127.81h8.5v8.5h-8.5zM987.76 143.81h8.5v8.5h-8.5zM971.76 175.81h8.5v8.5h-8.5z"/>
<path fill="#e0e0e0" d="M963.76 119.81h8.5v8.5h-8.5zM947.76 167.81h8.5v8.5h-8.5zM979.76 167.81h8.5v8.5h-8.5z"/>
<path fill="#e2e2e2" d="M963.76 175.81h8.5v8.5h-8.5z"/>
<path fill="#e6e6e6" d="M979.76 159.81h8.5v8.5h-8.5z"/>
<path fill="#e8e8e8" d="M947.76 135.81h8.5v8.5h-8.5zM979.76 135.81h8.5v8.5h-8.5z"/>
<path fill="#e9e9e9" d="M971.76 127.81h8.5v8.5h-8.5z"/>
<path fill="#eaeaea" d="M955.76 127.81h8.5v8.5h-8.5zM947.76 159.81h8.5v8.5h-8.5zM955.76 167.81h8.5v8.5h-8.5zM971.76 167.81h8.5v8.5h-8.5z"/>
<path fill="#ebebeb" d="M979.76 151.81h8.5v8.5h-8.5z"/>
<path fill="#ededed" d="M979.76 143.81h8.5v8.5h-8.5zM963.76 167.81h8.5v8.5h-8.5z"/>
<path fill="#eeeeee" d="M963.76 127.81h8.5v8.5h-8.5z"/>
<path fill="#efefef" d="M947.76 143.81h8.5v8.5h-8.5z"/>
<path fill="#f0f0f0" d="M947.76 151.81h8.5v8.5h-8.5z"/>
<path fill="#f3f3f3" d="M971.76 135.81h8.5v8.5h-8.5zM971.76 159.81h8.5v8.5h-8.5z"/>
<path fill="#f4f4f4" d="M955.76 135.81h8.5v8.5h-8.5z"/>
<path fill="#f6f6f6" d="M955.76 159.81h8.5v8.5h-8.5z"/>
<path fill="#f8f8f8" d="M963.76 135.81h8.5v8.5h-8.5zM971.76 143.81h8.5v8.5h-8.5zM971.76 151.81h8.5v8.5h-8.5z"/>
<path fill="#fafafa" d="M963.76 159.81h8.5v8.5h-8.5z"/>
<path fill="#fbfbfb" d="M955.76 143.81h8.5v8.5h-8.5z"/>
<path fill="#fcfcfc" d="M955.76 151.81h8.5v8.5h-8.5z"/>
<path fill="#fefefe" d="M963.76 143.81h8.5v8.5h-8.5z"/>
<path fill="#ffffff" d="M963.76 151.81h8.5v8.5h-8.5z"/>
</g></g>
<path d="M851.5 47.81V445M1048.5 47.81V445" stroke="#fff" stroke-width="1" stroke-opacity="0.85" fill="none"/>
<rect x="699.76" y="47.81" width="532.43" height="532.43" fill="none" stroke="#000" stroke-width="0.75"/>
<path d="M749.5 580.24H1181.5M749.5 580.24v6.4M857.5 580.24v6.4M965.5 580.24v6.4M1073.5 580.24v6.4M1181.5 580.24v6.4M699.76 492.5V135.5M699.76 492.5h-6.4M699.76 403.25h-6.4M699.76 314h-6.4M699.76 224.75h-6.4M699.76 135.5h-6.4" fill="none" stroke="#000" stroke-width="0.75"/>
<text x="749.5" y="601.84" font-size="10.45" text-anchor="middle">-400</text>
<text x="857.5" y="601.84" font-size="10.45" text-anchor="middle">-200</text>
<text x="965.5" y="601.84" font-size="10.45" text-anchor="middle">0</text>
<text x="1073.5" y="601.84" font-size="10.45" text-anchor="middle">200</text>
<text x="1181.5" y="601.84" font-size="10.45" text-anchor="middle">400</text>
<text x="684.86" y="493.1" font-size="10.45" text-anchor="middle" transform="rotate(-90 684.86 493.1)">75</text>
<text x="684.86" y="403.85" font-size="10.45" text-anchor="middle" transform="rotate(-90 684.86 403.85)">80</text>
<text x="684.86" y="314.6" font-size="10.45" text-anchor="middle" transform="rotate(-90 684.86 314.6)">85</text>
<text x="684.86" y="225.35" font-size="10.45" text-anchor="middle" transform="rotate(-90 684.86 225.35)">90</text>
<text x="684.86" y="136.1" font-size="10.45" text-anchor="middle" transform="rotate(-90 684.86 136.1)">95</text>
<text x="965.98" y="31.8" font-size="21.55" text-anchor="middle" font-weight="bold">Density heat map for the top hits</text>
<text x="965.98" y="625.84" font-size="15.98" text-anchor="middle">Distance to peak summit</text>
<text x="662.26" y="314.02" font-size="15.98" text-anchor="middle" transform="rotate(-90 662.26 314.02)">Motif score</text>
<g clip-path="url(#c2)">
<path d="M947.95 580.24L947.95 47.81" stroke="#006400" stroke-width="1.5" stroke-dasharray="6 6" stroke-linecap="round" fill="none"/>
<path d="M983.05 580.24L983.05 47.81" stroke="#006400" stroke-width="1.5" stroke-dasharray="6 6" stroke-linecap="round" fill="none"/>
<path d="M699.76 297.93L1232.19 297.93" stroke="#CD3333" stroke-width="1.5" stroke-dasharray="6 6" stroke-linecap="round" fill="none"/>
</g>
</g>
<g id="panel3" opacity="0.999">
<rect x="59.76" y="687.81" width="532.43" height="532.43" fill="none" stroke="#000" stroke-width="0.75"/>
<path d="M122.3 1220.24H530.3M122.3 1220.24v6.4M258.3 1220.24v6.4M394.3 1220.24v6.4M530.3 1220.24v6.4M59.76 1200.45V737.05M59.76 1200.45h-6.4M59.76 1107.77h-6.4M59.76 1015.09h-6.4M59.76 922.41h-6.4M59.76 829.73h-6.4M59.76 737.05h-6.4" fill="none" stroke="#000" stroke-width="0.75"/>
<text x="122.3" y="1241.84" font-size="10.45" text-anchor="middle">70</text>
<text x="258.3" y="1241.84" font-size="10.45" text-anchor="middle">80</text>
<text x="394.3" y="1241.84" font-size="10.45" text-anchor="middle">90</text>
<text x="530.3" y="1241.84" font-size="10.45" text-anchor="middle">100</text>
<text x="44.86" y="1201.05" font-size="10.45" text-anchor="middle" transform="rotate(-90 44.86 1201.05)">0.00</text>
<text x="44.86" y="1108.37" font-size="10.45" text-anchor="middle" transform="rotate(-90 44.86 1108.37)">0.02</text>
<text x="44.86" y="1015.69" font-size="10.45" text-anchor="middle" transform="rotate(-90 44.86 1015.69)">0.04</text>
<text x="44.86" y="923.01" font-size="10.45" text-anchor="middle" transform="rotate(-90 44.86 923.01)">0.06</text>
<text x="44.86" y="830.33" font-size="10.45" text-anchor="middle" transform="rotate(-90 44.86 830.33)">0.08</text>
<text x="44.86" y="737.65" font-size="10.45" text-anchor="middle" transform="rotate(-90 44.86 737.65)">0.10</text>
<text x="325.98" y="671.8" font-size="21.55" text-anchor="middle" font-weight="bold">Motif score threshold: 85.900</text>
<text x="325.98" y="1265.84" font-size="15.98" text-anchor="middle">Motif score</text>
<text x="22.26" y="954.02" font-size="15.98" text-anchor="middle" transform="rotate(-90 22.26 954.02)">Density</text>
<path d="M79.48 1200.42 81.41 1200.41 83.35 1200.39 85.28 1200.36 87.21 1200.32 89.15 1200.27 91.08 1200.2 93.01 1200.12 94.95 1200.01 96.88 1199.88 98.81 1199.72 100.75 1199.52 102.68 1199.3 104.61 1199.05 106.55 1198.76 108.48 1198.45 110.41 1198.11 112.35 1197.76 114.28 1197.38 116.21 1197 118.15 1196.61 120.08 1196.23 122.01 1195.85 123.95 1195.48 125.88 1195.11 127.81 1194.76 129.75 1194.41 131.68 1194.07 133.61 1193.74 135.55 1193.43 137.48 1193.13 139.41 1192.86 141.35 1192.62 143.28 1192.42 145.21 1192.28 147.15 1192.21 149.08 1192.2 151.01 1192.28 152.95 1192.44 154.88 1192.67 156.81 1192.97 158.75 1193.33 160.68 1193.72 162.61 1194.13 164.55 1194.52 166.48 1194.89 168.41 1195.21 170.35 1195.47 172.28 1195.64 174.21 1195.73 176.14 1195.73 178.08 1195.65 180.01 1195.49 181.94 1195.27 183.88 1194.99 185.81 1194.68 187.74 1194.36 189.68 1194.02 191.61 1193.69 193.54 1193.37 195.48 1193.08 197.41 1192.8 199.34 1192.54 201.28 1192.29 203.21 1192.05 205.14 1191.81 207.08 1191.55 209.01 1191.26 210.94 1190.93 212.88 1190.55 214.81 1190.1 216.74 1189.58 218.68 1188.96 220.61 1188.24 222.54 1187.41 224.48 1186.46 226.41 1185.39 228.34 1184.17 230.28 1182.81 232.21 1181.29 234.14 1179.6 236.08 1177.72 238.01 1175.64 239.94 1173.34 241.88 1170.82 243.81 1168.06 245.74 1165.08 247.68 1161.89 249.61 1158.53 251.54 1155.05 253.48 1151.49 255.41 1147.94 257.34 1144.46 259.28 1141.13 261.21 1137.99 263.14 1135.12 265.08 1132.54 267.01 1130.26 268.94 1128.28 270.88 1126.58 272.81 1125.1 274.74 1123.8 276.68 1122.61 278.61 1121.46 280.54 1120.28 282.48 1119.01 284.41 1117.6 286.34 1116.02 288.28 1114.23 290.21 1112.21 292.14 1109.97 294.08 1107.5 296.01 1104.81 297.94 1101.93 299.88 1098.86 301.81 1095.62 303.74 1092.23 305.68 1088.71 307.61 1085.07 309.54 1081.31 311.48 1077.46 313.41 1073.5 315.34 1069.46 317.28 1065.33 319.21 1061.13 321.14 1056.85 323.08 1052.49 325.01 1048.06 326.94 1043.55 328.88 1038.98 330.81 1034.34 332.74 1029.67 334.68 1024.99 336.61 1020.36 338.54 1015.84 340.48 1011.52 342.41 1007.47 344.34 1003.78 346.28 1000.55 348.21 997.84 350.14 995.71 352.08 994.19 354.01 993.28 355.94 992.96 357.88 993.19 359.81 993.89 361.74 995 363.68 996.41 365.61 998.01 367.54 999.68 369.48 1001.29 371.41 1002.7 373.34 1003.76 375.28 1004.35 377.21 1004.33 379.14 1003.59 381.08 1002.07 383.01 999.7 384.94 996.48 386.88 992.42 388.81 987.57 390.74 981.97 392.67 975.68 394.61 968.75 396.54 961.19 398.47 953.01 400.41 944.19 402.34 934.7 404.27 924.49 406.21 913.56 408.14 901.89 410.07 889.52 412.01 876.53 413.94 863.02 415.87 849.15 417.81 835.07 419.74 820.95 421.67 806.98 423.61 793.34 425.54 780.18 427.47 767.68 429.41 755.97 431.34 745.22 433.27 735.57 435.21 727.19 437.14 720.21 439.07 714.78 441.01 711.02 442.94 709.01 444.87 708.78 446.81 710.35 448.74 713.66 450.67 718.62 452.61 725.13 454.54 733.03 456.47 742.17 458.41 752.41 460.34 763.58 462.27 775.53 464.21 788.13 466.14 801.22 468.07 814.66 470.01 828.33 471.94 842.09 473.87 855.83 475.81 869.45 477.74 882.89 479.67 896.12 481.61 909.11 483.54 921.91 485.47 934.56 487.41 947.09 489.34 959.58 491.27 972.05 493.21 984.51 495.14 996.96 497.07 1009.36 499.01 1021.64 500.94 1033.74 502.87 1045.59 504.81 1057.12 506.74 1068.27 508.67 1078.99 510.61 1089.28 512.54 1099.11 514.47 1108.48 516.41 1117.42 518.34 1125.9 520.27 1133.95 522.21 1141.56 524.14 1148.7 526.07 1155.37 528.01 1161.55 529.94 1167.2 531.87 1172.33 533.81 1176.93 535.74 1180.99 537.67 1184.54 539.61 1187.59 541.54 1190.18 543.47 1192.34 545.41 1194.13 547.34 1195.58 549.27 1196.74 551.21 1197.66 553.14 1198.38 555.07 1198.93 557.01 1199.35 558.94 1199.66 560.87 1199.89 562.81 1200.06 564.74 1200.18 566.67 1200.27 568.61 1200.33 570.54 1200.37 572.47 1200.4L572.47 1200.45L79.48 1200.45Z" fill="#F5DEB3" stroke="none"/>
<path d="M79.48 1200.42 81.41 1200.41 83.35 1200.39 85.28 1200.36 87.21 1200.32 89.15 1200.27 91.08 1200.2 93.01 1200.12 94.95 1200.01 96.88 1199.88 98.81 1199.72 100.75 1199.52 102.68 1199.3 104.61 1199.05 106.55 1198.76 108.48 1198.45 110.41 1198.11 112.35 1197.76 114.28 1197.38 116.21 1197 118.15 1196.61 120.08 1196.23 122.01 1195.85 123.95 1195.48 125.88 1195.11 127.81 1194.76 129.75 1194.41 131.68 1194.07 133.61 1193.74 135.55 1193.43 137.48 1193.13 139.41 1192.86 141.35 1192.62 143.28 1192.42 145.21 1192.28 147.15 1192.21 149.08 1192.2 151.01 1192.28 152.95 1192.44 154.88 1192.67 156.81 1192.97 158.75 1193.33 160.68 1193.72 162.61 1194.13 164.55 1194.52 166.48 1194.89 168.41 1195.21 170.35 1195.47 172.28 1195.64 174.21 1195.73 176.14 1195.73 178.08 1195.65 180.01 1195.49 181.94 1195.27 183.88 1194.99 185.81 1194.68 187.74 1194.36 189.68 1194.02 191.61 1193.69 193.54 1193.37 195.48 1193.08 197.41 1192.8 199.34 1192.54 201.28 1192.29 203.21 1192.05 205.14 1191.81 207.08 1191.55 209.01 1191.26 210.94 1190.93 212.88 1190.55 214.81 1190.1 216.74 1189.58 218.68 1188.96 220.61 1188.24 222.54 1187.41 224.48 1186.46 226.41 1185.39 228.34 1184.17 230.28 1182.81 232.21 1181.29 234.14 1179.6 236.08 1177.72 238.01 1175.64 239.94 1173.34 241.88 1170.82 243.81 1168.06 245.74 1165.08 247.68 1161.89 249.61 1158.53 251.54 1155.05 253.48 1151.49 255.41 1147.94 257.34 1144.46 259.28 1141.13 261.21 1137.99 263.14 1135.12 265.08 1132.54 267.01 1130.26 268.94 1128.28 270.88 1126.58 272.81 1125.1 274.74 1123.8 276.68 1122.61 278.61 1121.46 280.54 1120.28 282.48 1119.01 284.41 1117.6 286.34 1116.02 288.28 1114.23 290.21 1112.21 292.14 1109.97 294.08 1107.5 296.01 1104.81 297.94 1101.93 299.88 1098.86 301.81 1095.62 303.74 1092.23 305.68 1088.71 307.61 1085.07 309.54 1081.31 311.48 1077.46 313.41 1073.5 315.34 1069.46 317.28 1065.33 319.21 1061.13 321.14 1056.85 323.08 1052.49 325.01 1048.06 326.94 1043.55 328.88 1038.98 330.81 1034.34 332.74 1029.67 334.68 1024.99 336.61 1020.36 338.54 1015.84 340.48 1011.52 342.41 1007.47 344.34 1003.78 346.28 1000.55 348.21 997.84 350.14 995.71 352.08 994.19 354.01 993.28 355.94 992.96 357.88 993.19 359.81 993.89 361.74 995 363.68 996.41 365.61 998.01 367.54 999.68 369.48 1001.29 371.41 1002.7 373.34 1003.76 375.28 1004.35 377.21 1004.33 379.14 1003.59 381.08 1002.07 383.01 999.7 384.94 996.48 386.88 992.42 388.81 987.57 390.74 981.97 392.67 975.68 394.61 968.75 396.54 961.19 398.47 953.01 400.41 944.19 402.34 934.7 404.27 924.49 406.21 913.56 408.14 901.89 410.07 889.52 412.01 876.53 413.94 863.02 415.87 849.15 417.81 835.07 419.74 820.95 421.67 806.98 423.61 793.34 425.54 780.18 427.47 767.68 429.41 755.97 431.34 745.22 433.27 735.57 435.21 727.19 437.14 720.21 439.07 714.78 441.01 711.02 442.94 709.01 444.87 708.78 446.81 710.35 448.74 713.66 450.67 718.62 452.61 725.13 454.54 733.03 456.47 742.17 458.41 752.41 460.34 763.58 462.27 775.53 464.21 788.13 466.14 801.22 468.07 814.66 470.01 828.33 471.94 842.09 473.87 855.83 475.81 869.45 477.74 882.89 479.67 896.12 481.61 909.11 483.54 921.91 485.47 934.56 487.41 947.09 489.34 959.58 491.27 972.05 493.21 984.51 495.14 996.96 497.07 1009.36 499.01 1021.64 500.94 1033.74 502.87 1045.59 504.81 1057.12 506.74 1068.27 508.67 1078.99 510.61 1089.28 512.54 1099.11 514.47 1108.48 516.41 1117.42 518.34 1125.9 520.27 1133.95 522.21 1141.56 524.14 1148.7 526.07 1155.37 528.01 1161.55 529.94 1167.2 531.87 1172.33 533.81 1176.93 535.74 1180.99 537.67 1184.54 539.61 1187.59 541.54 1190.18 543.47 1192.34 545.41 1194.13 547.34 1195.58 549.27 1196.74 551.21 1197.66 553.14 1198.38 555.07 1198.93 557.01 1199.35 558.94 1199.66 560.87 1199.89 562.81 1200.06 564.74 1200.18 566.67 1200.27 568.61 1200.33 570.54 1200.37 572.47 1200.4" fill="none" stroke="#000" stroke-width="1.25" stroke-linejoin="round"/>
<path d="M79.48 1200.45H572.47" stroke="#000" stroke-width="1" fill="none"/>
<g clip-path="url(#c3)">
<path d="M338.29 1220.24L338.29 687.81" stroke="#CD2222" stroke-width="1.5" stroke-dasharray="6 6" stroke-linecap="round" fill="none"/>
</g>
</g>
<g id="panel4" opacity="0.999">
<rect x="699.76" y="687.81" width="532.43" height="532.43" fill="none" stroke="#000" stroke-width="0.75"/>
<path d="M724.88 1220.24H1206.32M724.88 1220.24v6.4M805.12 1220.24v6.4M885.36 1220.24v6.4M965.6 1220.24v6.4M1045.84 1220.24v6.4M1126.08 1220.24v6.4M1206.32 1220.24v6.4M699.76 1200.45V705.7M699.76 1200.45h-6.4M699.76 1101.5h-6.4M699.76 1002.55h-6.4M699.76 903.6h-6.4M699.76 804.65h-6.4M699.76 705.7h-6.4" fill="none" stroke="#000" stroke-width="0.75"/>
<text x="724.88" y="1241.84" font-size="10.45" text-anchor="middle">-600</text>
<text x="805.12" y="1241.84" font-size="10.45" text-anchor="middle">-400</text>
<text x="885.36" y="1241.84" font-size="10.45" text-anchor="middle">-200</text>
<text x="965.6" y="1241.84" font-size="10.45" text-anchor="middle">0</text>
<text x="1045.84" y="1241.84" font-size="10.45" text-anchor="middle">200</text>
<text x="1126.08" y="1241.84" font-size="10.45" text-anchor="middle">400</text>
<text x="1206.32" y="1241.84" font-size="10.45" text-anchor="middle">600</text>
<text x="684.86" y="1201.05" font-size="10.45" text-anchor="middle" transform="rotate(-90 684.86 1201.05)">0.0000</text>
<text x="684.86" y="1102.1" font-size="10.45" text-anchor="middle" transform="rotate(-90 684.86 1102.1)">0.0005</text>
<text x="684.86" y="1003.15" font-size="10.45" text-anchor="middle" transform="rotate(-90 684.86 1003.15)">0.0010</text>
<text x="684.86" y="904.2" font-size="10.45" text-anchor="middle" transform="rotate(-90 684.86 904.2)">0.0015</text>
<text x="684.86" y="805.25" font-size="10.45" text-anchor="middle" transform="rotate(-90 684.86 805.25)">0.0020</text>
<text x="684.86" y="706.3" font-size="10.45" text-anchor="middle" transform="rotate(-90 684.86 706.3)">0.0025</text>
<text x="965.98" y="671.8" font-size="21.55" text-anchor="middle" font-weight="bold">Enrichment zone: 32.50</text>
<text x="965.98" y="1265.84" font-size="15.98" text-anchor="middle">Distance to peak summit</text>
<text x="662.26" y="954.02" font-size="15.98" text-anchor="middle" transform="rotate(-90 662.26 954.02)">Density</text>
<path d="M719.48 1200.28 721.41 1200.19 723.35 1200.08 725.28 1199.92 727.21 1199.71 729.15 1199.42 731.08 1199.04 733.01 1198.54 734.95 1197.9 736.88 1197.1 738.81 1196.1 740.75 1194.87 742.68 1193.4 744.61 1191.65 746.55 1189.61 748.48 1187.26 750.41 1184.62 752.35 1181.67 754.28 1178.44 756.21 1174.97 758.15 1171.28 760.08 1167.42 762.01 1163.46 763.95 1159.43 765.88 1155.39 767.81 1151.4 769.75 1147.5 771.68 1143.72 773.61 1140.08 775.55 1136.6 777.48 1133.28 779.41 1130.12 781.35 1127.12 783.28 1124.27 785.21 1121.55 787.15 1118.97 789.08 1116.52 791.01 1114.2 792.95 1112.02 794.88 1109.97 796.81 1108.07 798.75 1106.31 800.68 1104.69 802.61 1103.2 804.55 1101.83 806.48 1100.56 808.41 1099.38 810.35 1098.25 812.28 1097.16 814.21 1096.09 816.14 1095.02 818.08 1093.93 820.01 1092.81 821.94 1091.65 823.88 1090.44 825.81 1089.19 827.74 1087.9 829.68 1086.58 831.61 1085.24 833.54 1083.89 835.48 1082.58 837.41 1081.31 839.34 1080.13 841.28 1079.07 843.21 1078.17 845.14 1077.43 847.08 1076.88 849.01 1076.52 850.94 1076.33 852.88 1076.29 854.81 1076.35 856.74 1076.47 858.68 1076.58 860.61 1076.63 862.54 1076.55 864.48 1076.29 866.41 1075.78 868.34 1075 870.28 1073.91 872.21 1072.48 874.14 1070.7 876.08 1068.56 878.01 1066.05 879.94 1063.18 881.88 1059.96 883.81 1056.4 885.74 1052.53 887.68 1048.36 889.61 1043.94 891.54 1039.3 893.48 1034.49 895.41 1029.53 897.34 1024.47 899.28 1019.33 901.21 1014.13 903.14 1008.88 905.08 1003.57 907.01 998.19 908.94 992.74 910.88 987.18 912.81 981.5 914.74 975.68 916.68 969.67 918.61 963.45 920.54 956.96 922.48 950.11 924.41 942.83 926.34 934.98 928.28 926.43 930.21 917.05 932.14 906.68 934.08 895.22 936.01 882.59 937.94 868.78 939.88 853.86 941.81 838.01 943.74 821.46 945.68 804.58 947.61 787.78 949.54 771.52 951.48 756.29 953.41 742.55 955.34 730.71 957.28 721.11 959.21 713.97 961.14 709.39 963.08 707.37 965.01 707.79 966.94 710.43 968.88 715 970.81 721.17 972.74 728.59 974.68 736.92 976.61 745.84 978.54 755.08 980.48 764.4 982.41 773.63 984.34 782.62 986.28 791.27 988.21 799.54 990.14 807.36 992.08 814.72 994.01 821.62 995.94 828.06 997.88 834.06 999.81 839.64 1001.74 844.84 1003.68 849.7 1005.61 854.27 1007.54 858.62 1009.48 862.81 1011.41 866.91 1013.34 871.01 1015.28 875.18 1017.21 879.5 1019.14 884.03 1021.08 888.85 1023.01 894.01 1024.94 899.56 1026.88 905.52 1028.81 911.9 1030.74 918.69 1032.67 925.88 1034.61 933.43 1036.54 941.28 1038.47 949.38 1040.41 957.66 1042.34 966.06 1044.27 974.49 1046.21 982.9 1048.14 991.22 1050.07 999.38 1052.01 1007.31 1053.94 1014.96 1055.87 1022.25 1057.81 1029.14 1059.74 1035.58 1061.67 1041.51 1063.61 1046.91 1065.54 1051.76 1067.47 1056.05 1069.41 1059.81 1071.34 1063.07 1073.27 1065.87 1075.21 1068.27 1077.14 1070.34 1079.07 1072.17 1081.01 1073.81 1082.94 1075.34 1084.87 1076.83 1086.81 1078.31 1088.74 1079.82 1090.67 1081.39 1092.61 1083.03 1094.54 1084.75 1096.47 1086.51 1098.41 1088.32 1100.34 1090.14 1102.27 1091.96 1104.21 1093.73 1106.14 1095.44 1108.07 1097.07 1110.01 1098.59 1111.94 1100 1113.87 1101.28 1115.81 1102.44 1117.74 1103.47 1119.67 1104.37 1121.61 1105.15 1123.54 1105.8 1125.47 1106.35 1127.41 1106.78 1129.34 1107.12 1131.27 1107.37 1133.21 1107.57 1135.14 1107.74 1137.07 1107.94 1139.01 1108.21 1140.94 1108.62 1142.87 1109.24 1144.81 1110.14 1146.74 1111.4 1148.67 1113.07 1150.61 1115.19 1152.54 1117.82 1154.47 1120.94 1156.41 1124.55 1158.34 1128.61 1160.27 1133.07 1162.21 1137.84 1164.14 1142.85 1166.07 1147.99 1168.01 1153.16 1169.94 1158.28 1171.87 1163.24 1173.81 1167.97 1175.74 1172.42 1177.67 1176.52 1179.61 1180.25 1181.54 1183.59 1183.47 1186.54 1185.41 1189.1 1187.34 1191.3 1189.27 1193.15 1191.21 1194.7 1193.14 1195.97 1195.07 1197.01 1197.01 1197.83 1198.94 1198.48 1200.87 1198.99 1202.81 1199.38 1204.74 1199.68 1206.67 1199.9 1208.61 1200.06 1210.54 1200.18 1212.47 1200.26L1212.47 1200.45L719.48 1200.45Z" fill="#F5DEB3" stroke="none"/>
<path d="M719.48 1200.28 721.41 1200.19 723.35 1200.08 725.28 1199.92 727.21 1199.71 729.15 1199.42 731.08 1199.04 733.01 1198.54 734.95 1197.9 736.88 1197.1 738.81 1196.1 740.75 1194.87 742.68 1193.4 744.61 1191.65 746.55 1189.61 748.48 1187.26 750.41 1184.62 752.35 1181.67 754.28 1178.44 756.21 1174.97 758.15 1171.28 760.08 1167.42 762.01 1163.46 763.95 1159.43 765.88 1155.39 767.81 1151.4 769.75 1147.5 771.68 1143.72 773.61 1140.08 775.55 1136.6 777.48 1133.28 779.41 1130.12 781.35 1127.12 783.28 1124.27 785.21 1121.55 787.15 1118.97 789.08 1116.52 791.01 1114.2 792.95 1112.02 794.88 1109.97 796.81 1108.07 798.75 1106.31 800.68 1104.69 802.61 1103.2 804.55 1101.83 806.48 1100.56 808.41 1099.38 810.35 1098.25 812.28 1097.16 814.21 1096.09 816.14 1095.02 818.08 1093.93 820.01 1092.81 821.94 1091.65 823.88 1090.44 825.81 1089.19 827.74 1087.9 829.68 1086.58 831.61 1085.24 833.54 1083.89 835.48 1082.58 837.41 1081.31 839.34 1080.13 841.28 1079.07 843.21 1078.17 845.14 1077.43 847.08 1076.88 849.01 1076.52 850.94 1076.33 852.88 1076.29 854.81 1076.35 856.74 1076.47 858.68 1076.58 860.61 1076.63 862.54 1076.55 864.48 1076.29 866.41 1075.78 868.34 1075 870.28 1073.91 872.21 1072.48 874.14 1070.7 876.08 1068.56 878.01 1066.05 879.94 1063.18 881.88 1059.96 883.81 1056.4 885.74 1052.53 887.68 1048.36 889.61 1043.94 891.54 1039.3 893.48 1034.49 895.41 1029.53 897.34 1024.47 899.28 1019.33 901.21 1014.13 903.14 1008.88 905.08 1003.57 907.01 998.19 908.94 992.74 910.88 987.18 912.81 981.5 914.74 975.68 916.68 969.67 918.61 963.45 920.54 956.96 922.48 950.11 924.41 942.83 926.34 934.98 928.28 926.43 930.21 917.05 932.14 906.68 934.08 895.22 936.01 882.59 937.94 868.78 939.88 853.86 941.81 838.01 943.74 821.46 945.68 804.58 947.61 787.78 949.54 771.52 951.48 756.29 953.41 742.55 955.34 730.71 957.28 721.11 959.21 713.97 961.14 709.39 963.08 707.37 965.01 707.79 966.94 710.43 968.88 715 970.81 721.17 972.74 728.59 974.68 736.92 976.61 745.84 978.54 755.08 980.48 764.4 982.41 773.63 984.34 782.62 986.28 791.27 988.21 799.54 990.14 807.36 992.08 814.72 994.01 821.62 995.94 828.06 997.88 834.06 999.81 839.64 1001.74 844.84 1003.68 849.7 1005.61 854.27 1007.54 858.62 1009.48 862.81 1011.41 866.91 1013.34 871.01 1015.28 875.18 1017.21 879.5 1019.14 884.03 1021.08 888.85 1023.01 894.01 1024.94 899.56 1026.88 905.52 1028.81 911.9 1030.74 918.69 1032.67 925.88 1034.61 933.43 1036.54 941.28 1038.47 949.38 1040.41 957.66 1042.34 966.06 1044.27 974.49 1046.21 982.9 1048.14 991.22 1050.07 999.38 1052.01 1007.31 1053.94 1014.96 1055.87 1022.25 1057.81 1029.14 1059.74 1035.58 1061.67 1041.51 1063.61 1046.91 1065.54 1051.76 1067.47 1056.05 1069.41 1059.81 1071.34 1063.07 1073.27 1065.87 1075.21 1068.27 1077.14 1070.34 1079.07 1072.17 1081.01 1073.81 1082.94 1075.34 1084.87 1076.83 1086.81 1078.31 1088.74 1079.82 1090.67 1081.39 1092.61 1083.03 1094.54 1084.75 1096.47 1086.51 1098.41 1088.32 1100.34 1090.14 1102.27 1091.96 1104.21 1093.73 1106.14 1095.44 1108.07 1097.07 1110.01 1098.59 1111.94 1100 1113.87 1101.28 1115.81 1102.44 1117.74 1103.47 1119.67 1104.37 1121.61 1105.15 1123.54 1105.8 1125.47 1106.35 1127.41 1106.78 1129.34 1107.12 1131.27 1107.37 1133.21 1107.57 1135.14 1107.74 1137.07 1107.94 1139.01 1108.21 1140.94 1108.62 1142.87 1109.24 1144.81 1110.14 1146.74 1111.4 1148.67 1113.07 1150.61 1115.19 1152.54 1117.82 1154.47 1120.94 1156.41 1124.55 1158.34 1128.61 1160.27 1133.07 1162.21 1137.84 1164.14 1142.85 1166.07 1147.99 1168.01 1153.16 1169.94 1158.28 1171.87 1163.24 1173.81 1167.97 1175.74 1172.42 1177.67 1176.52 1179.61 1180.25 1181.54 1183.59 1183.47 1186.54 1185.41 1189.1 1187.34 1191.3 1189.27 1193.15 1191.21 1194.7 1193.14 1195.97 1195.07 1197.01 1197.01 1197.83 1198.94 1198.48 1200.87 1198.99 1202.81 1199.38 1204.74 1199.68 1206.67 1199.9 1208.61 1200.06 1210.54 1200.18 1212.47 1200.26" fill="none" stroke="#000" stroke-width="1.25" stroke-linejoin="round"/>
<path d="M719.48 1200.45H1212.47" stroke="#000" stroke-width="1" fill="none"/>
<g clip-path="url(#c4)">
<path d="M952.56 1220.24L952.56 687.81" stroke="#006400" stroke-width="1.5" stroke-dasharray="6 6" stroke-linecap="round" fill="none"/>
<path d="M978.64 1220.24L978.64 687.81" stroke="#006400" stroke-width="1.5" stroke-dasharray="6 6" stroke-linecap="round" fill="none"/>
</g>
<path d="M1016.9 703.4H1040.9" stroke="#006400" stroke-width="1.5" stroke-dasharray="0.01 4.5" stroke-linecap="round" fill="none"/>
<path d="M1016.9 719.1H1040.9" stroke="#E05050" stroke-width="1.5" stroke-dasharray="0.01 4.5" stroke-linecap="round" fill="none"/>
<ellipse cx="1029.1" cy="734.8" rx="3.2" ry="2.7" fill="#0000FF"/>
<text x="1052.5" y="707.6" font-size="12.78" text-anchor="start">enrichment zone = 32.5</text>
<text x="1052.5" y="723.3" font-size="12.78" text-anchor="start">motif score threshold = 85.900</text>
<text x="1052.5" y="739" font-size="12.78" text-anchor="start">centrality p-val = -4.2047</text>
</g>
</svg>
</body></html>
